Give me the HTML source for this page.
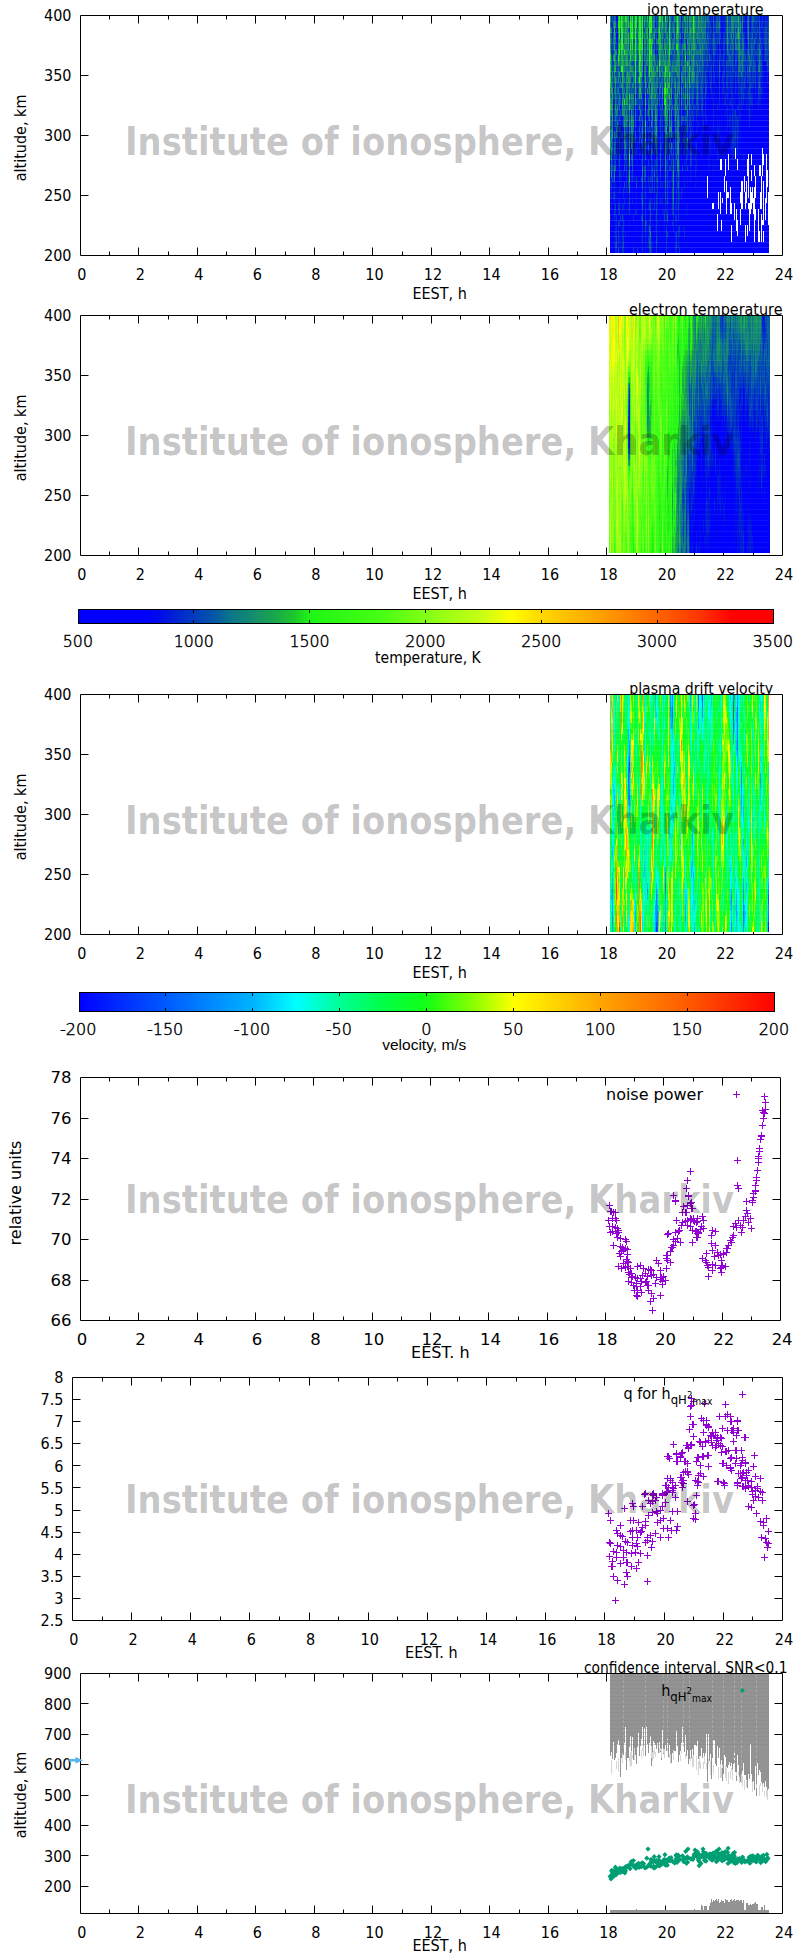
<!DOCTYPE html><html><head><meta charset="utf-8"><title>Institute of ionosphere, Kharkiv</title><style>html,body{margin:0;padding:0;background:#fff}svg{display:block}</style></head><body>
<svg width="800" height="1958" viewBox="0 0 800 1958">
<rect width="800" height="1958" fill="#fff"/>
<path d="M80.5 15.5H782.5V255.5H80.5ZM109.5 255.5v-4M109.5 15.5v4M138.5 255.5v-8M138.5 15.5v8M168.5 255.5v-4M168.5 15.5v4M197.5 255.5v-8M197.5 15.5v8M226.5 255.5v-4M226.5 15.5v4M255.5 255.5v-8M255.5 15.5v8M285.5 255.5v-4M285.5 15.5v4M314.5 255.5v-8M314.5 15.5v8M343.5 255.5v-4M343.5 15.5v4M372.5 255.5v-8M372.5 15.5v8M402.5 255.5v-4M402.5 15.5v4M431.5 255.5v-8M431.5 15.5v8M460.5 255.5v-4M460.5 15.5v4M489.5 255.5v-8M489.5 15.5v8M519.5 255.5v-4M519.5 15.5v4M548.5 255.5v-8M548.5 15.5v8M577.5 255.5v-4M577.5 15.5v4M606.5 255.5v-8M606.5 15.5v8M636.5 255.5v-4M636.5 15.5v4M665.5 255.5v-8M665.5 15.5v8M694.5 255.5v-4M694.5 15.5v4M723.5 255.5v-8M723.5 15.5v8M753.5 255.5v-4M753.5 15.5v4M80.5 195.5h8M782.5 195.5h-8M80.5 135.5h8M782.5 135.5h-8M80.5 75.5h8M782.5 75.5h-8" fill="none" stroke="#000" stroke-width="1"/>
<g font-family="'DejaVu Sans Condensed','DejaVu Sans',sans-serif" font-size="16" fill="#000">
<text x="81.9" y="280" text-anchor="middle">0</text>
<text x="140.4" y="280" text-anchor="middle">2</text>
<text x="198.9" y="280" text-anchor="middle">4</text>
<text x="257.4" y="280" text-anchor="middle">6</text>
<text x="315.9" y="280" text-anchor="middle">8</text>
<text x="374.4" y="280" text-anchor="middle">10</text>
<text x="432.9" y="280" text-anchor="middle">12</text>
<text x="491.4" y="280" text-anchor="middle">14</text>
<text x="549.9" y="280" text-anchor="middle">16</text>
<text x="608.4" y="280" text-anchor="middle">18</text>
<text x="666.9" y="280" text-anchor="middle">20</text>
<text x="725.4" y="280" text-anchor="middle">22</text>
<text x="783.9" y="280" text-anchor="middle">24</text>
<text x="71.5" y="261.2" text-anchor="end">200</text>
<text x="71.5" y="201.2" text-anchor="end">250</text>
<text x="71.5" y="141.2" text-anchor="end">300</text>
<text x="71.5" y="81.2" text-anchor="end">350</text>
<text x="71.5" y="21.2" text-anchor="end">400</text>
</g>
<path d="M80.5 315.5H782.5V555.5H80.5ZM109.5 555.5v-4M109.5 315.5v4M138.5 555.5v-8M138.5 315.5v8M168.5 555.5v-4M168.5 315.5v4M197.5 555.5v-8M197.5 315.5v8M226.5 555.5v-4M226.5 315.5v4M255.5 555.5v-8M255.5 315.5v8M285.5 555.5v-4M285.5 315.5v4M314.5 555.5v-8M314.5 315.5v8M343.5 555.5v-4M343.5 315.5v4M372.5 555.5v-8M372.5 315.5v8M402.5 555.5v-4M402.5 315.5v4M431.5 555.5v-8M431.5 315.5v8M460.5 555.5v-4M460.5 315.5v4M489.5 555.5v-8M489.5 315.5v8M519.5 555.5v-4M519.5 315.5v4M548.5 555.5v-8M548.5 315.5v8M577.5 555.5v-4M577.5 315.5v4M606.5 555.5v-8M606.5 315.5v8M636.5 555.5v-4M636.5 315.5v4M665.5 555.5v-8M665.5 315.5v8M694.5 555.5v-4M694.5 315.5v4M723.5 555.5v-8M723.5 315.5v8M753.5 555.5v-4M753.5 315.5v4M80.5 495.5h8M782.5 495.5h-8M80.5 435.5h8M782.5 435.5h-8M80.5 375.5h8M782.5 375.5h-8" fill="none" stroke="#000" stroke-width="1"/>
<g font-family="'DejaVu Sans Condensed','DejaVu Sans',sans-serif" font-size="16" fill="#000">
<text x="81.9" y="580" text-anchor="middle">0</text>
<text x="140.4" y="580" text-anchor="middle">2</text>
<text x="198.9" y="580" text-anchor="middle">4</text>
<text x="257.4" y="580" text-anchor="middle">6</text>
<text x="315.9" y="580" text-anchor="middle">8</text>
<text x="374.4" y="580" text-anchor="middle">10</text>
<text x="432.9" y="580" text-anchor="middle">12</text>
<text x="491.4" y="580" text-anchor="middle">14</text>
<text x="549.9" y="580" text-anchor="middle">16</text>
<text x="608.4" y="580" text-anchor="middle">18</text>
<text x="666.9" y="580" text-anchor="middle">20</text>
<text x="725.4" y="580" text-anchor="middle">22</text>
<text x="783.9" y="580" text-anchor="middle">24</text>
<text x="71.5" y="561.2" text-anchor="end">200</text>
<text x="71.5" y="501.2" text-anchor="end">250</text>
<text x="71.5" y="441.2" text-anchor="end">300</text>
<text x="71.5" y="381.2" text-anchor="end">350</text>
<text x="71.5" y="321.2" text-anchor="end">400</text>
</g>
<path d="M80.5 694.5H782.5V934.5H80.5ZM109.5 934.5v-4M109.5 694.5v4M138.5 934.5v-8M138.5 694.5v8M168.5 934.5v-4M168.5 694.5v4M197.5 934.5v-8M197.5 694.5v8M226.5 934.5v-4M226.5 694.5v4M255.5 934.5v-8M255.5 694.5v8M285.5 934.5v-4M285.5 694.5v4M314.5 934.5v-8M314.5 694.5v8M343.5 934.5v-4M343.5 694.5v4M372.5 934.5v-8M372.5 694.5v8M402.5 934.5v-4M402.5 694.5v4M431.5 934.5v-8M431.5 694.5v8M460.5 934.5v-4M460.5 694.5v4M489.5 934.5v-8M489.5 694.5v8M519.5 934.5v-4M519.5 694.5v4M548.5 934.5v-8M548.5 694.5v8M577.5 934.5v-4M577.5 694.5v4M606.5 934.5v-8M606.5 694.5v8M636.5 934.5v-4M636.5 694.5v4M665.5 934.5v-8M665.5 694.5v8M694.5 934.5v-4M694.5 694.5v4M723.5 934.5v-8M723.5 694.5v8M753.5 934.5v-4M753.5 694.5v4M80.5 874.5h8M782.5 874.5h-8M80.5 814.5h8M782.5 814.5h-8M80.5 754.5h8M782.5 754.5h-8" fill="none" stroke="#000" stroke-width="1"/>
<g font-family="'DejaVu Sans Condensed','DejaVu Sans',sans-serif" font-size="16" fill="#000">
<text x="81.9" y="959" text-anchor="middle">0</text>
<text x="140.4" y="959" text-anchor="middle">2</text>
<text x="198.9" y="959" text-anchor="middle">4</text>
<text x="257.4" y="959" text-anchor="middle">6</text>
<text x="315.9" y="959" text-anchor="middle">8</text>
<text x="374.4" y="959" text-anchor="middle">10</text>
<text x="432.9" y="959" text-anchor="middle">12</text>
<text x="491.4" y="959" text-anchor="middle">14</text>
<text x="549.9" y="959" text-anchor="middle">16</text>
<text x="608.4" y="959" text-anchor="middle">18</text>
<text x="666.9" y="959" text-anchor="middle">20</text>
<text x="725.4" y="959" text-anchor="middle">22</text>
<text x="783.9" y="959" text-anchor="middle">24</text>
<text x="71.5" y="940.2" text-anchor="end">200</text>
<text x="71.5" y="880.2" text-anchor="end">250</text>
<text x="71.5" y="820.2" text-anchor="end">300</text>
<text x="71.5" y="760.2" text-anchor="end">350</text>
<text x="71.5" y="700.2" text-anchor="end">400</text>
</g>
<path d="M80.5 1077.5H780.5V1320.5H80.5ZM109.5 1320.5v-4M109.5 1077.5v4M138.5 1320.5v-8M138.5 1077.5v8M168.5 1320.5v-4M168.5 1077.5v4M197.5 1320.5v-8M197.5 1077.5v8M226.5 1320.5v-4M226.5 1077.5v4M255.5 1320.5v-8M255.5 1077.5v8M284.5 1320.5v-4M284.5 1077.5v4M313.5 1320.5v-8M313.5 1077.5v8M343.5 1320.5v-4M343.5 1077.5v4M372.5 1320.5v-8M372.5 1077.5v8M401.5 1320.5v-4M401.5 1077.5v4M430.5 1320.5v-8M430.5 1077.5v8M459.5 1320.5v-4M459.5 1077.5v4M488.5 1320.5v-8M488.5 1077.5v8M518.5 1320.5v-4M518.5 1077.5v4M547.5 1320.5v-8M547.5 1077.5v8M576.5 1320.5v-4M576.5 1077.5v4M605.5 1320.5v-8M605.5 1077.5v8M634.5 1320.5v-4M634.5 1077.5v4M663.5 1320.5v-8M663.5 1077.5v8M693.5 1320.5v-4M693.5 1077.5v4M722.5 1320.5v-8M722.5 1077.5v8M751.5 1320.5v-4M751.5 1077.5v4M80.5 1280.5h8M780.5 1280.5h-8M80.5 1239.5h8M780.5 1239.5h-8M80.5 1199.5h8M780.5 1199.5h-8M80.5 1158.5h8M780.5 1158.5h-8M80.5 1118.5h8M780.5 1118.5h-8" fill="none" stroke="#000" stroke-width="1"/>
<g font-family="'DejaVu Sans',sans-serif" font-size="16.5" fill="#000">
<text x="82.05" y="1345" text-anchor="middle">0</text>
<text x="140.39" y="1345" text-anchor="middle">2</text>
<text x="198.73" y="1345" text-anchor="middle">4</text>
<text x="257.07" y="1345" text-anchor="middle">6</text>
<text x="315.41" y="1345" text-anchor="middle">8</text>
<text x="373.75" y="1345" text-anchor="middle">10</text>
<text x="432.09" y="1345" text-anchor="middle">12</text>
<text x="490.43" y="1345" text-anchor="middle">14</text>
<text x="548.77" y="1345" text-anchor="middle">16</text>
<text x="607.11" y="1345" text-anchor="middle">18</text>
<text x="665.45" y="1345" text-anchor="middle">20</text>
<text x="723.79" y="1345" text-anchor="middle">22</text>
<text x="782.13" y="1345" text-anchor="middle">24</text>
<text x="71.5" y="1326.2" text-anchor="end">66</text>
<text x="71.5" y="1285.7" text-anchor="end">68</text>
<text x="71.5" y="1245.2" text-anchor="end">70</text>
<text x="71.5" y="1204.7" text-anchor="end">72</text>
<text x="71.5" y="1164.2" text-anchor="end">74</text>
<text x="71.5" y="1123.7" text-anchor="end">76</text>
<text x="71.5" y="1083.2" text-anchor="end">78</text>
</g>
<path d="M72.5 1377.5H782.5V1620.5H72.5ZM102.5 1620.5v-4M102.5 1377.5v4M131.5 1620.5v-8M131.5 1377.5v8M161.5 1620.5v-4M161.5 1377.5v4M190.5 1620.5v-8M190.5 1377.5v8M220.5 1620.5v-4M220.5 1377.5v4M249.5 1620.5v-8M249.5 1377.5v8M279.5 1620.5v-4M279.5 1377.5v4M309.5 1620.5v-8M309.5 1377.5v8M338.5 1620.5v-4M338.5 1377.5v4M368.5 1620.5v-8M368.5 1377.5v8M397.5 1620.5v-4M397.5 1377.5v4M427.5 1620.5v-8M427.5 1377.5v8M457.5 1620.5v-4M457.5 1377.5v4M486.5 1620.5v-8M486.5 1377.5v8M516.5 1620.5v-4M516.5 1377.5v4M545.5 1620.5v-8M545.5 1377.5v8M575.5 1620.5v-4M575.5 1377.5v4M604.5 1620.5v-8M604.5 1377.5v8M634.5 1620.5v-4M634.5 1377.5v4M664.5 1620.5v-8M664.5 1377.5v8M693.5 1620.5v-4M693.5 1377.5v4M723.5 1620.5v-8M723.5 1377.5v8M752.5 1620.5v-4M752.5 1377.5v4M72.5 1598.5h8M782.5 1598.5h-8M72.5 1576.5h8M782.5 1576.5h-8M72.5 1554.5h8M782.5 1554.5h-8M72.5 1532.5h8M782.5 1532.5h-8M72.5 1510.5h8M782.5 1510.5h-8M72.5 1487.5h8M782.5 1487.5h-8M72.5 1465.5h8M782.5 1465.5h-8M72.5 1443.5h8M782.5 1443.5h-8M72.5 1421.5h8M782.5 1421.5h-8M72.5 1399.5h8M782.5 1399.5h-8" fill="none" stroke="#000" stroke-width="1"/>
<g font-family="'DejaVu Sans Condensed','DejaVu Sans',sans-serif" font-size="16" fill="#000">
<text x="73.95" y="1645" text-anchor="middle">0</text>
<text x="133.12" y="1645" text-anchor="middle">2</text>
<text x="192.28" y="1645" text-anchor="middle">4</text>
<text x="251.45" y="1645" text-anchor="middle">6</text>
<text x="310.62" y="1645" text-anchor="middle">8</text>
<text x="369.78" y="1645" text-anchor="middle">10</text>
<text x="428.95" y="1645" text-anchor="middle">12</text>
<text x="488.12" y="1645" text-anchor="middle">14</text>
<text x="547.28" y="1645" text-anchor="middle">16</text>
<text x="606.45" y="1645" text-anchor="middle">18</text>
<text x="665.62" y="1645" text-anchor="middle">20</text>
<text x="724.78" y="1645" text-anchor="middle">22</text>
<text x="783.95" y="1645" text-anchor="middle">24</text>
<text x="63.5" y="1626.2" text-anchor="end">2.5</text>
<text x="63.5" y="1604.11" text-anchor="end">3</text>
<text x="63.5" y="1582.02" text-anchor="end">3.5</text>
<text x="63.5" y="1559.93" text-anchor="end">4</text>
<text x="63.5" y="1537.84" text-anchor="end">4.5</text>
<text x="63.5" y="1515.75" text-anchor="end">5</text>
<text x="63.5" y="1493.65" text-anchor="end">5.5</text>
<text x="63.5" y="1471.56" text-anchor="end">6</text>
<text x="63.5" y="1449.47" text-anchor="end">6.5</text>
<text x="63.5" y="1427.38" text-anchor="end">7</text>
<text x="63.5" y="1405.29" text-anchor="end">7.5</text>
<text x="63.5" y="1383.2" text-anchor="end">8</text>
</g>
<path d="M80.5 1673.5H782.5V1913.5H80.5ZM109.5 1913.5v-4M109.5 1673.5v4M138.5 1913.5v-8M138.5 1673.5v8M168.5 1913.5v-4M168.5 1673.5v4M197.5 1913.5v-8M197.5 1673.5v8M226.5 1913.5v-4M226.5 1673.5v4M255.5 1913.5v-8M255.5 1673.5v8M285.5 1913.5v-4M285.5 1673.5v4M314.5 1913.5v-8M314.5 1673.5v8M343.5 1913.5v-4M343.5 1673.5v4M372.5 1913.5v-8M372.5 1673.5v8M402.5 1913.5v-4M402.5 1673.5v4M431.5 1913.5v-8M431.5 1673.5v8M460.5 1913.5v-4M460.5 1673.5v4M489.5 1913.5v-8M489.5 1673.5v8M519.5 1913.5v-4M519.5 1673.5v4M548.5 1913.5v-8M548.5 1673.5v8M577.5 1913.5v-4M577.5 1673.5v4M606.5 1913.5v-8M606.5 1673.5v8M636.5 1913.5v-4M636.5 1673.5v4M665.5 1913.5v-8M665.5 1673.5v8M694.5 1913.5v-4M694.5 1673.5v4M723.5 1913.5v-8M723.5 1673.5v8M753.5 1913.5v-4M753.5 1673.5v4M80.5 1886.5h8M782.5 1886.5h-8M80.5 1855.5h8M782.5 1855.5h-8M80.5 1825.5h8M782.5 1825.5h-8M80.5 1795.5h8M782.5 1795.5h-8M80.5 1764.5h8M782.5 1764.5h-8M80.5 1734.5h8M782.5 1734.5h-8M80.5 1703.5h8M782.5 1703.5h-8" fill="none" stroke="#000" stroke-width="1"/>
<g font-family="'DejaVu Sans Condensed','DejaVu Sans',sans-serif" font-size="16" fill="#000">
<text x="81.9" y="1938" text-anchor="middle">0</text>
<text x="140.4" y="1938" text-anchor="middle">2</text>
<text x="198.9" y="1938" text-anchor="middle">4</text>
<text x="257.4" y="1938" text-anchor="middle">6</text>
<text x="315.9" y="1938" text-anchor="middle">8</text>
<text x="374.4" y="1938" text-anchor="middle">10</text>
<text x="432.9" y="1938" text-anchor="middle">12</text>
<text x="491.4" y="1938" text-anchor="middle">14</text>
<text x="549.9" y="1938" text-anchor="middle">16</text>
<text x="608.4" y="1938" text-anchor="middle">18</text>
<text x="666.9" y="1938" text-anchor="middle">20</text>
<text x="725.4" y="1938" text-anchor="middle">22</text>
<text x="783.9" y="1938" text-anchor="middle">24</text>
<text x="71.5" y="1892.1" text-anchor="end">200</text>
<text x="71.5" y="1861.69" text-anchor="end">300</text>
<text x="71.5" y="1831.27" text-anchor="end">400</text>
<text x="71.5" y="1800.86" text-anchor="end">500</text>
<text x="71.5" y="1770.44" text-anchor="end">600</text>
<text x="71.5" y="1740.03" text-anchor="end">700</text>
<text x="71.5" y="1709.61" text-anchor="end">800</text>
<text x="71.5" y="1679.2" text-anchor="end">900</text>
</g>
<text x="439.6" y="298.7" font-family="'DejaVu Sans Condensed','DejaVu Sans',sans-serif" font-size="16" text-anchor="middle">EEST, h</text>
<text x="439.6" y="598.7" font-family="'DejaVu Sans Condensed','DejaVu Sans',sans-serif" font-size="16" text-anchor="middle">EEST, h</text>
<text x="439.6" y="977.7" font-family="'DejaVu Sans Condensed','DejaVu Sans',sans-serif" font-size="16" text-anchor="middle">EEST, h</text>
<text x="440.3" y="1358" font-family="'DejaVu Sans',sans-serif" font-size="16" text-anchor="middle">EEST. h</text>
<text x="431.3" y="1657.5" font-family="'DejaVu Sans Condensed','DejaVu Sans',sans-serif" font-size="16" text-anchor="middle">EEST. h</text>
<text x="439.6" y="1950.8" font-family="'DejaVu Sans Condensed','DejaVu Sans',sans-serif" font-size="16" text-anchor="middle">EEST, h</text>
<text transform="translate(25.8 137.9) rotate(-90)" text-anchor="middle" font-family="'DejaVu Sans Condensed','DejaVu Sans',sans-serif" font-size="16">altitude, km</text>
<text transform="translate(25.8 437.9) rotate(-90)" text-anchor="middle" font-family="'DejaVu Sans Condensed','DejaVu Sans',sans-serif" font-size="16">altitude, km</text>
<text transform="translate(25.8 816.9) rotate(-90)" text-anchor="middle" font-family="'DejaVu Sans Condensed','DejaVu Sans',sans-serif" font-size="16">altitude, km</text>
<text transform="translate(25.8 1795) rotate(-90)" text-anchor="middle" font-family="'DejaVu Sans Condensed','DejaVu Sans',sans-serif" font-size="16">altitude, km</text>
<text transform="translate(21.3 1193) rotate(-90)" text-anchor="middle" font-family="'DejaVu Sans',sans-serif" font-size="16">relative units</text>
<text x="647" y="15.3" font-family="'DejaVu Sans Condensed','DejaVu Sans',sans-serif" font-size="16" text-anchor="start" textLength="116.5" lengthAdjust="spacingAndGlyphs">ion temperature</text>
<text x="629" y="315.3" font-family="'DejaVu Sans Condensed','DejaVu Sans',sans-serif" font-size="16" text-anchor="start" textLength="153.5" lengthAdjust="spacingAndGlyphs">electron temperature</text>
<text x="629.2" y="694.3" font-family="'DejaVu Sans Condensed','DejaVu Sans',sans-serif" font-size="16" text-anchor="start" textLength="144" lengthAdjust="spacingAndGlyphs">plasma drift velocity</text>
<text x="584" y="1672.8" font-family="'DejaVu Sans Condensed','DejaVu Sans',sans-serif" font-size="16" text-anchor="start" textLength="203.5" lengthAdjust="spacingAndGlyphs">confidence interval, SNR&lt;0.1</text>
<text x="606" y="1099.5" font-family="'DejaVu Sans',sans-serif" font-size="16" text-anchor="start" textLength="97" lengthAdjust="spacingAndGlyphs">noise power</text>
<g shape-rendering="crispEdges" transform="translate(0.5 0)" stroke-width="1" fill="none">
<path stroke="#1aac47" d="M610 16v6M610 44v6M612 88v6M612 116v5M612 132v6M614 33v6M614 44v6M614 66v6M615 77v6M618 28v5M618 44v11M619 55v6M619 72v5M621 55v11M622 50v5M622 61v5M622 99v6M623 44v6M625 22v6M625 39v5M626 50v16M627 61v5M628 44v6M629 99v6M629 121v6M629 171v6M630 66v6M631 16v6M631 39v5M631 143v6M635 83v22M640 66v6M641 22v6M641 50v5M641 61v11M642 55v11M645 77v11M645 94v5M645 105v5M645 138v5M647 44v6M650 33v6M650 44v6M650 55v6M650 77v6M651 55v6M651 88v11M652 72v5M653 66v6M654 33v6M656 127v5M657 66v6M658 39v5M659 50v5M660 39v5M664 72v11M665 28v5M665 149v5M666 66v6M666 127v5M667 66v6M669 61v5M669 77v6M669 116v5M669 127v5M670 44v6M671 94v5M677 33v6M684 16v6M687 28v5M689 16v6M689 50v5M689 83v5M690 28v5M692 72v5M693 55v6M694 16v6M694 44v6M698 16v6M738 22v6"/>
<path stroke="#0f807d" d="M610 22v6M610 138v5M611 28v5M611 110v6M611 127v11M613 22v6M614 39v5M614 50v5M614 77v6M614 132v6M614 171v6M615 33v11M615 55v6M615 94v11M616 50v5M617 110v6M617 121v6M618 72v5M618 88v6M621 83v5M622 94v5M623 50v5M624 22v6M624 55v17M624 77v6M624 105v5M625 116v5M625 143v6M626 72v5M627 39v5M627 66v6M627 77v6M627 116v5M629 22v6M629 88v6M629 182v11M630 77v6M631 138v5M632 66v11M632 94v5M632 116v16M633 28v5M633 55v6M633 66v6M633 77v6M633 99v6M634 28v5M634 44v6M635 110v6M636 33v6M636 55v6M637 28v5M640 110v6M642 121v6M642 171v6M644 44v6M644 55v6M644 72v5M645 28v5M645 44v11M645 143v6M646 22v6M646 33v6M646 61v5M647 22v6M647 61v5M648 22v6M648 44v6M648 83v5M648 105v5M651 105v11M651 149v5M652 22v6M652 33v6M653 16v12M653 77v6M654 16v17M654 61v5M654 77v17M655 72v5M655 121v6M656 39v5M656 88v6M656 110v6M656 121v6M657 61v5M657 72v16M657 99v6M659 88v6M661 66v6M662 39v5M662 50v5M663 50v5M663 61v5M664 39v5M664 110v6M665 39v5M665 55v6M665 138v5M665 154v6M665 171v6M666 22v11M666 44v6M666 55v6M666 72v5M666 99v6M667 61v5M667 105v5M667 116v5M668 50v5M668 72v5M668 88v6M669 88v6M669 132v6M669 143v6M670 16v6M670 72v5M670 99v6M670 127v5M671 50v5M671 77v6M671 132v6M671 143v6M672 44v6M673 166v5M673 193v6M674 28v5M674 50v5M674 66v6M674 83v5M675 77v6M676 22v6M676 61v5M676 99v6M677 66v6M677 116v11M677 166v5M678 72v16M678 116v5M678 138v5M679 22v6M679 55v11M679 77v17M680 16v6M680 33v6M682 44v11M684 28v5M685 99v6M687 50v5M687 66v6M688 44v6M689 39v5M689 88v6M691 33v11M691 55v6M691 72v11M692 55v11M694 61v5M695 22v6M695 44v6M696 50v5M697 28v5M697 66v6M699 16v6M699 28v5M699 39v5M700 22v6M700 44v6M701 39v5M702 33v6M702 55v11M703 16v6M703 33v6M705 16v6M731 28v5M732 28v5M733 22v17M735 16v6M735 28v5M737 16v6M737 33v6M738 55v6M739 66v6M742 55v11M748 16v12M748 39v5M749 55v6M759 50v11"/>
<path stroke="#1cbb38" d="M610 28v5M610 39v5M610 83v5M610 99v6M611 149v5M612 94v5M615 66v6M618 61v5M620 22v6M622 55v6M622 77v6M625 28v5M626 22v6M626 39v5M627 72v5M628 16v6M628 33v11M630 39v5M631 28v5M632 50v5M639 88v6M640 50v5M640 61v5M640 88v6M641 72v5M645 132v6M647 28v11M651 61v5M652 39v5M659 39v11M659 66v11M660 33v6M660 44v6M660 61v5M665 94v5M666 88v6M668 83v5M669 16v6M669 83v5M676 33v6M677 50v5M678 28v5M685 83v5M687 94v5M689 72v5M693 39v5M694 28v5M738 16v6M738 28v5"/>
<path stroke="#138a71" d="M610 33v6M610 88v6M610 116v5M610 127v5M610 143v6M611 99v6M611 138v5M611 154v6M612 72v5M613 55v6M615 88v6M616 110v6M619 94v5M620 44v6M623 55v6M623 72v11M623 110v6M624 28v5M624 44v6M624 116v5M624 132v11M625 44v6M625 55v11M626 28v5M626 44v6M626 110v17M627 22v6M627 33v6M627 44v6M627 88v11M629 50v5M629 83v5M629 110v6M629 127v5M629 166v5M630 61v5M631 55v6M631 66v6M632 55v6M632 83v5M632 132v6M632 149v5M633 33v6M633 72v5M633 94v5M633 121v6M634 16v6M634 33v6M634 50v5M636 28v5M636 39v16M638 28v5M638 50v5M638 77v6M639 105v5M639 116v5M641 77v6M642 127v5M642 166v5M644 33v11M644 50v5M645 16v6M645 39v5M645 88v6M645 110v6M646 28v5M647 39v5M647 55v6M647 88v6M648 39v5M648 110v6M651 33v6M651 77v6M651 99v6M651 121v6M652 55v11M652 77v6M652 94v5M652 116v5M654 94v5M655 132v11M656 66v6M656 116v5M658 22v6M660 22v6M660 72v5M661 28v5M661 44v6M662 28v5M662 61v5M662 72v5M665 121v6M665 160v6M666 105v5M667 16v6M667 39v16M667 94v11M668 55v6M668 66v6M669 121v6M671 83v5M671 110v6M671 121v6M672 66v6M673 28v5M673 44v6M673 177v5M675 66v6M675 94v5M677 61v5M677 88v6M677 127v5M677 138v16M677 160v6M678 44v6M678 110v6M678 154v6M679 72v5M681 72v5M681 88v17M684 33v11M685 22v6M685 72v5M685 88v6M685 105v5M687 22v6M687 77v11M687 138v5M688 61v5M689 33v6M689 55v6M689 99v6M690 22v6M690 33v6M692 16v17M692 44v6M692 66v6M692 77v6M693 50v5M693 77v6M694 33v11M694 72v5M700 50v5M701 22v6M705 22v6M727 44v6M731 22v6M731 33v6M732 22v6M732 39v5M733 16v6M735 39v5M738 39v11M739 39v5M739 55v6M740 22v11M742 16v12M748 28v11M749 66v6M759 61v11"/>
<path stroke="#1ee81b" d="M610 50v5M610 72v5M619 44v6M621 33v6M621 50v5M622 28v5M624 99v6M630 16v6M630 55v6M632 44v6M635 50v5M636 16v12M639 33v6M640 16v6M640 44v6M640 72v5M642 39v5M645 121v6M649 72v5M650 39v5M651 44v6M660 16v6M664 99v6M665 72v5M665 105v5M669 22v6M669 33v6M669 72v5M676 44v6M677 44v6M685 55v6M693 28v5"/>
<path stroke="#21f614" d="M610 55v6M618 55v6M619 33v6M621 44v6M621 66v6M622 66v6M624 50v5M629 94v5M631 33v6M635 22v6M635 72v11M640 22v11M649 55v6M651 50v5M659 61v5M665 99v6M669 28v5M669 50v5M677 16v6M677 28v5"/>
<path stroke="#1ecd29" d="M610 61v5M610 105v5M614 28v5M614 55v6M618 16v6M622 16v12M622 72v5M626 16v6M628 22v6M629 105v5M629 149v5M629 160v6M629 177v5M630 33v6M630 50v5M631 22v6M638 33v6M639 72v5M641 39v11M642 50v5M645 99v6M647 16v6M650 22v6M650 50v5M651 39v5M651 66v6M659 22v6M659 33v6M659 55v6M662 16v12M664 94v5M665 50v5M665 110v6M667 88v6M669 55v6M669 94v5M687 61v5M689 66v6M689 77v6M693 33v6M738 33v6"/>
<path stroke="#26f714" d="M610 66v6M610 77v6M618 22v6M619 16v17M619 50v5M621 16v17M621 39v5M622 33v17M625 16v6M629 154v6M630 22v11M630 44v6M632 16v28M635 16v6M635 28v22M635 55v17M639 16v17M639 39v33M639 77v6M640 33v11M640 55v6M642 16v23M642 44v6M649 16v39M649 61v11M650 16v6M650 28v5M651 16v17M659 16v6M659 28v5M664 88v6M665 16v6M665 66v6M665 83v11M669 39v11M677 22v6M693 16v12"/>
<path stroke="#18a056" d="M610 94v5M610 110v6M611 88v6M611 105v5M612 99v17M612 127v5M614 22v6M615 50v5M615 83v5M615 105v5M619 39v5M622 83v5M622 110v6M623 16v6M623 28v5M623 61v5M624 121v6M625 33v6M626 33v6M626 77v6M626 94v11M627 16v6M627 28v5M627 83v5M627 99v6M628 77v6M629 61v5M629 77v6M629 116v5M629 132v11M631 94v5M631 116v5M632 138v5M634 22v6M638 44v6M639 83v5M639 94v5M640 77v6M641 94v5M642 132v6M644 16v12M645 127v5M649 77v6M649 88v6M650 61v11M652 88v6M654 55v6M655 116v5M658 28v5M660 50v5M662 88v11M664 61v5M664 83v5M665 61v5M665 132v6M665 143v6M666 116v5M667 72v16M667 110v6M668 61v5M670 39v5M671 88v6M671 127v5M673 171v6M675 83v5M676 16v6M677 39v5M677 94v5M677 105v5M678 22v6M678 50v16M678 143v6M684 44v6M685 28v5M685 44v11M685 66v6M685 77v6M685 94v5M687 16v6M687 39v5M687 99v6M689 28v5M689 94v5M693 44v6M694 22v6M698 22v6M701 16v6M727 16v12M727 33v6M739 44v6"/>
<path stroke="#169464" d="M610 121v6M611 83v5M611 171v6M612 121v6M614 61v5M614 72v5M615 22v6M615 61v5M617 105v5M618 33v11M618 77v6M619 61v5M620 16v6M620 39v5M622 88v6M622 105v5M623 22v6M623 66v6M623 94v5M624 16v6M624 33v11M624 110v6M625 50v5M626 88v6M627 50v11M629 72v5M629 143v6M631 44v11M631 110v6M631 121v11M634 55v6M638 16v12M638 39v5M640 83v5M641 16v6M641 28v11M641 55v6M642 66v6M645 66v11M645 116v5M647 50v5M649 83v5M650 232v5M651 72v5M651 83v5M652 83v5M652 110v6M653 55v6M653 72v5M654 72v5M655 94v5M655 105v11M656 132v6M658 33v6M660 55v6M660 83v5M661 16v6M662 33v6M662 44v6M663 55v6M664 44v6M665 22v6M665 44v6M665 77v6M665 116v5M665 127v5M665 166v5M666 94v5M667 33v6M669 66v6M669 99v17M670 22v6M673 182v6M674 16v6M674 33v6M675 88v6M675 99v22M676 28v5M676 66v6M677 55v6M677 72v5M677 132v6M678 16v6M678 33v11M678 121v6M678 132v6M678 149v5M678 160v11M679 66v6M682 77v6M685 16v6M685 61v5M687 88v6M687 110v6M689 22v6M689 44v6M689 61v5M689 105v5M690 16v6M691 16v6M691 28v5M691 44v11M693 61v16M694 50v5M697 33v6M701 28v5M702 44v6M719 22v6M727 28v5M727 39v5M731 16v6M732 16v6M739 33v6M739 50v5"/>
<path stroke="#086698" d="M610 132v6M610 149v5M611 55v6M611 66v6M611 121v6M611 160v11M612 83v5M612 138v11M613 33v6M614 143v6M614 177v5M615 16v6M615 166v5M616 127v11M617 88v6M618 99v6M619 83v5M620 28v5M620 50v5M620 61v5M620 83v5M623 83v5M624 149v11M625 99v6M625 121v6M626 105v5M627 105v5M628 28v5M628 55v17M628 83v5M629 33v11M631 61v5M631 72v5M631 88v6M632 105v5M632 160v6M633 16v12M633 44v6M633 127v5M634 61v5M634 72v5M635 132v6M637 16v6M639 127v5M641 83v11M642 143v6M642 204v6M642 215v6M645 55v11M645 154v6M645 171v6M645 221v5M646 16v6M646 39v5M646 83v5M648 66v6M648 143v6M649 94v5M649 116v5M649 226v6M650 72v5M650 237v16M651 138v5M652 16v6M652 121v6M652 149v5M653 28v5M653 39v5M653 94v11M654 99v6M654 171v6M655 83v5M655 99v6M656 28v5M656 72v5M656 99v11M657 39v5M657 94v5M658 44v6M659 77v6M659 99v6M660 28v5M660 154v12M661 33v11M661 61v5M661 77v6M662 105v5M663 28v11M664 22v11M665 33v6M666 83v5M667 215v6M668 39v5M668 105v5M669 154v6M670 50v5M671 33v6M671 99v6M672 22v11M672 39v5M672 72v5M672 105v5M674 22v6M674 55v6M674 72v5M674 94v5M674 105v5M675 121v11M676 55v6M676 94v5M676 154v6M677 99v6M678 182v6M679 28v11M679 44v6M679 94v11M680 22v6M681 105v5M682 16v6M682 28v5M682 55v6M682 72v5M682 116v5M683 22v6M683 72v11M683 88v6M684 72v5M686 16v12M686 105v5M687 121v6M688 33v6M688 50v5M688 77v6M690 50v5M690 83v5M691 22v6M692 33v6M692 88v11M693 83v5M694 55v6M695 33v6M695 50v5M696 22v11M696 44v6M696 72v5M696 83v5M697 55v11M697 72v5M697 94v11M698 72v5M699 44v6M699 61v5M700 16v6M700 33v11M701 33v6M702 16v6M702 39v5M702 66v17M703 39v11M704 33v6M705 28v5M705 39v5M706 44v6M707 33v6M708 16v6M708 39v5M709 55v6M713 16v12M713 33v6M716 22v6M719 16v6M719 28v5M719 39v5M719 61v5M728 39v5M729 22v11M729 55v6M730 33v6M730 44v6M732 44v6M732 61v5M733 44v6M737 44v6M738 61v5M738 72v5M739 16v12M740 61v5M741 55v11M742 28v5M743 39v5M743 55v6M747 22v6M748 44v6M748 55v6M751 44v17M752 16v12M752 33v6M752 50v5M754 39v5M759 22v6M759 33v6M759 83v5"/>
<path stroke="#0248b4" d="M610 154v6M611 72v5M611 94v5M611 116v5M613 16v6M613 77v6M614 83v5M614 94v5M614 110v6M614 138v5M614 154v12M614 193v6M615 44v6M615 132v11M615 149v5M615 160v6M615 204v6M615 243v5M616 66v11M616 88v6M616 105v5M616 237v6M617 55v11M617 72v11M617 132v6M618 83v5M619 77v6M619 116v5M619 127v5M619 149v5M619 204v6M620 33v6M622 132v6M622 215v6M623 237v11M624 83v5M624 182v6M625 77v6M625 149v5M626 127v11M627 121v6M628 99v6M630 88v11M630 121v6M631 83v5M633 39v5M634 39v5M634 88v6M636 61v5M637 33v11M637 50v5M637 83v5M638 72v5M638 83v11M640 99v11M641 99v6M641 116v5M641 127v5M641 177v5M642 188v11M643 28v5M644 28v5M644 143v6M644 177v5M645 226v6M646 44v11M646 66v6M646 77v6M647 110v6M648 16v6M648 77v6M648 116v5M648 149v5M649 204v6M650 105v5M650 215v6M654 105v11M654 166v5M655 55v6M655 77v6M656 44v11M656 154v12M656 177v5M656 215v6M656 243v5M657 28v5M657 105v5M657 116v5M657 127v5M658 61v11M658 77v6M660 94v5M660 105v5M660 127v5M661 83v5M663 16v6M663 44v6M664 16v6M664 33v6M664 50v5M664 215v6M665 188v5M666 50v5M666 143v6M666 232v11M667 28v5M667 160v6M667 232v5M668 33v6M669 166v5M670 77v6M670 105v5M670 138v5M671 61v5M671 149v5M672 50v11M672 193v6M672 204v6M673 33v6M673 50v5M673 77v6M673 88v6M673 149v5M673 210v5M674 110v6M675 50v5M675 149v5M675 160v6M676 50v5M676 105v5M676 121v6M676 243v5M677 154v6M678 105v5M678 177v5M679 39v5M679 121v6M680 44v6M681 110v6M682 33v6M682 88v6M682 166v5M683 39v5M683 61v5M683 99v6M683 116v5M683 138v5M684 22v6M684 83v5M684 99v6M684 138v5M684 149v5M686 50v5M686 77v11M686 127v5M686 143v6M687 132v6M688 16v12M689 110v6M689 121v6M690 44v6M690 72v5M690 116v5M691 88v11M692 110v6M693 105v5M694 83v5M695 61v11M695 83v5M696 66v6M696 88v6M696 99v6M697 44v6M698 66v6M698 77v17M698 105v5M699 55v6M699 77v6M700 61v5M700 83v5M701 61v11M701 105v5M702 94v16M703 55v6M703 66v6M704 55v6M705 50v5M705 94v5M707 22v6M707 39v11M707 55v11M708 28v11M709 22v6M710 28v5M710 83v5M713 55v17M714 33v6M714 50v5M717 39v5M718 28v5M719 55v6M719 77v6M720 33v6M724 39v5M726 22v6M726 33v6M727 61v5M727 72v5M728 16v6M728 44v6M728 55v11M729 16v6M729 39v5M729 61v5M730 28v5M730 39v5M730 61v5M732 66v6M733 50v5M735 50v11M735 72v5M736 50v11M738 77v6M739 77v6M740 39v5M740 72v5M741 22v6M741 39v5M741 83v11M742 72v11M743 33v6M743 61v5M744 55v6M744 77v6M745 72v5M747 28v5M747 55v6M747 72v5M749 50v5M749 77v22M750 66v6M750 83v5M752 28v5M752 39v5M752 55v6M752 66v6M753 28v5M753 39v11M753 55v6M754 28v5M754 44v11M754 61v5M755 33v11M755 50v5M755 61v5M755 77v6M756 50v5M757 28v5M757 44v6M758 39v11M758 55v6M758 77v6M758 88v6M759 16v6M759 39v5M759 72v5M760 55v6M760 66v11M761 61v11M764 39v5M765 28v5M765 55v6M766 44v6M767 50v5M768 16v12"/>
<path stroke="#0015e1" d="M610 160v6M610 171v11M611 199v11M612 171v6M613 143v6M613 182v6M613 199v5M614 127v5M614 204v6M614 237v6M615 182v6M615 193v6M615 215v11M616 39v5M617 39v5M618 160v6M618 199v5M619 121v6M619 193v6M619 232v5M620 132v11M620 154v6M620 182v6M620 243v5M621 94v5M621 116v5M621 149v5M621 171v11M621 199v5M621 210v5M622 210v5M624 171v6M624 188v5M624 210v5M624 221v5M625 243v10M626 210v5M627 138v5M628 132v6M628 160v6M628 210v5M628 221v5M630 127v5M630 138v5M631 149v5M633 143v6M633 243v5M634 149v5M635 226v6M636 105v5M636 121v6M636 160v6M636 193v11M637 88v6M637 127v5M637 138v5M637 177v5M639 149v11M641 237v6M642 94v5M643 39v5M643 77v6M643 121v6M644 99v6M644 121v11M644 160v6M644 193v6M645 160v6M645 248v5M646 110v6M646 132v6M646 243v5M647 143v6M647 166v5M648 166v11M648 182v6M648 204v6M648 226v6M648 243v5M649 132v6M649 149v5M649 160v11M649 177v5M650 132v6M651 182v6M651 199v5M651 237v6M652 199v5M652 210v5M652 243v5M653 127v5M654 193v6M655 39v5M655 149v5M655 166v5M655 215v6M655 226v6M656 188v5M657 33v6M657 204v11M657 232v11M658 72v5M658 105v5M659 121v6M660 99v6M660 193v6M660 215v6M661 94v5M662 193v6M662 210v5M663 94v5M663 210v5M664 221v11M665 210v11M666 199v5M667 204v6M668 143v6M668 232v5M669 160v6M669 177v5M670 143v6M670 160v6M670 177v5M670 188v5M671 177v5M671 204v6M672 160v6M673 99v6M674 127v5M674 143v6M674 166v5M675 171v6M675 188v5M675 237v6M676 160v6M676 210v5M678 237v6M679 127v5M679 188v5M679 243v5M681 127v11M681 149v5M682 110v6M682 121v6M682 138v5M682 188v5M683 121v11M683 226v6M684 110v6M684 226v6M685 138v5M685 166v5M686 39v11M686 166v5M686 210v5M687 177v11M687 204v6M688 110v11M688 149v5M689 127v5M690 171v11M691 171v6M692 105v5M693 121v6M693 154v6M694 110v11M695 94v11M695 110v6M695 143v11M695 160v6M695 182v6M696 121v6M696 154v6M696 166v5M698 110v6M699 83v5M699 94v5M700 99v6M702 116v16M703 88v11M703 110v11M703 127v5M704 83v5M705 116v5M706 99v6M706 121v6M707 72v5M707 83v5M707 94v5M708 66v6M708 149v22M709 28v5M709 160v6M710 16v6M710 61v5M710 88v6M710 138v16M711 22v6M711 33v6M711 44v6M711 94v5M712 16v6M712 50v5M712 61v5M712 88v11M712 166v5M713 94v5M713 116v5M714 16v6M714 61v5M714 88v6M714 143v11M714 160v11M715 55v6M715 83v5M717 116v11M717 154v6M718 77v6M718 127v11M718 154v6M718 166v5M719 105v5M719 121v11M720 39v11M720 143v6M721 22v6M721 44v6M721 55v6M721 77v6M721 127v5M722 39v5M722 66v6M722 83v5M722 94v5M723 16v6M723 99v6M724 22v11M724 77v28M725 50v5M725 88v6M725 127v5M726 94v5M727 99v6M727 127v5M728 83v5M729 77v11M729 110v6M730 110v6M730 121v22M731 94v5M731 105v5M731 138v5M731 149v5M732 99v6M732 149v5M733 99v6M733 110v6M733 154v6M734 50v5M734 72v5M734 99v6M734 116v16M734 149v5M735 94v5M735 160v6M736 77v11M736 127v5M737 55v22M737 88v6M737 105v11M737 154v5M738 99v6M738 121v6M738 132v17M739 121v17M740 77v6M740 94v11M740 110v6M741 16v6M742 105v5M743 22v11M743 154v6M744 28v5M744 88v6M746 50v11M746 72v5M746 94v16M746 160v6M747 83v5M747 99v6M748 83v5M748 99v17M750 110v6M751 72v5M752 88v6M752 105v5M755 44v6M755 94v5M756 44v6M756 66v6M757 66v6M757 77v6M758 22v6M758 33v6M758 99v11M760 16v12M760 99v6M761 77v6M761 105v5M762 39v5M762 61v11M762 77v17M763 16v12M763 66v6M764 16v6M767 16v6M767 72v5"/>
<path stroke="#0030ca" d="M610 166v5M611 16v6M611 177v5M611 188v5M612 50v11M613 177v5M613 193v6M614 105v5M614 188v5M615 154v6M615 248v5M616 55v6M616 83v5M616 154v6M616 215v6M616 226v11M616 248v5M617 149v5M618 110v11M618 127v5M618 204v6M618 232v11M619 110v6M619 177v5M619 188v5M620 116v5M620 171v6M621 88v6M621 132v6M622 121v6M622 204v6M622 226v11M623 188v5M623 226v6M623 248v5M624 160v6M624 199v5M625 88v6M625 160v6M626 149v5M626 160v6M626 171v22M627 132v6M627 143v6M628 116v5M628 171v6M629 44v6M629 193v6M629 204v11M630 116v5M631 160v6M632 77v6M633 132v11M633 149v5M633 215v6M635 210v5M636 149v5M636 177v5M636 210v5M637 61v5M637 72v5M637 94v5M637 110v6M637 248v5M638 105v5M639 110v6M639 121v6M641 105v5M642 88v6M643 88v6M644 88v6M645 177v5M645 188v11M645 204v17M646 221v5M647 66v6M647 121v11M648 94v5M648 138v5M648 177v5M648 237v6M649 138v5M649 182v6M650 83v5M650 99v6M650 127v5M650 188v5M650 221v5M651 127v5M651 160v22M652 143v6M652 160v6M653 44v6M654 138v5M654 149v5M654 182v6M654 199v5M655 16v6M655 33v6M655 44v6M655 160v6M656 171v6M656 221v5M656 232v5M657 22v6M657 121v6M657 132v6M657 143v6M657 166v11M657 199v5M658 83v5M658 94v5M660 182v6M660 199v5M661 99v11M661 143v6M662 110v6M662 160v6M662 182v6M663 83v11M664 210v5M665 204v6M666 160v6M666 210v5M666 243v10M667 138v5M667 154v6M667 210v5M668 16v6M668 132v6M669 182v6M670 83v5M670 110v6M670 166v5M671 154v6M671 166v5M672 33v6M672 88v6M672 121v6M672 154v6M672 210v5M672 221v5M673 94v5M673 105v11M673 132v6M673 154v6M674 121v6M675 33v6M675 154v6M675 166v5M675 215v6M675 232v5M675 243v5M676 88v6M676 116v5M676 149v5M676 177v5M676 193v6M676 215v6M676 248v5M678 210v5M678 226v6M679 132v6M679 160v17M680 61v5M681 28v5M681 66v6M682 99v6M683 50v5M684 105v5M684 116v5M684 232v5M685 110v6M685 121v11M686 110v6M686 149v17M687 154v6M688 28v5M688 88v6M689 138v5M690 121v6M690 143v6M691 99v6M691 110v6M691 121v6M691 132v6M691 143v11M692 127v5M693 99v6M693 116v5M694 88v11M694 105v5M695 72v5M695 88v6M695 105v5M696 105v16M696 143v6M699 72v5M700 77v6M700 94v5M701 72v5M701 99v6M702 110v6M703 77v6M703 121v6M704 61v5M704 72v11M705 55v17M705 110v6M706 28v11M706 61v5M706 72v11M707 66v6M709 44v6M709 72v5M710 39v11M710 55v6M710 66v6M711 16v6M711 28v5M711 39v5M711 55v11M711 88v6M713 77v6M713 99v6M713 110v6M714 22v11M714 55v6M714 72v11M715 22v11M715 39v5M715 50v5M716 33v11M717 33v6M717 55v11M718 33v6M719 94v11M720 16v6M722 88v6M723 50v5M723 66v6M723 77v6M724 33v6M724 44v6M724 55v17M725 16v6M725 28v5M725 99v6M726 50v11M726 72v5M727 55v6M727 94v5M728 66v11M729 44v6M729 72v5M729 116v5M730 50v5M730 72v5M730 83v5M731 72v5M731 88v6M732 77v11M732 94v5M732 105v11M732 121v22M733 61v5M733 127v5M733 143v6M734 110v6M735 66v6M735 83v11M735 116v11M735 143v5M736 61v5M736 72v5M736 116v5M737 132v6M737 143v11M738 83v11M738 105v5M740 88v6M741 33v6M741 94v11M742 88v11M743 83v11M743 99v6M744 16v6M744 33v6M744 61v5M745 66v6M745 77v6M746 61v5M747 39v11M748 72v11M748 88v6M749 16v6M749 99v22M750 50v5M750 94v11M751 66v6M751 83v5M751 94v11M752 61v5M752 83v5M753 72v11M754 72v11M755 28v5M756 22v11M757 16v12M757 50v5M758 16v6M758 72v5M758 94v5M759 94v5M760 28v11M760 77v6M761 39v5M761 50v11M761 72v5M761 88v6M762 22v6M762 55v6M763 39v5M764 33v6M764 44v6M764 55v6M765 22v6M767 39v5M767 55v6M767 66v6M768 61v11"/>
<path stroke="#0023d4" d="M610 182v6M610 193v6M610 215v6M611 22v6M611 50v5M611 193v6M612 22v11M612 154v6M613 149v11M613 171v6M614 99v6M614 182v6M614 199v5M614 215v6M615 127v5M615 210v5M615 226v6M615 237v6M616 221v5M617 50v5M617 143v6M618 210v5M618 226v6M618 243v5M619 199v5M619 237v6M621 99v17M621 143v6M622 127v5M622 138v5M622 237v6M623 138v5M623 171v6M623 193v6M623 204v6M623 215v6M623 232v5M625 232v5M628 121v6M628 177v5M628 204v6M629 16v6M629 28v5M631 171v11M632 199v5M634 99v6M634 138v5M634 177v5M635 143v17M637 105v5M637 116v5M637 143v6M639 143v6M641 132v6M641 143v11M641 160v6M641 199v5M642 110v6M642 243v5M643 44v17M643 83v5M644 83v5M644 110v6M644 138v5M645 182v6M645 199v5M645 232v11M646 72v5M646 88v6M646 99v6M646 143v6M647 99v6M648 28v5M649 199v5M649 215v11M651 188v5M651 243v10M652 204v6M653 116v5M654 143v6M654 160v6M656 182v6M657 154v6M657 193v6M657 221v5M659 105v11M660 177v5M661 88v6M661 116v5M662 127v5M662 138v5M662 199v5M664 121v6M666 166v5M666 215v6M667 149v5M667 166v5M667 221v5M668 22v6M669 138v5M669 149v5M670 116v5M672 166v5M672 182v6M673 138v11M673 215v17M675 204v6M675 248v5M676 138v5M676 171v6M676 182v6M676 204v6M676 221v5M677 177v5M678 243v5M679 110v6M679 149v5M679 177v11M679 193v11M679 232v5M680 66v6M681 22v6M681 143v6M681 188v11M682 83v5M682 105v5M682 127v5M683 33v6M683 132v6M684 88v6M684 121v17M684 143v6M684 160v6M684 182v6M685 143v6M686 72v5M686 121v6M687 149v5M689 132v6M690 61v5M690 99v6M690 110v6M690 138v5M690 166v5M691 116v5M691 138v5M692 116v5M693 110v6M693 132v6M695 154v6M695 166v11M696 127v5M696 149v5M696 160v6M698 121v6M699 88v6M699 110v6M701 110v6M703 99v6M704 66v6M704 94v5M705 99v11M706 116v5M706 138v5M707 77v6M708 55v11M709 39v5M709 61v11M709 77v6M709 138v11M710 72v11M711 50v5M711 83v5M712 33v6M713 72v5M713 105v5M713 121v11M715 16v6M715 33v6M715 61v11M716 44v11M717 44v11M717 66v11M717 105v5M717 127v16M717 149v5M718 39v5M720 28v5M720 66v6M721 39v5M721 61v5M722 16v6M722 55v11M722 72v5M723 22v6M723 88v6M724 16v6M725 22v6M725 33v11M725 94v5M725 110v6M726 88v6M727 88v6M727 105v22M728 77v6M728 88v6M729 66v6M729 99v6M729 121v6M730 88v6M730 99v6M730 116v5M731 66v6M731 77v11M731 99v6M731 143v6M732 88v6M732 143v6M732 154v6M733 72v11M733 116v11M733 132v6M733 149v5M734 39v11M734 66v6M734 138v11M736 66v6M736 121v6M736 132v6M737 77v6M737 116v5M738 94v5M738 116v5M738 127v5M739 83v38M740 83v5M741 105v5M742 83v5M743 77v6M744 22v6M744 39v11M744 72v5M744 94v5M745 44v11M745 83v11M747 88v11M748 94v5M749 22v17M749 121v6M751 77v6M752 94v11M753 33v6M753 50v5M753 83v5M754 22v6M754 33v6M755 55v6M755 88v6M756 39v5M756 55v6M757 33v11M757 61v5M757 72v5M757 99v6M758 28v5M759 99v6M760 94v5M761 33v6M762 28v5M762 44v6M762 72v5M763 28v11M764 22v6M764 50v5M765 16v6M766 16v6M766 61v5M767 22v11M767 77v6"/>
<path stroke="#0002f9" d="M610 188v5M612 193v6M613 88v6M615 177v5M615 188v5M615 199v5M616 16v6M616 193v6M616 210v5M618 132v6M618 166v11M618 193v6M618 215v6M619 226v6M620 149v5M620 177v5M620 226v6M621 121v6M621 166v5M621 193v6M621 204v6M621 237v6M622 154v6M622 182v6M623 132v6M623 143v6M623 166v5M623 177v5M623 210v5M624 193v6M624 226v11M625 166v16M625 199v5M625 221v5M627 149v5M628 127v5M628 154v6M628 193v6M628 226v6M628 248v5M629 215v6M630 110v6M630 143v11M630 182v6M631 188v5M632 215v6M633 166v5M633 193v6M633 221v5M633 237v6M634 105v5M634 132v6M634 188v5M635 204v6M636 116v5M636 171v6M637 215v6M638 127v5M638 138v5M640 127v5M640 166v5M641 154v6M641 166v5M641 188v5M641 226v6M643 72v5M643 99v11M644 154v6M646 94v5M646 138v5M646 160v11M646 177v5M646 188v5M647 116v5M647 138v5M648 121v6M648 248v5M650 143v6M650 166v5M650 182v6M653 132v6M653 143v6M655 50v5M655 154v6M655 177v5M655 188v5M655 210v5M655 232v5M657 226v6M657 243v5M658 121v6M659 143v6M659 221v5M659 237v6M660 210v5M660 232v5M660 243v10M661 132v6M661 154v6M662 166v5M662 215v6M662 226v17M663 99v6M663 116v27M663 149v5M663 177v5M663 204v6M663 226v6M663 243v5M664 132v6M664 188v5M664 199v5M665 232v5M665 243v5M666 171v17M666 204v6M667 127v5M667 226v6M667 237v6M668 116v5M668 149v5M668 188v5M668 204v6M668 215v6M668 248v5M669 171v6M669 237v6M670 154v6M670 199v5M671 171v6M671 210v5M672 94v5M672 127v5M672 138v5M673 127v5M673 232v5M673 243v10M674 160v6M674 199v5M674 210v11M675 193v6M675 210v5M675 226v6M677 193v6M678 221v5M678 248v5M679 143v6M679 215v6M680 88v6M680 110v6M680 193v6M681 16v6M681 199v16M682 160v6M682 193v6M682 215v6M682 232v5M683 193v11M683 243v5M684 166v5M684 221v5M684 237v6M685 182v6M685 193v6M686 99v6M686 132v6M686 171v17M686 199v5M686 215v11M686 232v5M686 243v5M687 188v5M687 199v5M688 132v11M688 171v6M689 143v6M690 182v6M691 204v6M692 132v6M693 127v5M693 171v6M694 99v6M694 143v6M694 160v11M694 177v5M694 204v6M694 243v5M695 121v6M695 138v5M695 193v6M696 171v6M696 199v11M697 116v5M697 127v5M697 138v5M697 160v6M697 177v5M697 204v6M698 138v5M699 105v5M699 116v5M700 110v17M700 171v6M700 188v5M701 121v11M701 154v6M701 171v6M702 138v5M702 149v5M703 105v5M704 105v5M704 204v6M705 121v17M706 94v5M706 110v6M706 127v5M706 149v5M706 160v6M706 171v6M707 88v6M707 99v6M708 132v11M708 177v5M709 88v11M709 171v6M709 182v6M710 50v5M710 94v11M710 116v11M710 154v23M710 210v5M711 127v5M711 154v6M712 66v17M712 99v6M712 110v6M712 121v6M712 132v11M712 149v5M712 177v5M713 143v6M713 166v5M714 99v6M714 127v16M714 177v5M715 88v6M715 132v6M715 143v6M716 66v6M716 88v6M716 99v6M716 110v6M716 121v6M716 132v6M716 143v6M716 154v12M716 171v6M717 77v22M717 143v6M718 50v5M718 61v5M718 99v6M718 110v17M718 143v6M718 160v6M718 171v6M719 149v5M719 166v5M719 177v16M720 61v5M720 77v6M720 121v6M720 132v11M720 149v5M720 170v1M720 182v6M721 16v6M721 28v11M721 83v11M721 105v5M721 116v5M721 143v6M721 170v7M722 22v6M722 50v5M722 99v6M722 127v11M723 94v5M724 105v5M724 116v5M724 132v6M725 55v6M725 72v11M725 193v6M726 110v17M726 132v6M727 149v11M727 171v6M728 149v5M728 170v7M729 88v6M729 143v6M729 160v6M730 94v5M730 105v5M730 143v6M730 166v5M731 110v6M731 121v11M731 160v6M731 243v5M732 237v16M733 83v5M733 160v6M734 83v11M734 105v5M734 154v6M735 105v5M735 232v11M735 248v5M736 94v16M736 154v12M737 94v11M738 110v6M738 166v5M739 154v17M740 138v5M740 149v5M740 160v17M741 127v5M741 138v16M741 160v6M743 105v11M743 149v5M743 166v11M744 99v6M744 171v5M744 210v5M745 149v5M746 44v6M746 88v6M746 116v11M746 210v16M747 110v11M748 209v1M748 221v5M750 121v6M751 105v5M751 116v11M751 132v6M751 226v6M754 88v11M754 121v6M754 138v11M754 160v5M755 116v22M755 149v5M755 171v5M756 72v5M756 83v5M756 94v11M756 110v17M756 132v6M756 182v11M757 83v5M757 94v5M757 121v6M757 171v17M758 116v5M758 160v17M758 188v5M759 110v6M759 182v11M759 199v5M760 105v5M761 94v5M761 121v6M761 171v5M762 50v5M762 110v17M762 176v1M762 188v5M762 204v11M763 44v6M763 55v11M763 99v6M764 83v11M764 99v6M764 154v6M764 166v5M764 182v6M765 110v6M765 160v6M765 177v11M765 193v5M765 220v6M765 232v5M766 66v11M766 215v11M767 83v5M767 127v5M767 187v1M768 72v5M768 225v1M768 232v16"/>
<path stroke="#0000fd" d="M610 199v5M610 210v5M610 232v11M611 237v6M611 248v5M612 182v6M612 204v6M612 221v5M612 232v5M612 243v10M613 138v5M613 188v5M613 204v6M613 215v6M613 232v5M614 221v11M614 248v5M616 204v6M617 16v6M617 177v5M617 210v5M618 154v6M618 177v11M620 188v5M620 232v11M621 127v5M621 221v5M621 243v10M622 171v11M622 221v5M623 149v5M624 215v6M624 237v16M625 215v6M626 204v6M626 248v5M627 166v11M627 182v11M627 215v6M628 166v5M628 215v6M629 226v6M629 237v6M630 171v11M630 188v5M630 199v16M631 193v6M632 221v16M632 243v5M633 154v6M633 177v5M633 204v11M634 110v6M634 127v5M634 143v6M634 154v17M634 182v6M634 199v5M634 215v6M634 232v5M634 248v5M635 182v6M635 193v11M635 232v5M636 138v5M636 154v6M636 166v5M636 221v5M636 243v10M637 121v6M637 154v6M637 166v5M637 182v28M638 132v6M638 160v6M639 171v6M639 221v5M639 232v11M640 160v6M640 171v6M640 193v6M640 215v6M640 226v6M641 121v6M641 210v5M641 221v5M641 248v5M643 66v6M643 94v5M643 116v5M643 127v5M643 154v6M643 188v5M643 221v5M643 243v5M644 132v6M644 182v6M644 199v16M644 248v5M646 116v5M646 171v6M646 193v6M646 215v6M646 226v6M647 149v5M647 160v6M647 188v5M648 188v5M650 149v5M650 160v6M651 204v6M651 226v6M652 193v6M652 226v6M652 237v6M653 121v6M653 160v6M653 171v6M653 182v6M654 237v11M655 193v17M655 221v5M655 237v6M655 248v5M657 248v5M658 116v5M658 204v6M658 215v11M658 232v5M658 243v10M659 116v5M659 132v6M659 149v28M659 193v17M661 149v5M661 160v11M661 221v5M661 243v5M662 221v5M662 248v5M663 105v5M663 171v6M663 182v6M663 199v5M664 138v11M664 160v22M664 204v6M664 248v5M665 226v6M668 121v6M668 154v6M668 171v6M668 210v5M668 237v6M669 199v5M669 221v5M669 232v5M669 248v5M670 182v6M670 204v17M670 237v6M670 248v5M671 188v5M671 215v11M671 232v5M672 232v5M672 243v5M674 149v5M674 171v6M674 182v17M674 204v6M677 199v16M680 77v11M680 99v6M680 121v17M680 149v5M680 160v17M680 182v6M681 215v11M681 232v11M681 248v5M682 199v5M682 226v6M683 166v11M683 182v6M683 215v6M683 232v11M683 248v5M684 204v6M684 215v6M685 160v6M685 171v6M685 199v11M685 226v6M685 243v5M686 188v5M686 226v6M687 232v5M688 143v6M688 166v5M688 177v5M688 188v11M688 204v6M688 221v11M688 237v6M688 248v5M689 149v5M689 193v6M690 193v6M690 204v11M691 199v5M691 210v11M691 232v5M692 143v23M692 171v17M692 193v11M692 221v5M692 237v11M693 188v5M694 199v5M694 210v33M694 248v5M695 188v5M695 204v6M695 215v11M695 237v16M696 210v11M697 166v5M697 182v11M697 199v5M697 221v5M697 232v16M698 143v11M698 160v6M698 177v11M698 193v6M698 215v6M699 121v6M699 132v22M699 160v11M699 177v22M700 127v11M700 166v5M700 182v6M700 193v17M700 215v6M701 143v11M701 188v11M701 215v17M702 154v12M702 199v5M702 210v11M702 226v11M703 143v11M703 193v11M703 215v28M704 127v16M704 160v6M704 171v6M704 182v6M704 193v6M704 215v6M704 232v21M705 143v39M705 188v5M705 204v6M705 221v27M706 166v5M706 182v33M706 226v17M707 105v5M707 138v28M707 171v5M707 199v38M708 94v11M708 110v11M708 204v11M708 221v27M709 99v6M709 193v44M709 243v10M710 105v5M710 199v11M710 221v5M710 243v10M711 110v6M711 177v5M711 226v11M712 182v6M712 199v4M712 221v5M713 171v6M713 237v16M714 105v5M714 121v6M714 182v50M714 237v16M715 105v27M715 149v5M715 177v16M715 210v5M715 221v5M716 61v5M716 177v5M716 188v38M717 171v17M718 177v15M718 209v1M719 193v11M720 83v5M720 94v27M720 127v5M720 188v4M720 214v1M720 221v22M720 248v5M721 94v5M721 182v38M721 231v22M722 121v6M722 149v33M722 203v12M722 221v16M722 243v10M723 110v6M723 121v83M723 210v11M724 110v6M724 138v5M724 149v5M724 160v16M724 192v45M724 243v10M725 132v27M725 182v6M725 199v38M725 243v10M726 138v11M726 154v27M727 188v4M727 198v6M727 210v27M727 243v5M728 99v6M728 110v11M728 177v15M728 199v54M729 171v6M729 182v33M729 221v11M729 248v5M730 171v6M730 182v5M730 214v1M730 221v32M731 166v16M731 215v6M732 182v44M733 171v17M733 221v11M733 237v16M734 94v5M734 160v11M734 232v21M735 182v17M735 210v11M735 226v6M736 171v11M736 232v21M737 171v11M738 182v22M738 215v6M738 226v27M739 188v11M739 226v6M739 237v11M740 182v6M740 203v6M741 171v10M741 221v11M741 243v10M742 121v6M742 138v22M742 166v15M742 215v6M742 232v11M743 121v22M743 177v5M743 188v38M743 232v5M744 110v6M744 121v6M744 132v28M744 193v6M744 226v27M745 16v12M745 121v28M745 160v6M745 209v1M745 215v10M746 16v6M746 127v11M746 154v6M746 166v5M746 237v16M747 121v38M747 176v6M747 199v26M747 236v7M747 248v5M748 199v4M748 226v17M748 248v5M749 138v16M749 193v10M749 232v21M750 132v6M750 143v17M750 214v1M750 226v6M750 243v10M751 138v5M751 149v5M751 232v16M752 132v6M752 143v6M752 154v17M752 177v10M752 203v29M752 237v16M753 132v6M753 143v17M753 214v39M754 99v22M754 243v10M755 199v10M755 220v1M755 232v21M756 77v6M756 199v11M756 243v10M757 105v11M757 127v22M757 188v5M757 199v11M757 215v6M757 243v10M758 127v22M758 154v6M758 199v10M759 116v16M759 154v6M759 204v11M759 242v11M760 116v27M760 149v5M760 160v5M760 182v6M760 209v12M760 232v5M760 243v10M761 127v16M761 149v17M761 209v5M761 242v6M762 105v5M762 138v10M762 225v12M763 116v5M763 127v22M763 166v15M763 225v6M763 242v1M763 248v5M764 94v5M764 116v11M764 132v22M764 188v65M765 77v33M765 116v38M765 248v5M766 83v11M766 99v28M766 132v11M766 243v5M767 88v39M767 132v38M767 188v22M767 221v5M767 232v21M768 77v11M768 94v5M768 149v28M768 188v4"/>
<path stroke="#0008ee" d="M610 204v6M610 221v5M611 215v6M612 33v6M612 188v5M613 105v5M614 232v5M614 243v5M615 171v6M616 33v6M616 138v16M616 160v33M616 199v5M617 22v11M617 44v6M617 154v6M617 166v5M617 243v5M618 143v6M618 188v5M619 182v6M619 243v10M620 105v5M620 160v11M620 204v6M620 248v5M621 138v5M621 154v6M621 182v6M622 116v5M622 149v5M622 188v5M623 127v5M623 154v6M623 199v5M624 204v6M625 237v6M626 193v6M628 138v5M628 149v5M628 188v5M628 199v5M628 232v11M629 221v5M630 160v6M631 166v5M632 182v17M633 160v6M633 226v6M634 94v5M634 121v6M634 193v6M634 210v5M635 171v11M635 188v5M635 237v6M635 248v5M636 94v5M636 110v6M636 188v5M636 204v6M637 132v6M637 160v6M637 221v27M638 116v5M640 138v22M640 232v5M640 243v5M641 171v6M641 182v6M641 204v6M643 61v5M644 105v5M644 116v5M644 226v6M645 243v5M646 127v5M646 154v6M646 182v6M646 232v5M647 83v5M647 105v5M648 199v5M648 221v5M648 232v5M649 154v6M649 171v6M649 210v5M650 154v6M650 171v6M650 193v6M651 193v6M651 210v16M651 232v5M652 215v11M652 248v5M653 110v6M653 138v5M654 154v6M654 210v5M654 232v5M655 22v6M655 171v6M655 243v5M657 50v5M657 215v6M658 88v6M658 99v6M659 127v5M659 138v5M659 226v11M659 243v10M660 188v5M660 204v6M660 221v5M660 237v6M661 121v11M661 138v5M662 143v17M662 204v6M662 243v5M663 154v6M663 193v6M663 221v5M663 232v11M663 248v5M664 149v11M664 232v5M664 243v5M666 154v6M666 193v6M666 221v5M667 243v10M668 110v6M668 127v5M668 160v11M668 182v6M668 193v11M669 193v6M669 204v11M670 193v6M671 138v5M671 182v6M671 193v6M672 110v11M672 149v5M672 215v6M673 116v11M673 237v6M674 132v11M674 154v6M674 177v5M676 226v6M679 154v6M679 204v11M679 221v5M679 237v6M680 72v5M681 33v11M681 138v5M681 154v6M681 166v11M682 132v6M682 143v17M682 171v17M682 204v6M683 110v6M683 143v11M684 154v6M684 177v5M684 188v5M684 210v5M684 243v10M685 149v11M685 177v5M686 55v6M686 204v6M686 237v6M686 248v5M687 160v6M687 171v6M687 210v11M687 237v11M688 105v5M688 127v5M691 127v5M691 166v5M691 177v5M692 121v6M692 138v5M693 138v16M694 149v11M695 177v5M696 132v11M696 177v11M697 121v6M697 132v6M697 149v5M698 116v5M698 127v11M699 99v6M700 105v5M701 116v5M701 132v6M702 132v6M703 132v11M704 88v6M704 110v6M706 105v5M706 132v6M706 143v6M707 127v5M708 83v5M708 143v6M708 171v6M709 83v5M709 127v11M709 149v11M709 166v5M710 127v11M711 132v22M712 22v11M712 55v6M712 83v5M712 105v5M712 116v5M712 127v5M712 143v6M712 154v12M712 171v6M713 83v11M713 132v11M714 66v6M714 83v5M714 94v5M714 110v11M714 171v6M715 72v11M715 94v11M716 55v6M716 72v11M716 94v5M716 105v5M716 127v5M716 138v5M716 149v5M716 166v5M717 99v6M717 110v6M717 160v6M718 55v6M718 66v11M718 83v11M718 105v5M718 138v5M718 149v5M719 110v11M719 132v17M719 154v12M720 72v5M720 154v5M721 50v5M721 66v6M721 99v6M721 110v6M721 121v6M721 132v11M721 149v10M722 28v5M722 44v6M722 105v5M722 188v5M723 28v5M724 127v5M725 44v6M725 61v11M725 83v5M725 105v5M725 116v11M726 99v11M726 127v5M727 132v17M728 94v5M729 105v5M729 127v11M730 149v5M730 160v6M731 116v5M731 132v6M731 154v6M732 160v11M733 88v11M733 105v5M734 55v11M734 77v6M735 99v6M735 159v1M735 166v11M736 88v6M736 110v6M736 138v16M737 83v5M737 170v1M738 149v17M739 138v5M739 149v5M740 105v5M740 116v22M740 143v6M741 110v17M741 132v6M742 99v6M743 160v6M744 192v1M745 33v11M745 94v11M745 110v6M746 33v6M746 66v6M746 77v11M746 110v6M746 177v4M746 203v7M747 105v5M748 116v16M749 127v5M750 22v11M750 105v5M750 116v5M751 88v6M751 110v6M751 210v11M752 110v11M753 88v11M754 83v5M754 149v5M755 99v17M755 143v6M756 61v5M756 149v5M756 160v22M757 88v6M758 110v6M758 177v11M761 16v6M761 28v5M761 83v5M761 110v6M762 33v6M762 94v11M763 50v5M763 72v27M764 61v22M764 110v6M765 61v11M765 166v11M768 226v6M768 248v5"/>
<path stroke="#0000fc" d="M610 226v6M610 243v10M611 210v5M611 221v5M613 99v6M613 160v6M613 226v6M617 33v6M617 160v6M618 138v5M618 149v5M619 215v6M620 143v6M620 193v6M620 210v5M620 221v5M621 188v5M621 215v6M621 226v6M622 160v11M622 193v11M623 160v6M623 182v6M624 177v5M625 182v6M625 226v6M626 199v5M626 215v6M627 154v12M628 143v6M628 243v5M629 232v5M630 154v6M630 166v5M630 215v6M630 237v6M631 182v6M632 204v11M632 248v5M633 182v11M633 199v5M633 232v5M634 116v5M634 171v6M634 204v6M635 166v5M635 215v11M635 243v5M636 215v6M637 149v5M637 171v6M637 210v5M638 110v6M638 121v6M638 154v6M639 160v11M639 248v5M640 210v5M640 221v5M640 237v6M640 248v5M641 232v5M641 243v5M643 248v5M644 94v5M644 221v5M646 105v5M646 121v6M646 149v5M646 204v11M646 237v6M646 248v5M647 132v6M648 154v6M648 193v6M648 210v11M649 143v6M649 193v6M650 110v6M650 121v6M652 154v6M652 232v5M653 149v5M654 215v17M654 248v5M655 182v6M658 110v6M659 210v5M661 177v5M662 171v11M662 188v5M663 166v5M663 215v6M664 193v6M664 237v6M665 221v5M668 138v5M668 177v5M668 221v11M668 243v5M669 188v5M669 215v6M670 171v6M670 221v5M671 199v5M672 226v6M672 237v6M674 232v11M675 177v11M675 199v5M675 221v5M676 166v5M677 188v5M680 105v5M680 143v6M680 177v5M680 188v5M680 199v5M681 160v6M681 177v11M682 210v5M682 221v5M683 154v12M683 177v5M683 188v5M683 204v11M683 221v5M684 171v6M684 193v11M686 193v6M687 193v6M687 221v11M687 248v5M688 121v6M688 154v12M688 182v6M688 199v5M688 210v11M688 232v5M690 188v5M690 199v5M691 182v17M692 188v5M693 160v11M693 177v11M694 121v11M694 138v5M694 171v6M694 182v17M695 116v5M695 127v11M695 199v5M695 210v5M696 188v11M697 143v6M697 154v6M697 171v6M697 210v11M697 226v6M698 154v6M698 166v11M699 127v5M700 177v5M701 138v5M701 160v11M701 177v11M701 199v16M702 143v6M704 99v6M704 116v11M704 177v5M704 188v5M704 199v5M704 210v5M704 221v11M705 138v5M705 215v6M706 154v6M706 177v5M707 110v17M707 132v6M707 166v5M707 198v1M708 72v11M708 88v6M708 121v11M708 182v22M708 215v6M709 105v22M709 177v5M709 188v5M710 110v6M710 177v22M710 215v6M710 226v17M711 99v11M711 116v11M711 160v17M713 149v17M714 154v6M714 232v5M715 138v5M715 154v23M715 193v6M716 83v5M716 116v5M716 182v6M717 166v5M718 44v6M718 94v5M719 171v6M720 88v6M720 171v11M721 72v5M721 177v5M722 33v6M722 110v11M722 138v11M722 182v6M722 193v5M722 215v6M723 105v5M723 116v5M723 204v6M724 121v6M724 143v6M724 154v6M724 237v6M725 176v6M725 188v5M727 160v11M727 177v11M727 237v6M727 248v5M728 105v5M728 121v28M729 94v5M729 138v5M729 149v11M729 166v5M729 177v5M729 215v6M729 232v16M730 154v6M730 177v5M731 221v4M731 242v1M731 248v5M732 171v11M732 226v11M733 166v5M735 177v5M735 199v5M735 243v5M736 166v5M738 171v11M739 143v6M739 171v17M740 154v6M740 177v5M740 188v4M741 154v6M741 166v5M742 110v11M742 160v6M743 116v5M743 143v6M743 182v6M744 105v5M744 116v5M744 127v5M744 160v11M744 199v11M744 215v11M745 28v5M745 105v5M745 154v6M745 166v26M745 210v5M746 39v5M746 138v16M746 171v6M746 226v11M748 132v22M748 198v1M748 210v11M748 243v5M749 132v6M750 16v6M750 127v5M750 138v5M750 215v11M750 232v11M751 127v5M751 143v6M751 209v1M751 221v5M751 248v5M752 121v11M752 138v5M752 149v5M752 232v5M753 99v17M754 127v11M754 154v6M754 176v11M755 138v5M755 154v17M755 198v1M756 88v6M756 105v5M756 127v5M756 138v11M756 154v6M756 193v6M757 116v5M757 149v22M757 193v6M758 121v6M758 149v5M758 193v6M759 105v5M759 176v6M759 193v6M760 110v6M760 176v6M760 188v4M761 99v6M761 116v5M761 166v5M761 248v5M762 127v11M762 177v11M762 193v11M762 215v5M763 105v11M763 121v6M763 149v5M763 165v1M764 105v5M764 127v5M764 160v6M764 171v11M765 72v5M765 154v6M765 188v5M765 226v6M765 237v11M766 77v6M766 94v5M766 127v5M766 143v11M766 203v12M766 226v17M766 248v5M768 182v6"/>
<path stroke="#0555a8" d="M611 33v11M612 16v6M612 66v6M612 149v5M612 166v5M613 44v6M613 66v6M615 72v5M615 121v6M615 143v6M616 94v11M616 243v5M617 66v6M617 83v5M617 94v5M617 127v5M618 248v5M619 138v11M619 154v12M620 94v11M620 110v6M621 72v5M623 39v5M623 116v11M624 72v5M624 94v5M624 166v5M625 83v5M625 110v6M625 132v11M626 154v6M627 110v6M628 88v6M628 105v5M629 55v6M629 199v5M630 83v5M630 99v6M631 77v6M631 154v6M632 61v5M632 88v6M632 110v6M632 166v5M633 88v6M633 110v6M635 121v6M635 138v5M636 66v11M636 88v6M636 99v6M636 182v6M637 55v6M637 66v6M637 77v6M638 55v6M638 94v5M639 99v6M639 138v5M641 110v6M641 138v5M642 83v5M642 99v6M642 116v5M642 138v5M642 154v12M642 221v5M643 16v6M643 33v6M644 61v5M644 166v5M645 22v6M645 166v5M647 77v6M648 50v5M648 61v5M648 88v6M649 99v6M649 110v6M649 237v11M650 204v11M650 226v6M651 116v5M651 132v6M651 154v6M652 28v5M652 127v5M652 166v5M652 177v5M653 61v5M653 105v5M654 127v11M655 66v6M655 143v6M656 16v12M656 33v6M656 55v6M656 94v5M656 210v5M656 237v6M657 44v6M657 110v6M657 177v5M659 83v5M659 94v5M660 66v6M660 88v6M660 116v11M660 143v6M662 99v6M663 66v6M664 105v5M664 116v5M665 193v6M666 39v5M666 138v5M666 149v5M667 22v6M667 55v6M667 171v6M667 182v6M667 199v5M668 28v5M668 44v6M670 66v6M670 121v6M671 16v6M671 28v5M671 44v6M671 105v5M672 188v5M673 16v6M673 55v6M673 72v5M673 204v6M674 44v6M674 61v5M675 39v5M675 55v6M675 138v11M676 127v11M677 77v6M677 110v6M678 188v11M678 204v6M679 105v5M679 138v5M680 50v5M681 50v5M681 116v11M682 61v5M683 16v6M683 83v5M684 55v6M684 77v6M684 94v5M685 39v5M685 116v5M686 28v11M686 61v11M686 116v5M686 138v5M687 116v5M687 127v5M687 143v6M688 55v6M688 66v6M690 55v6M690 149v5M691 83v5M692 50v5M692 83v5M692 99v6M693 88v11M694 66v6M695 55v6M696 55v6M696 94v5M697 16v6M698 44v6M698 55v11M698 94v5M700 66v11M701 44v6M701 55v6M701 77v17M702 88v6M703 50v5M703 61v5M704 16v6M704 44v11M705 44v6M705 77v6M705 88v6M706 16v6M706 39v5M706 55v6M707 50v5M708 22v6M713 28v5M713 44v6M714 39v11M716 16v6M716 28v5M717 16v17M718 22v6M719 33v6M719 72v5M726 16v6M726 28v5M726 39v5M726 61v5M728 28v5M728 50v5M729 50v5M730 55v6M731 39v11M732 55v6M733 39v5M734 22v6M735 61v5M736 39v5M737 22v6M737 39v5M740 33v6M740 44v6M740 66v6M741 66v6M743 66v6M745 55v6M747 16v6M747 33v6M747 50v5M747 66v6M749 61v5M749 72v5M751 39v5M751 61v5M752 44v6M753 61v11M754 66v6M758 50v5M759 28v5M759 77v6M760 39v5M760 61v5M765 33v22M766 28v5M766 39v5M767 61v5M768 28v11M768 44v6"/>
<path stroke="#003cc0" d="M611 44v6M611 182v6M612 39v11M612 61v5M612 160v6M612 177v5M613 28v5M613 50v5M613 61v5M613 72v5M613 83v5M613 94v5M613 166v5M614 116v11M614 210v5M615 28v5M615 232v5M616 22v11M616 44v6M616 116v11M617 99v6M617 116v5M617 138v5M618 94v5M618 105v5M618 121v6M618 221v5M619 66v6M619 88v6M619 132v6M619 166v11M619 210v5M619 221v5M620 72v5M620 88v6M620 121v11M620 215v6M621 77v6M622 143v6M622 243v10M623 221v5M625 72v5M625 127v5M625 154v6M626 138v11M626 166v5M627 127v5M628 94v5M628 110v6M628 182v6M630 132v6M632 171v11M633 61v5M633 248v5M634 66v6M634 83v5M635 127v5M636 77v11M637 22v6M637 99v6M638 99v6M639 132v6M640 116v11M640 132v6M641 193v6M641 215v6M642 77v6M642 105v5M642 149v5M642 210v5M642 226v17M642 248v5M643 22v6M644 149v5M644 171v6M647 72v5M647 94v5M648 33v6M648 127v11M648 160v6M649 121v11M649 188v5M649 232v5M649 248v5M650 88v6M650 177v5M650 199v5M651 143v6M652 171v6M652 182v11M654 116v11M654 177v5M654 188v5M654 204v6M656 61v5M656 166v5M656 193v17M656 226v6M656 248v5M657 16v6M657 55v6M657 88v6M657 138v5M657 149v5M657 160v6M657 182v11M658 55v6M660 77v6M660 110v6M660 132v11M660 149v5M660 171v6M661 72v5M661 110v6M662 116v11M662 132v6M663 39v5M663 77v6M663 110v6M664 127v5M665 199v5M666 226v6M667 143v6M667 177v5M667 188v11M668 99v6M670 55v6M670 94v5M670 132v6M670 149v5M671 22v6M671 39v5M671 55v6M671 160v6M672 16v6M672 83v5M672 99v6M672 132v6M672 143v6M672 171v11M672 199v5M673 83v5M674 88v6M674 99v6M674 116v5M675 22v11M675 44v6M675 72v5M676 77v11M676 143v6M676 188v5M676 199v5M676 232v11M677 171v6M677 182v6M678 94v11M678 199v5M678 215v6M678 232v5M679 116v5M679 226v6M679 248v5M680 28v5M680 39v5M680 55v6M681 44v6M681 55v6M682 39v5M682 94v5M683 28v5M683 55v6M683 105v5M685 132v6M686 88v11M687 166v5M688 83v5M688 94v11M689 116v5M690 77v6M690 88v11M690 105v5M690 127v11M690 154v12M691 105v5M691 154v12M695 77v6M696 39v5M697 105v11M698 99v6M700 88v6M701 94v5M702 83v5M703 72v5M703 83v5M705 72v5M705 83v5M706 22v6M706 50v5M706 66v6M706 83v11M707 28v5M708 44v11M709 16v6M709 33v6M709 50v5M710 22v6M710 33v6M711 66v17M712 39v11M715 44v6M718 16v6M719 44v11M719 83v11M720 22v6M720 50v11M722 77v6M723 33v17M723 55v11M723 72v5M723 83v5M724 50v5M724 72v5M726 44v6M726 66v6M726 77v11M727 66v6M727 77v11M728 22v6M728 33v6M729 33v6M730 16v12M730 66v6M730 77v6M731 50v16M732 33v6M732 72v5M732 116v5M733 55v6M733 66v6M733 138v5M734 28v11M734 132v6M735 77v6M735 110v6M735 127v16M736 28v5M737 50v5M737 121v11M737 138v5M739 72v5M740 55v6M741 28v5M741 44v6M741 77v6M743 16v6M743 72v5M743 94v5M744 50v5M744 66v6M744 83v5M745 61v5M747 61v5M747 77v6M748 61v11M749 39v11M750 33v17M750 55v6M750 72v11M750 88v6M751 16v23M752 72v11M753 22v6M754 16v6M754 55v6M755 16v12M755 66v11M755 83v5M756 16v6M756 33v6M757 55v6M758 61v5M758 83v5M759 88v6M760 44v6M760 83v11M761 22v6M761 44v6M762 16v6M764 28v5M766 22v6M766 33v6M766 50v11M767 33v6M767 44v6M768 50v11"/>
<path stroke="#0b7689" d="M611 61v5M611 77v6M611 143v6M612 77v6M613 39v5M614 16v6M614 88v6M614 149v5M614 166v5M615 110v11M616 61v5M616 77v6M618 66v6M619 99v11M620 55v6M620 66v6M620 77v6M623 33v6M623 88v6M623 99v11M624 88v6M624 127v5M624 143v6M625 66v6M625 94v5M625 105v5M626 66v6M626 83v5M628 50v5M628 72v5M629 66v6M630 72v5M630 105v5M631 99v11M631 132v6M632 99v6M632 143v6M632 154v6M633 50v5M633 83v5M633 105v5M633 116v5M634 77v6M635 105v5M635 116v5M637 44v6M638 61v11M640 94v5M642 72v5M642 177v11M642 199v5M644 66v6M644 77v6M645 33v6M645 149v5M646 55v6M648 55v6M648 72v5M648 99v6M649 105v5M650 94v5M652 44v11M652 66v6M652 99v11M652 132v11M653 33v6M653 50v5M653 83v11M654 39v16M654 66v6M655 28v5M655 61v5M655 88v6M655 127v5M656 77v11M656 138v16M658 16v6M658 50v5M660 166v5M661 22v6M661 50v11M662 55v6M662 66v6M662 77v11M663 22v6M663 72v5M664 55v6M664 66v6M665 177v11M666 16v6M666 33v6M666 61v5M666 77v6M666 110v6M666 121v6M666 132v6M667 121v6M667 132v6M668 77v6M668 94v5M670 28v11M670 61v5M670 88v6M671 66v11M671 116v5M672 61v5M672 77v6M673 22v6M673 39v5M673 61v11M673 160v6M673 188v5M673 199v5M674 39v5M674 77v6M675 16v6M675 61v5M675 132v6M676 39v5M676 72v5M676 110v6M677 83v5M678 66v6M678 88v6M678 127v5M678 171v6M679 16v6M679 50v5M681 61v5M681 77v11M682 22v6M682 66v6M683 44v6M683 66v6M683 94v5M684 50v5M684 61v11M685 33v6M687 33v6M687 44v6M687 55v6M687 72v5M687 105v5M688 39v5M688 72v5M690 39v5M690 66v6M691 61v11M692 39v5M694 77v6M695 16v6M695 28v5M695 39v5M696 16v6M696 33v6M696 61v5M696 77v6M697 22v6M697 39v5M697 50v5M697 77v17M698 28v16M698 50v5M699 22v6M699 33v6M699 50v5M699 66v6M700 28v5M700 55v6M701 50v5M702 22v11M702 50v5M703 22v11M704 22v11M704 39v5M705 33v6M707 16v6M713 39v5M713 50v5M719 66v6M727 50v5M732 50v5M734 16v6M735 22v6M735 33v6M735 44v6M736 16v12M736 33v6M736 44v6M737 28v5M738 50v5M738 66v6M739 28v5M739 61v5M740 16v6M740 50v5M741 50v5M741 72v5M742 33v22M742 66v6M743 44v11M748 50v5M750 61v5M753 16v6M758 66v6M759 44v6M760 50v5M768 39v5"/>
<path stroke="#0000fe" d="M611 226v11M611 243v5M612 199v5M612 210v5M612 226v6M613 110v28M613 210v5M613 221v5M613 243v10M617 171v6M617 182v17M617 204v6M617 215v6M617 226v17M617 248v5M620 199v5M621 160v6M621 232v5M625 188v11M625 210v5M626 221v5M626 232v16M627 177v5M627 199v16M627 232v21M629 243v10M630 193v6M630 221v16M630 248v5M631 199v11M631 215v28M632 237v6M633 171v6M634 221v11M634 237v11M635 160v6M636 127v11M636 143v6M636 226v17M638 143v11M638 166v5M638 177v5M638 188v5M638 232v5M638 243v10M639 177v22M639 204v6M639 226v6M639 243v5M640 177v11M640 199v11M643 110v6M643 132v22M643 171v17M643 204v6M643 215v6M643 232v11M644 188v5M644 215v6M644 232v5M644 243v5M646 199v5M647 154v6M647 182v6M647 199v5M647 226v22M650 116v5M650 138v5M653 154v6M653 166v5M653 177v5M653 188v5M653 199v27M653 243v5M658 127v16M658 188v16M658 210v5M658 226v6M658 237v6M659 177v11M659 215v6M660 226v6M661 171v6M661 210v5M661 226v17M661 248v5M663 143v6M663 188v5M664 182v6M665 237v6M665 248v5M666 188v5M669 226v6M669 243v5M670 226v11M670 243v5M671 226v6M671 237v16M672 248v5M674 221v11M674 243v10M677 215v22M677 243v10M680 94v5M680 116v5M680 154v6M680 204v6M680 232v11M680 248v5M681 226v6M681 243v5M682 237v16M685 188v5M685 210v16M685 232v11M685 248v5M688 243v5M689 154v17M689 177v16M689 199v27M689 237v16M690 215v11M690 232v5M691 221v11M691 237v16M692 166v5M692 204v17M692 226v11M692 248v5M693 193v33M693 232v11M693 248v5M694 132v6M695 226v11M696 221v5M696 232v21M697 193v6M697 248v5M698 188v5M698 199v16M698 221v5M698 232v5M698 243v10M699 154v6M699 171v6M699 199v33M699 237v16M700 138v16M700 160v6M700 210v5M700 221v22M701 232v21M702 166v33M702 204v6M702 221v5M702 237v16M703 154v39M703 204v11M703 243v10M704 143v17M704 166v5M705 182v6M705 193v11M705 210v5M705 248v5M706 215v11M706 243v10M707 237v16M708 105v5M708 248v5M709 237v6M711 182v44M711 237v16M712 188v11M712 209v12M712 226v27M713 177v26M713 209v28M715 199v11M715 215v6M715 226v22M716 226v17M716 248v5M717 188v26M717 231v22M718 210v43M719 204v49M720 215v6M720 243v5M722 237v6M723 221v32M725 237v6M726 149v5M726 214v39M727 204v6M728 198v1M730 215v6M731 182v21M731 214v1M733 188v33M733 232v5M734 171v32M734 220v12M735 204v6M735 221v5M736 182v27M736 231v1M737 182v38M737 236v17M738 204v11M738 221v5M739 199v27M739 232v5M739 248v5M740 225v28M741 209v12M741 232v11M742 127v11M742 209v6M742 221v11M742 243v10M743 226v6M743 237v16M745 116v5M745 242v11M746 22v11M747 182v17M747 243v5M749 154v39M749 231v1M750 160v27M751 165v5M751 181v11M752 171v6M753 116v16M753 138v5M753 160v38M754 242v1M755 221v11M756 210v33M757 210v5M757 221v22M758 242v11M759 132v22M759 160v5M759 215v16M760 143v6M760 154v6M760 221v11M760 237v6M761 143v6M762 237v16M763 243v5M767 210v11M767 226v6M768 88v6M768 99v50M768 177v5"/>
<path stroke="#0000ff" d="M612 215v6M612 237v6M613 237v6M617 199v5M617 221v5M625 204v6M626 226v6M627 193v6M627 221v11M630 243v5M631 210v5M631 243v10M638 171v6M638 182v6M638 193v39M638 237v6M639 199v5M639 210v11M640 188v5M643 160v11M643 193v11M643 210v5M643 226v6M644 237v6M647 171v11M647 193v6M647 204v22M647 248v5M653 193v6M653 226v17M653 248v5M658 143v45M659 188v5M661 182v28M661 215v6M663 160v6M677 237v6M680 138v5M680 210v22M680 243v5M689 171v6M689 226v11M690 226v6M690 237v16M693 226v6M693 243v5M696 226v6M698 226v6M698 237v6M699 232v5M700 154v6M700 243v10M715 248v5M716 243v5"/>
<path stroke="#ffe900" d="M609 316v6M612 316v34M613 328v5M620 316v6M627 328v5"/>
<path stroke="#fff500" d="M609 322v11M611 316v6M612 350v11M613 322v6M613 333v6M613 350v11M620 322v6M627 316v12M627 333v6M633 333v6"/>
<path stroke="#fbff02" d="M609 333v6M611 322v6M612 361v5M613 316v6M613 339v11M614 339v16M618 350v5M620 328v5M620 383v11M621 316v6M622 405v5M625 421v11M626 316v6M627 339v16M628 339v11M634 316v6M637 377v11"/>
<path stroke="#eaff08" d="M609 339v5M611 328v5M613 361v5M613 377v6M614 316v23M614 355v11M616 355v11M616 399v11M616 427v5M619 322v11M620 333v6M620 366v17M622 399v6M622 410v6M623 322v6M625 432v11M626 322v11M627 355v6M628 328v11M633 339v5M634 322v11M637 388v6M649 316v6M658 316v6"/>
<path stroke="#d9ff0e" d="M609 344v17M610 361v22M610 394v16M611 333v33M612 366v6M612 471v11M613 366v11M613 383v11M614 366v6M616 350v5M616 410v17M616 432v6M617 316v17M618 355v6M619 316v6M619 333v6M620 339v11M620 361v5M620 394v5M621 322v6M621 339v16M621 410v11M622 394v5M622 416v5M623 316v6M623 328v5M623 355v11M624 388v11M625 416v5M625 443v6M626 333v6M626 361v5M627 361v5M628 350v5M629 316v17M633 344v6M633 361v5M636 361v11M649 322v6M658 322v6"/>
<path stroke="#c8ff14" d="M609 361v11M610 355v6M610 383v11M610 410v17M611 366v11M612 372v5M612 410v11M612 482v6M613 394v11M614 372v5M615 339v22M615 394v5M616 366v6M616 394v5M617 333v17M617 521v5M618 377v6M619 339v5M620 350v11M620 427v11M621 328v11M621 355v6M621 383v5M621 405v5M621 421v6M622 316v6M622 361v11M622 383v11M623 333v6M623 350v5M623 366v6M624 399v6M625 449v5M625 466v5M626 339v22M626 366v6M626 383v5M628 322v6M628 355v6M629 333v6M630 316v6M631 372v11M633 350v11M633 366v6M634 333v6M636 355v6M636 372v5M636 388v6M637 328v11M637 372v5M637 521v11M639 449v11M640 383v5M644 316v23M649 328v5M657 316v17"/>
<path stroke="#bcff14" d="M609 372v5M609 388v6M610 316v6M610 339v16M611 377v11M612 377v11M612 405v5M612 421v17M612 443v17M612 466v5M613 405v5M614 377v6M615 322v6M615 333v6M615 361v33M615 399v6M616 316v6M616 344v6M616 372v11M616 388v6M616 438v5M617 350v5M617 394v11M617 482v11M617 515v6M617 526v6M618 361v5M618 372v5M618 383v11M618 399v17M619 416v5M619 432v22M620 399v6M620 416v11M620 438v5M620 537v6M621 361v5M621 377v6M621 388v6M621 399v6M621 427v11M622 322v6M622 355v6M622 372v11M622 421v6M623 339v11M623 372v16M623 460v11M624 383v5M624 466v22M625 454v12M625 471v6M625 488v11M626 372v11M626 388v6M627 366v6M628 316v6M630 322v17M631 344v6M631 366v6M633 372v11M634 339v16M636 339v5M636 350v5M636 377v11M636 394v22M637 322v6M637 394v5M637 515v6M637 532v5M638 316v17M639 410v11M639 443v6M639 460v6M640 366v17M640 388v6M641 316v12M642 339v11M643 328v5M649 333v6M650 316v6M658 328v5"/>
<path stroke="#b1ff14" d="M609 377v11M609 394v5M610 322v17M610 427v11M610 521v32M611 388v11M611 438v5M612 388v17M612 438v5M612 460v6M612 488v5M613 410v6M614 383v5M614 394v16M615 316v6M615 328v5M615 405v5M616 322v22M616 383v5M616 454v17M616 488v11M617 355v6M617 383v11M617 405v5M617 477v5M617 493v22M618 366v6M618 394v5M618 416v22M619 344v11M619 377v6M619 405v11M619 421v11M619 454v6M620 405v11M620 443v6M620 532v5M620 543v5M621 366v11M621 394v5M621 438v16M622 328v11M622 350v5M623 443v17M624 366v6M624 377v6M624 405v5M624 421v17M624 460v6M624 488v5M625 410v6M625 477v11M627 499v11M629 339v11M630 339v5M631 339v5M631 350v16M631 383v5M632 316v12M632 355v17M633 383v5M634 355v6M634 405v11M636 333v6M636 344v6M636 416v5M636 460v17M637 316v6M637 339v5M637 510v5M638 333v6M638 410v22M639 405v5M639 421v6M639 432v11M640 361v5M641 328v16M642 316v23M643 316v12M643 333v6M644 339v5M645 328v5M650 322v11M657 333v6M658 333v6M675 316v6"/>
<path stroke="#a5ff14" d="M609 399v6M610 438v16M610 460v17M610 515v6M611 399v11M611 432v6M611 443v6M612 493v11M613 416v16M614 388v6M614 410v22M615 410v17M615 438v11M616 443v6M616 471v17M616 499v27M617 361v22M617 410v6M617 427v5M617 532v5M618 438v5M618 449v17M618 504v11M619 355v22M619 383v22M619 460v6M619 537v16M620 504v11M621 454v12M622 339v11M622 427v22M623 388v6M623 438v5M623 471v6M623 488v11M624 361v5M624 372v5M624 410v11M624 438v22M624 493v17M625 499v5M627 372v5M627 493v6M629 350v11M630 344v6M631 328v11M631 388v6M632 328v27M632 372v5M632 399v22M632 427v16M633 388v11M633 454v12M634 361v33M634 399v6M634 438v22M636 421v6M636 432v11M636 454v6M636 477v16M637 344v17M637 366v6M637 399v6M637 410v11M637 504v6M637 537v6M638 339v16M638 383v27M638 432v17M639 388v11M639 427v5M639 466v5M640 355v6M640 394v5M641 344v6M642 350v11M644 344v6M645 322v6M645 333v6M646 521v11M649 339v5M650 333v6M658 339v5M659 316v23M675 322v6"/>
<path stroke="#99ff14" d="M609 405v5M609 427v11M610 454v6M610 477v5M610 504v11M611 410v6M611 427v5M611 504v11M612 504v6M613 432v6M614 432v6M614 449v5M615 427v11M615 449v5M615 460v11M616 449v5M616 526v17M617 416v11M617 432v11M617 471v6M617 537v11M618 443v6M618 466v16M618 499v5M618 515v28M618 548v5M619 477v11M619 532v5M620 449v5M620 488v16M620 515v6M620 526v6M621 466v11M622 449v5M623 394v5M623 499v5M624 355v6M624 510v11M625 339v11M625 366v22M625 405v5M626 394v5M626 416v11M626 460v33M627 477v16M627 510v5M628 361v5M628 526v27M631 316v12M631 394v11M631 421v17M632 377v6M632 394v5M632 421v6M633 399v6M633 449v5M633 466v5M634 394v5M634 416v5M634 432v6M634 460v11M634 488v11M635 344v11M635 372v22M636 328v5M636 427v5M636 443v11M636 493v17M636 543v5M637 361v5M637 405v5M637 499v5M637 543v5M638 377v6M638 449v11M638 477v11M639 383v5M639 399v6M639 471v6M640 350v5M640 399v6M640 443v11M642 361v5M642 377v11M643 339v5M644 350v5M644 443v23M646 515v6M648 316v12M648 521v11M650 339v5M658 344v17M659 339v5M665 316v12"/>
<path stroke="#8eff14" d="M609 410v17M609 438v5M609 471v17M609 515v11M610 482v22M611 416v11M611 449v5M611 499v5M612 510v5M612 521v16M613 521v16M614 438v11M614 454v6M615 454v6M615 471v6M616 543v10M617 443v6M617 460v11M617 548v5M618 482v6M618 543v5M619 466v11M619 488v5M619 510v22M620 454v12M620 477v11M620 521v5M620 548v5M621 477v5M622 454v6M622 477v5M623 399v17M623 432v6M623 477v11M623 504v6M623 543v10M624 339v16M624 521v5M625 316v23M625 350v16M625 388v17M625 504v6M626 399v6M626 427v11M626 454v6M626 493v6M627 377v6M627 460v17M627 515v22M630 350v5M631 405v16M631 438v16M632 383v11M632 443v6M633 427v11M633 443v6M633 471v11M634 421v11M634 471v17M634 499v5M634 510v11M635 333v11M635 355v6M635 366v6M635 394v5M635 471v6M636 322v6M636 510v5M636 532v11M636 548v5M637 421v6M637 488v11M637 548v5M638 355v6M638 372v5M638 460v17M639 377v6M639 477v11M640 344v6M640 405v5M640 438v5M640 454v6M641 350v5M641 466v5M642 366v11M642 388v6M642 454v12M643 344v6M644 355v11M644 438v5M644 466v11M644 482v6M645 316v6M645 339v5M645 454v6M646 316v6M646 333v6M646 466v11M646 493v11M646 510v5M646 532v5M647 316v12M648 328v11M648 515v6M648 532v5M652 316v17M654 322v11M654 443v17M657 339v5M658 361v5M659 344v6M662 316v6M662 548v5M675 328v5"/>
<path stroke="#82ff14" d="M609 443v28M609 488v5M609 510v5M609 526v6M611 454v23M611 515v6M611 526v17M612 515v6M612 537v6M613 438v5M613 493v6M613 515v6M613 537v16M614 460v28M615 477v16M617 449v11M618 488v11M619 493v17M620 466v11M622 460v17M622 482v6M623 416v16M623 510v11M624 316v23M624 526v6M625 510v11M626 438v5M627 383v5M627 454v6M627 537v6M628 521v5M629 361v5M630 355v11M630 477v16M631 454v17M632 449v5M633 405v11M633 421v6M633 438v5M633 482v6M634 504v6M635 316v17M635 361v5M635 399v17M635 466v5M635 477v22M636 316v6M636 526v6M637 482v6M638 361v11M639 355v22M639 488v11M640 432v6M640 460v17M641 355v22M641 449v17M641 471v11M642 394v11M642 416v16M642 443v11M644 366v6M644 432v6M644 477v5M644 488v5M645 449v5M645 460v6M646 322v11M646 339v5M646 460v6M646 477v16M646 504v6M646 537v16M647 328v11M648 339v5M648 488v11M648 537v6M649 344v6M650 344v6M651 328v11M652 333v6M654 460v6M656 316v23M657 344v6M658 366v6M662 322v6M662 339v5M662 532v5M662 543v5M665 328v5M666 405v11M673 316v6M675 333v6"/>
<path stroke="#76ff14" d="M609 493v17M609 532v5M609 548v5M611 477v11M611 493v6M611 521v5M611 543v5M612 543v10M613 443v6M613 488v5M613 499v16M614 504v11M615 493v6M615 510v11M621 482v17M622 488v5M623 521v5M623 537v6M624 532v21M625 521v5M626 405v11M626 443v11M626 499v5M626 515v11M627 388v6M627 449v5M627 543v10M628 493v11M628 515v6M630 471v6M630 493v6M631 471v17M632 454v6M633 416v5M633 488v5M634 521v5M635 416v5M635 499v5M635 515v6M636 515v11M637 427v5M637 454v17M637 477v5M638 488v5M639 344v11M639 499v5M640 339v5M640 410v22M640 477v16M641 377v6M641 443v6M641 482v11M642 405v11M642 432v11M642 466v5M643 350v22M644 372v5M644 405v11M644 427v5M645 344v6M645 443v6M645 466v5M646 344v6M646 454v6M647 339v5M647 460v6M648 499v16M648 543v5M651 316v12M651 471v17M652 460v6M653 366v17M653 488v11M654 316v6M654 333v50M654 405v16M654 438v5M655 543v10M656 339v11M657 350v11M658 372v16M658 399v6M659 350v11M660 316v23M660 421v17M661 316v6M661 421v11M662 328v11M662 344v6M662 526v6M662 537v6M663 316v6M665 333v11M673 322v6M675 339v5M676 316v6M682 316v6"/>
<path stroke="#6aff14" d="M609 537v11M611 488v5M611 548v5M613 449v28M613 482v6M614 488v16M614 515v6M615 499v11M615 521v16M621 499v27M621 548v5M623 526v11M625 526v6M626 504v11M626 526v6M627 394v5M628 366v6M628 504v11M629 482v28M630 366v6M630 499v5M631 488v5M632 460v6M633 493v6M635 460v6M635 504v11M635 521v22M637 449v5M637 471v6M638 510v22M639 316v6M639 339v5M639 504v6M639 548v5M640 322v6M640 493v6M641 383v5M641 493v6M641 504v6M642 526v17M643 372v5M643 537v16M644 377v28M644 416v11M644 493v6M647 454v6M647 466v5M648 344v6M648 482v6M648 548v5M651 339v5M651 460v11M651 488v5M652 339v5M652 454v6M652 466v5M653 316v17M653 344v11M653 361v5M653 383v5M653 460v17M653 482v6M654 383v11M654 421v6M654 466v5M654 477v16M655 333v11M655 471v11M655 515v28M656 350v5M656 361v11M657 361v27M658 388v11M658 405v5M659 361v5M659 372v16M659 399v6M660 339v5M660 416v5M660 438v39M661 322v11M661 416v5M661 432v17M662 521v5M663 322v28M664 454v12M665 344v6M666 316v6M666 399v6M666 416v5M666 438v16M668 316v6M669 344v6M669 361v5M672 333v11M673 328v5M675 344v6M676 322v11M682 322v11"/>
<path stroke="#5eff14" d="M613 477v5M615 537v6M621 526v11M621 543v5M622 493v6M626 532v5M627 399v6M628 488v5M629 477v5M629 510v5M629 526v17M630 466v5M630 504v22M631 510v5M632 466v5M634 526v6M635 421v6M635 454v6M637 432v17M638 493v17M638 532v21M639 322v6M639 333v6M639 510v27M639 543v5M640 316v6M640 328v11M640 499v5M640 521v22M641 388v22M641 438v5M641 499v5M641 510v5M642 471v6M642 504v11M642 521v5M642 543v10M643 377v22M643 532v5M645 350v5M645 438v5M645 471v6M645 499v11M646 449v5M647 471v22M649 350v5M650 350v5M651 454v6M651 493v6M652 449v5M652 471v22M653 333v11M653 355v6M653 388v6M653 454v6M653 477v5M653 499v16M654 394v11M654 427v11M654 471v6M654 493v6M654 504v11M655 328v5M655 344v6M655 466v5M655 482v6M655 504v11M656 355v6M657 388v6M657 443v6M659 366v6M659 388v11M659 405v11M660 344v6M660 410v6M660 477v5M661 333v6M661 449v5M662 350v5M663 350v5M663 372v16M663 427v11M664 449v5M664 466v11M666 394v5M666 421v17M666 454v6M667 316v12M668 322v6M669 333v11M669 350v11M669 366v6M672 322v11M672 344v17M673 333v6M673 355v6M675 350v11M676 333v6M682 333v6"/>
<path stroke="#52ff14" d="M614 521v5M615 543v5M621 537v6M622 521v32M625 532v5M625 543v10M626 537v11M627 405v16M627 443v6M629 366v6M629 515v11M629 543v10M630 372v5M630 548v5M631 493v17M631 515v6M632 471v6M633 499v5M634 532v5M635 427v27M639 328v5M639 537v6M640 504v17M640 543v5M641 410v6M642 477v27M642 515v6M643 399v6M643 416v27M643 454v12M643 493v6M643 510v22M644 499v5M645 432v6M645 477v22M645 510v38M646 350v5M646 443v6M647 344v6M647 493v17M648 466v16M649 460v17M649 521v5M650 471v11M651 344v6M651 449v5M651 499v5M651 510v11M652 344v6M652 432v17M652 493v6M653 449v5M653 515v6M654 499v5M654 515v6M655 350v5M655 361v5M655 488v16M656 372v5M657 394v5M657 438v5M657 449v5M658 410v6M659 416v11M660 350v11M661 339v5M661 361v11M661 405v11M662 355v6M662 510v11M663 355v6M663 366v6M663 388v6M664 372v16M664 477v5M665 350v5M665 366v11M666 322v6M666 377v17M666 460v6M667 328v5M669 328v5M670 355v11M672 316v6M672 361v11M673 339v5M673 350v5M673 361v5M674 316v6M675 361v5M676 339v5"/>
<path stroke="#46ff14" d="M614 526v11M615 548v5M622 499v5M622 515v6M625 537v6M626 548v5M627 421v6M627 438v5M628 482v6M630 460v6M630 526v6M630 543v5M631 521v5M632 477v5M634 537v11M635 543v5M640 548v5M641 416v22M641 515v6M643 405v11M643 443v11M643 466v5M643 482v11M643 499v11M644 504v6M645 355v6M645 427v5M646 438v5M647 449v5M647 510v5M647 532v11M648 460v6M649 355v6M649 454v6M649 477v5M649 510v11M649 526v22M650 355v6M650 466v5M650 482v11M650 526v6M651 504v6M651 521v5M652 427v5M652 499v5M653 394v11M653 438v11M654 521v5M654 537v16M655 316v12M655 355v6M655 366v17M655 449v17M656 377v22M656 438v22M656 493v11M657 399v6M657 454v17M659 427v11M660 394v16M660 482v6M661 344v17M661 399v6M661 454v6M662 361v16M662 493v17M663 361v5M663 394v5M663 410v17M663 438v5M663 488v5M664 355v17M664 388v6M664 482v6M665 355v11M665 377v11M665 443v11M666 344v6M666 372v5M666 466v5M667 394v11M668 328v5M668 339v11M668 372v5M669 316v12M670 316v6M670 366v6M671 316v17M671 344v11M672 372v5M672 394v11M673 344v6M673 366v6M675 366v6M676 344v11M682 339v5"/>
<path stroke="#41fe14" d="M614 537v6M622 504v11M627 427v11M628 477v5M630 377v6M630 532v11M631 526v6M632 482v6M632 548v5M633 504v6M634 548v5M641 521v5M643 471v11M644 510v22M645 416v11M645 548v5M646 355v6M646 427v11M647 515v17M647 543v10M648 350v5M648 454v6M649 449v5M649 499v11M649 548v5M650 460v6M650 493v33M650 532v11M651 350v5M651 443v6M652 350v11M652 504v6M653 405v5M653 521v5M654 526v11M655 383v22M655 427v11M655 443v6M656 399v6M656 416v5M656 432v6M656 460v33M656 504v6M657 405v22M657 432v6M657 471v6M658 416v16M659 438v16M660 361v33M661 372v5M661 394v5M661 460v6M662 377v11M662 488v5M663 399v11M663 443v6M663 482v6M663 493v6M664 339v16M664 416v16M664 443v6M664 488v5M665 410v6M665 432v11M665 454v17M666 328v16M666 350v22M667 333v11M667 388v6M667 405v16M668 333v6M668 350v22M668 377v11M669 372v5M670 322v6M670 350v5M670 372v27M671 333v11M671 355v6M671 383v5M672 377v17M672 405v5M673 372v5M674 322v6M676 355v11M676 377v6M680 316v6M681 316v6M691 316v6"/>
<path stroke="#36fb14" d="M614 543v10M628 372v5M628 471v6M630 383v5M631 543v5M632 488v5M632 499v22M632 543v5M633 510v16M633 532v11M641 543v5M644 537v6M645 377v11M645 399v6M645 410v6M646 361v5M646 416v5M647 355v6M650 454v6M651 532v5M652 372v22M652 399v11M652 515v6M653 421v6M653 526v6M655 410v11M657 493v6M657 515v11M658 438v22M658 488v16M658 510v11M658 543v10M659 460v11M660 493v6M661 383v5M661 477v27M662 405v5M662 416v5M662 477v5M663 471v6M663 499v11M663 521v5M664 322v11M664 499v5M665 399v6M665 421v11M665 477v5M666 477v11M666 510v5M666 521v22M667 350v33M667 427v22M668 394v5M669 405v22M669 537v11M670 405v5M670 421v6M671 394v5M671 466v11M671 482v11M671 499v5M671 526v6M671 537v11M672 410v28M674 344v11M674 366v6M676 388v6M676 405v5M677 316v6M680 328v5M681 322v6M686 316v6M687 316v12M691 328v5"/>
<path stroke="#ffb900" d="M618 316v6"/>
<path stroke="#ffc200" d="M618 322v6"/>
<path stroke="#ffcb00" d="M618 328v16"/>
<path stroke="#ffdc00" d="M618 344v6M633 316v17"/>
<path stroke="#21f614" d="M628 377v6M629 466v5M647 366v6M647 438v5M648 443v6M649 372v5M649 394v11M649 438v5M651 383v11M651 416v5M652 532v11M653 548v5M659 488v11M659 504v6M660 526v6M661 526v11M664 526v27M667 460v6M667 499v33M668 443v6M668 482v6M668 499v5M668 515v6M668 532v5M669 493v33M670 537v11M672 443v6M673 432v50M673 504v17M674 427v11M675 405v11M675 443v6M675 493v6M675 510v5M676 449v5M677 339v5M677 366v6M677 388v6M677 405v33M678 316v17M678 355v6M678 416v5M679 322v11M680 350v11M680 394v22M681 388v6M682 361v5M683 350v5M684 333v17M685 328v5M685 339v5M686 328v22M687 339v5M690 344v6M691 344v6"/>
<path stroke="#1aac47" d="M628 383v5M628 460v6M647 377v6M647 432v6M648 432v6M649 416v5M649 427v5M672 510v11M672 548v5M675 543v10M676 504v6M678 427v5M678 443v11M679 410v11M679 449v5M679 504v11M679 521v11M679 543v10M680 427v11M680 488v11M681 416v5M682 377v11M682 410v6M683 383v11M684 394v5M684 405v5M685 366v6M685 377v6M685 410v6M686 361v5M686 410v44M687 361v5M688 355v6M689 322v6M690 361v5M690 372v11M691 361v5M696 339v5M697 328v5M698 322v6M703 316v12M705 333v6M707 316v23M740 316v6M744 322v6"/>
<path stroke="#169464" d="M628 388v6M629 460v6M647 383v5M647 427v5M648 394v5M648 421v11M672 493v11M676 532v21M677 454v23M677 510v5M677 521v5M677 532v21M678 454v6M679 460v11M679 493v6M680 438v11M680 454v12M680 537v16M681 432v6M681 454v6M681 477v16M682 421v28M683 416v5M685 388v6M685 432v6M686 372v22M686 460v6M687 372v22M687 405v11M688 366v6M688 399v6M688 421v6M689 344v6M692 383v5M692 394v11M692 421v6M693 355v6M694 316v28M694 366v6M695 350v5M695 372v5M696 344v6M697 339v11M699 333v6M700 328v5M701 333v6M701 361v5M701 372v5M703 333v6M703 344v6M703 361v5M704 322v6M705 361v5M706 316v45M707 344v6M708 328v11M708 344v11M709 322v6M710 322v6M717 316v6M717 328v11M717 355v6M719 333v6M719 350v5M731 316v6M738 316v6M740 322v6M741 328v5M743 316v6M743 328v5M744 328v5M746 322v6M746 344v6M747 333v17M751 333v6M753 316v6M753 333v17M754 316v6M755 322v11M756 322v6M757 316v17M759 316v12M760 316v12"/>
<path stroke="#138a71" d="M628 394v5M647 388v28M648 399v22M677 449v5M677 477v5M677 504v6M677 526v6M678 460v11M678 532v11M679 471v22M680 449v5M680 504v6M680 532v5M681 471v6M681 493v11M682 449v5M683 432v6M684 416v5M684 515v6M684 543v10M685 438v5M686 466v5M687 394v11M687 416v5M688 372v5M688 394v5M688 427v16M688 548v5M689 350v5M690 383v5M691 372v5M692 355v28M692 388v6M692 427v5M693 361v22M694 344v6M694 361v5M694 372v11M695 344v6M695 377v6M698 328v5M699 339v5M700 333v6M701 339v5M701 377v6M702 316v28M703 339v5M704 344v6M705 366v6M706 361v5M708 316v12M709 328v11M710 328v5M711 316v12M717 322v6M717 361v5M718 316v6M718 344v11M719 328v5M719 355v6M721 350v16M726 344v11M727 316v12M727 333v22M727 388v11M729 316v6M731 322v6M732 316v6M736 316v6M738 322v6M740 328v5M741 333v17M744 333v6M745 333v11M746 339v5M746 350v5M747 316v17M751 339v5M753 322v11M754 322v17M755 333v11M756 328v16M757 333v6M759 328v11M760 328v5"/>
<path stroke="#0b7689" d="M628 399v6M678 477v11M678 499v16M678 543v5M681 521v11M681 537v6M682 460v22M682 515v11M682 537v11M683 443v17M683 548v5M684 427v16M684 482v6M684 510v5M685 449v5M685 471v11M685 493v6M685 521v27M687 421v6M687 537v16M688 443v6M688 526v11M689 361v11M689 416v5M689 443v6M690 399v11M690 416v16M692 438v28M693 388v6M694 405v5M696 366v6M697 355v6M698 333v6M698 377v28M699 361v5M700 339v16M700 361v5M702 366v6M703 372v5M704 333v6M704 361v16M706 366v6M706 388v11M707 361v5M707 383v11M709 339v22M709 372v5M710 339v5M710 350v22M711 333v17M712 316v6M713 350v11M714 316v6M714 350v16M715 316v6M716 328v16M716 350v11M717 372v5M718 328v11M719 361v5M720 339v33M721 339v5M721 366v6M723 344v6M723 355v6M724 316v6M724 339v11M724 361v5M725 355v17M726 361v22M727 377v6M728 322v28M731 333v6M732 328v22M733 316v6M734 328v5M736 328v5M737 316v17M738 333v6M739 328v5M740 333v6M741 355v6M742 316v23M743 339v5M744 344v6M745 350v5M747 355v6M748 316v12M748 350v5M749 316v23M749 344v6M750 322v6M750 333v17M751 350v16M752 316v28M753 355v17M754 344v6M756 350v22M758 350v5M759 350v5M760 339v5M761 316v6M761 339v11M764 355v6"/>
<path stroke="#086698" d="M628 405v5M629 383v5M629 454v6M678 488v11M681 532v5M681 543v5M682 482v6M682 510v5M682 526v11M682 548v5M683 460v22M683 543v5M684 477v5M684 488v5M685 454v17M685 482v11M685 548v5M686 477v5M687 427v5M687 521v16M688 515v11M689 372v11M689 449v5M690 388v11M690 410v6M690 432v6M691 377v6M691 432v11M693 394v5M693 438v11M694 410v6M695 388v6M696 372v5M698 405v5M699 366v6M700 366v6M701 383v5M702 372v5M702 383v11M703 377v22M704 377v6M704 399v17M705 394v5M706 383v5M706 399v6M707 366v17M707 394v5M708 366v17M709 377v22M710 344v6M711 350v5M712 322v6M713 316v17M713 344v6M714 322v28M714 366v6M715 322v6M715 344v28M716 316v12M716 361v11M718 361v5M719 366v6M720 372v11M721 333v6M722 344v6M723 339v5M723 372v11M724 322v6M724 333v6M724 366v17M725 339v16M725 372v5M726 322v17M726 383v11M727 361v16M727 405v5M728 350v5M729 328v5M730 394v11M732 350v5M733 322v6M734 333v6M734 344v6M735 316v23M736 333v22M737 333v17M738 339v5M739 333v6M740 339v5M741 361v5M742 339v11M743 344v6M744 350v22M746 361v11M748 355v6M749 350v5M750 328v5M750 350v5M751 366v22M752 344v33M753 372v11M754 350v5M755 372v5M756 372v5M757 361v5M758 355v6M760 377v17M761 322v17M761 350v11M764 350v5M764 361v5M765 316v6M765 388v6M766 344v22M767 316v17M768 328v38M769 316v17"/>
<path stroke="#0555a8" d="M628 410v6M678 548v5M682 488v5M682 504v6M683 482v6M684 443v6M684 454v12M684 493v6M684 504v6M687 432v6M687 515v6M688 449v5M688 510v5M689 383v11M689 410v6M689 454v6M690 438v16M691 383v16M691 427v5M691 443v6M692 466v5M693 399v22M693 432v6M695 394v27M696 377v50M697 361v27M697 394v11M698 410v6M699 372v5M700 372v5M700 399v11M702 377v6M702 394v5M703 399v6M704 394v5M704 416v5M706 372v11M706 405v5M707 399v6M708 361v5M708 383v22M710 372v5M711 355v6M711 377v22M712 328v16M712 355v6M713 333v11M713 361v5M715 328v16M715 372v5M716 372v5M717 377v6M718 366v6M719 372v5M720 328v11M721 372v5M722 339v5M722 350v11M723 316v23M723 361v11M723 383v5M724 328v5M724 383v16M725 316v6M725 333v6M725 377v6M727 410v6M728 388v6M729 333v6M729 350v5M729 372v33M730 316v6M730 333v17M730 383v11M730 405v11M731 339v5M732 355v6M733 328v5M734 339v5M734 350v5M735 339v5M735 372v22M736 355v33M737 350v11M738 344v6M738 454v6M739 339v5M739 361v11M740 344v28M741 366v6M742 350v5M743 350v16M745 355v6M746 372v11M747 361v16M748 361v11M749 355v11M751 388v11M752 377v11M753 383v5M754 355v11M755 377v6M756 377v6M757 366v11M759 355v11M760 344v33M760 394v16M761 361v5M762 372v11M764 344v6M764 366v28M765 350v5M765 383v5M765 394v5M766 339v5M766 366v6M767 333v6M767 361v11M767 405v11M768 316v12M768 366v11M769 333v33"/>
<path stroke="#003cc0" d="M628 416v5M629 388v6M683 493v11M683 521v16M686 532v5M686 543v5M687 443v6M687 477v27M688 454v6M688 471v11M688 499v5M689 471v6M690 454v23M691 410v11M691 454v12M692 471v6M693 477v16M694 421v17M695 427v16M696 438v5M697 405v5M698 416v16M699 405v5M699 421v6M701 410v6M702 405v11M703 410v11M704 427v5M705 421v6M705 438v5M706 432v6M707 405v16M707 438v11M707 454v6M708 410v17M708 460v6M709 405v44M710 383v5M711 361v5M711 399v6M712 388v6M716 377v6M717 388v17M718 388v6M720 388v6M721 383v11M722 328v5M722 377v28M723 394v5M725 394v11M726 399v6M727 416v5M728 361v11M728 399v6M729 410v6M730 366v6M730 427v5M731 372v11M731 399v6M731 421v6M732 366v6M732 394v5M732 416v5M733 372v16M733 399v6M734 361v5M734 405v38M735 350v16M735 410v6M735 438v16M736 394v5M736 443v6M737 366v33M737 438v5M737 454v6M737 466v5M738 355v44M738 443v6M738 466v5M739 377v6M739 449v22M740 377v6M741 372v11M742 361v11M742 377v11M743 372v5M744 377v6M745 372v11M745 388v11M746 388v6M747 388v6M748 377v6M749 383v33M750 361v5M750 383v5M750 399v6M752 394v16M753 394v5M755 388v17M756 394v16M757 383v27M758 394v11M759 372v16M760 410v6M761 372v22M761 477v5M762 333v6M762 388v6M763 350v5M764 339v5M764 405v5M765 328v11M765 377v6M766 316v6M766 388v6M766 405v11M767 344v11M767 383v16M767 421v6M768 383v5M769 394v16M769 421v11"/>
<path stroke="#0030ca" d="M628 421v6M628 432v17M629 449v5M686 488v11M686 548v5M687 449v28M688 460v11M688 482v17M689 477v11M689 543v10M690 477v5M691 466v5M691 499v11M692 477v5M693 454v23M694 438v33M695 443v6M695 460v11M696 548v5M697 410v17M698 432v6M699 410v11M699 427v16M700 416v5M701 416v5M702 416v11M703 421v6M704 432v11M705 427v11M705 443v23M706 438v16M706 499v11M707 421v17M707 460v6M707 521v11M708 466v5M709 449v11M710 388v17M711 405v5M712 394v5M713 372v5M713 383v11M714 377v17M715 394v5M715 454v12M716 383v5M717 405v5M718 394v16M719 383v5M720 394v5M721 394v5M722 322v6M722 405v5M723 399v11M724 405v5M725 405v5M728 405v16M729 416v5M730 355v11M730 432v6M731 383v16M732 372v22M732 421v6M733 405v11M733 427v16M734 366v6M734 394v11M734 443v6M735 416v22M735 454v6M736 399v6M736 438v5M736 449v28M737 399v6M737 432v6M737 443v11M737 471v11M738 399v6M738 410v22M738 438v5M738 471v6M739 383v5M739 438v11M739 471v6M739 488v16M740 383v5M740 466v11M741 383v5M742 388v11M743 537v16M744 383v5M745 383v5M745 399v6M746 394v5M749 416v5M750 366v17M750 388v11M750 416v5M751 410v6M752 410v11M753 399v6M754 388v6M755 405v5M756 410v17M757 410v6M759 388v6M760 438v5M761 466v11M761 482v6M762 328v5M762 394v11M762 416v33M763 333v17M763 383v16M764 333v6M764 410v6M765 361v16M765 405v5M766 394v11M766 416v5M768 388v6M769 410v11M769 432v6"/>
<path stroke="#0023d4" d="M628 427v5M686 499v33M689 537v6M690 482v11M691 471v11M691 493v6M691 510v5M692 482v17M692 548v5M693 493v6M694 471v22M695 449v11M695 471v6M696 443v6M696 454v6M696 543v5M697 427v11M698 438v11M699 443v6M700 421v11M701 421v17M703 427v5M704 443v6M705 466v5M706 454v6M706 471v11M706 493v6M706 510v22M707 510v11M707 532v5M709 460v6M709 488v11M709 521v5M710 405v5M710 438v22M711 410v6M712 454v6M713 377v6M713 394v5M714 394v5M714 499v11M715 449v5M715 466v5M716 388v11M718 410v6M718 477v16M719 388v6M720 499v11M721 399v6M722 316v6M722 410v6M723 410v6M724 410v11M725 410v6M726 405v11M726 438v5M727 421v6M728 421v11M729 421v11M730 438v5M731 427v5M733 416v11M733 443v11M734 372v22M734 449v22M735 460v11M736 405v5M736 427v11M736 477v11M737 405v27M737 482v6M738 405v5M738 432v6M738 477v16M739 388v6M739 432v6M739 477v11M739 504v33M740 399v11M740 443v23M740 477v5M740 504v17M741 388v17M741 488v65M742 399v6M742 532v5M743 377v6M743 532v5M745 405v11M746 399v6M747 394v5M748 383v22M748 526v6M749 421v6M750 421v6M750 532v21M751 416v5M752 421v6M753 405v16M754 394v5M755 410v6M757 416v11M758 405v11M759 394v5M759 410v22M760 416v22M760 443v11M761 394v11M761 416v38M761 460v6M762 316v12M762 405v11M762 449v11M762 466v11M763 322v11M763 399v11M764 416v5M764 454v23M765 410v17M766 421v6M766 432v11M767 427v5M768 394v33M769 438v11"/>
<path stroke="#0248b4" d="M628 449v5M681 548v5M682 493v11M683 488v5M683 504v17M683 537v6M684 449v5M684 466v11M684 499v5M686 482v6M686 537v6M687 438v5M687 504v11M688 504v6M689 394v16M689 460v11M691 399v11M691 421v6M691 449v5M693 421v11M693 449v5M694 416v5M695 421v6M696 427v11M697 388v6M699 377v28M700 377v22M700 410v6M701 388v22M702 399v6M703 405v5M704 383v11M704 421v6M705 399v22M706 410v22M707 449v5M708 405v5M708 427v33M709 399v6M710 377v6M711 366v11M712 344v11M712 361v27M713 366v6M714 372v5M715 377v17M717 383v5M718 372v16M719 377v6M720 316v12M720 383v5M721 316v17M721 377v6M722 333v6M722 361v16M723 388v6M724 399v6M725 322v11M725 383v11M726 394v5M728 355v6M728 372v16M728 394v5M729 339v11M729 355v17M729 405v5M730 322v11M730 350v5M730 372v11M730 416v11M731 344v28M731 405v16M732 361v5M732 399v17M733 333v39M733 388v11M734 355v6M735 344v6M735 366v6M735 394v16M736 388v6M737 361v5M737 460v6M738 350v5M738 449v5M738 460v6M739 344v17M739 372v5M740 372v5M742 355v6M742 372v5M743 366v6M744 372v5M745 361v11M746 383v5M747 377v11M748 372v5M749 366v17M750 355v6M750 405v11M751 399v11M752 388v6M753 388v6M754 366v22M755 383v5M756 383v11M757 377v6M758 361v33M759 366v6M761 366v6M762 339v33M762 383v5M763 355v28M764 394v11M765 322v6M765 339v11M765 355v6M765 399v6M766 322v17M766 372v16M767 339v5M767 355v6M767 372v11M767 399v6M767 416v5M768 377v6M769 366v28"/>
<path stroke="#0f807d" d="M628 454v6M647 416v11M677 482v22M678 471v6M678 515v17M680 510v22M681 460v11M681 504v17M682 454v6M683 421v11M683 438v5M684 421v6M684 521v22M685 443v6M685 499v22M686 471v6M688 377v17M688 537v11M689 355v6M689 421v22M692 432v6M693 383v5M694 350v11M694 383v22M695 316v28M695 383v5M696 350v16M697 350v5M698 339v38M699 344v17M700 355v6M701 344v17M702 344v22M703 366v6M704 328v5M704 339v5M704 350v11M705 372v22M707 350v11M708 355v6M709 361v11M710 333v6M711 328v5M716 344v6M717 366v6M718 322v6M718 339v5M718 355v6M719 316v12M721 344v6M723 350v5M724 350v11M726 316v6M726 339v5M726 355v6M727 328v5M727 355v6M727 383v5M727 399v6M728 316v6M729 322v6M731 328v5M732 322v6M734 316v12M736 322v6M738 328v5M739 316v12M741 350v5M743 333v6M744 339v5M745 316v17M745 344v6M746 328v11M746 355v6M747 350v5M748 328v22M749 339v5M750 316v6M751 344v6M753 350v5M754 339v5M755 344v28M756 344v6M757 339v22M758 316v34M759 339v11M760 333v6"/>
<path stroke="#26f714" d="M628 466v5M633 543v5M644 548v5M650 372v11M650 394v5M650 443v6M651 372v11M651 421v6M652 526v6M653 543v5M658 477v5M659 482v6M659 499v5M659 521v5M659 532v11M660 521v5M660 532v11M661 521v5M661 537v6M662 427v22M662 460v11M664 521v5M665 493v17M665 521v32M666 548v5M667 454v6M667 532v5M667 548v5M668 427v5M668 488v11M668 537v6M669 488v5M669 526v6M670 466v5M670 510v11M670 526v11M671 427v11M673 427v5M673 482v6M673 499v5M673 526v6M674 410v17M675 399v6M675 416v27M675 499v11M676 443v6M677 372v16M677 394v11M678 361v5M678 377v11M678 410v6M679 333v17M680 339v11M680 361v16M680 388v6M681 339v16M681 361v11M681 383v5M683 333v17M684 328v5M685 333v6M690 316v12"/>
<path stroke="#2bf814" d="M629 372v5M630 405v16M630 432v17M632 526v6M644 543v5M646 388v11M649 366v6M650 366v6M650 383v11M651 366v6M651 543v10M652 521v5M653 537v6M658 466v11M658 482v6M659 477v5M659 526v6M659 543v5M660 504v6M661 504v17M662 421v6M662 449v11M664 515v6M665 488v5M665 510v11M667 449v5M667 537v11M668 543v10M669 432v28M670 427v11M670 454v12M670 471v28M670 504v6M670 521v5M671 410v17M671 438v5M673 388v11M673 410v17M673 488v11M673 521v5M674 399v11M675 383v16M676 416v11M676 438v5M677 333v6M678 366v11M678 388v6M678 399v11M680 333v6M680 377v11M681 328v11M681 355v6M681 372v11M682 355v6M683 316v17M684 316v12M687 333v6M691 339v5"/>
<path stroke="#1cbb38" d="M629 377v6M648 366v6M649 432v6M650 405v11M650 421v17M667 471v22M672 482v6M672 521v5M672 537v11M675 460v6M675 537v6M676 482v11M679 361v33M679 405v5M679 421v6M679 438v11M679 532v11M681 410v6M682 372v5M682 388v6M682 405v5M683 366v17M683 394v16M684 388v6M685 361v5M685 372v5M685 399v11M686 355v6M687 355v6M688 333v22M691 355v6M692 344v6M697 322v6M701 322v6M705 328v5M744 316v6"/>
<path stroke="#0015e1" d="M629 394v11M689 488v5M689 515v22M690 493v17M691 482v11M692 499v11M692 521v11M692 543v5M693 499v5M694 493v28M696 449v5M696 460v11M696 532v11M697 438v11M698 548v5M699 543v10M700 432v6M700 532v5M701 438v33M702 427v5M703 432v6M703 521v11M704 449v5M704 537v6M705 471v6M705 510v16M706 460v11M706 482v11M706 532v16M707 466v11M707 499v11M707 537v6M708 471v6M708 499v38M709 466v11M709 482v6M709 499v22M709 526v6M710 410v6M710 427v11M710 460v6M710 504v17M711 416v50M712 399v6M712 449v5M712 460v6M713 399v6M713 460v6M714 399v6M714 510v5M715 399v22M715 443v6M715 471v6M716 399v17M717 410v6M717 477v38M718 416v5M718 471v6M718 493v11M719 394v11M719 460v44M720 399v17M720 477v22M720 510v5M721 405v11M722 416v16M722 493v11M723 504v17M724 421v6M724 504v6M725 515v6M726 416v22M726 443v11M727 427v5M728 432v6M729 432v11M730 443v6M731 432v17M732 427v22M734 471v11M735 471v6M736 410v17M736 488v27M737 488v5M737 521v22M737 548v5M738 493v6M738 510v22M739 394v5M739 405v16M739 427v5M739 537v11M740 388v11M740 410v6M740 438v5M740 482v6M740 499v5M740 521v32M741 405v38M741 482v6M742 405v5M742 521v11M742 537v16M743 383v5M743 510v22M744 388v6M745 416v5M746 405v5M746 466v5M747 399v6M747 543v10M748 405v11M748 515v11M748 532v21M749 427v5M749 443v28M749 482v6M749 515v38M750 427v5M750 521v11M751 421v6M751 526v17M752 427v5M752 537v16M753 421v11M754 399v11M755 416v22M756 427v5M757 427v5M758 416v5M759 399v11M759 432v6M759 466v11M760 454v17M761 405v11M761 454v6M761 488v5M762 460v6M762 477v5M763 316v6M763 410v6M763 427v5M763 466v5M764 316v17M764 421v11M764 488v11M765 427v5M765 466v5M766 427v5M766 443v6M767 432v6M768 427v11M769 449v5"/>
<path stroke="#0008ee" d="M629 405v11M629 443v6M689 493v6M689 504v11M690 510v11M691 515v38M692 510v11M692 532v11M693 504v22M694 521v5M694 543v5M695 477v5M695 548v5M696 471v28M696 526v6M697 449v11M698 449v17M698 537v11M699 449v5M699 499v16M699 526v17M700 438v5M700 521v11M700 537v11M701 471v22M701 510v5M702 432v6M702 443v6M703 438v5M703 477v11M703 510v11M703 532v5M704 532v5M704 543v5M705 477v5M705 504v6M705 526v17M706 548v5M707 477v22M707 543v5M708 477v5M708 488v11M708 537v16M709 477v5M709 532v16M710 416v11M710 466v5M710 488v16M710 521v11M711 466v5M712 405v5M712 421v28M712 515v6M712 548v5M713 416v11M713 454v6M713 466v5M713 532v11M714 405v5M714 493v6M714 515v6M715 421v22M715 526v22M716 416v5M717 416v5M717 454v23M717 515v6M717 532v11M718 466v5M718 504v11M719 405v16M719 454v6M719 504v6M720 416v5M720 471v6M720 515v6M722 432v6M722 488v5M722 504v6M723 416v5M723 482v22M723 521v5M724 493v11M724 510v11M725 416v50M725 471v44M725 521v5M726 454v12M726 482v6M728 438v5M728 477v16M729 443v6M732 449v28M733 454v12M733 471v6M733 532v11M734 482v33M734 521v22M735 477v33M735 515v11M736 515v6M736 526v11M737 493v28M737 543v5M738 499v11M738 532v21M739 399v6M739 421v6M739 548v5M740 416v22M740 488v11M741 443v6M741 471v11M742 410v11M742 471v11M742 510v11M743 449v5M743 460v22M743 493v17M744 394v27M744 466v22M745 421v6M745 466v11M746 410v17M746 460v6M746 471v6M746 521v16M746 548v5M747 466v16M747 537v6M748 416v11M748 504v11M749 432v11M749 471v11M749 488v5M749 510v5M750 432v28M750 471v17M750 515v6M751 515v11M751 543v10M752 532v5M753 432v6M753 548v5M754 410v17M754 466v5M755 438v5M756 477v11M757 432v6M757 466v22M758 421v6M759 438v28M759 477v16M760 471v6M762 482v6M763 416v11M763 432v34M763 471v6M764 432v22M764 477v11M765 432v22M765 460v6M765 471v6M766 449v17M767 438v11M768 438v11M769 454v6M769 504v22"/>
<path stroke="#0000fc" d="M629 416v5M629 438v5M690 532v5M693 543v5M695 488v33M695 526v6M695 537v6M696 504v17M697 466v11M697 532v11M698 471v11M698 515v17M699 466v11M700 449v5M700 460v17M700 504v11M701 543v5M702 454v12M702 488v11M702 510v11M702 537v16M703 460v11M703 493v6M704 460v6M704 477v11M704 499v27M710 537v6M711 477v5M711 504v6M711 548v5M712 526v11M713 432v6M713 443v6M713 488v16M713 510v16M714 466v22M714 526v27M715 488v27M716 427v5M716 449v17M716 477v11M716 504v11M716 526v6M716 537v11M717 427v5M717 443v6M718 443v6M718 521v5M719 427v22M720 427v11M721 421v6M721 449v5M721 471v28M721 510v5M721 526v6M721 543v10M722 443v11M722 532v11M723 421v6M723 454v23M724 432v22M724 460v11M724 532v11M725 532v5M726 493v50M727 466v11M728 454v17M728 499v5M728 515v6M728 543v10M729 454v6M730 532v21M731 454v6M731 504v17M731 532v11M732 499v5M732 515v6M732 532v5M733 488v5M733 504v11M734 548v5M735 537v16M736 543v5M742 443v17M743 394v11M743 438v5M744 427v5M744 443v17M744 499v11M744 521v27M745 432v6M745 482v6M745 493v11M746 488v27M747 427v5M747 454v6M747 488v5M748 460v11M748 488v11M749 499v5M750 493v17M751 432v11M751 460v6M751 477v11M751 499v11M752 438v11M752 466v5M752 515v11M753 443v11M753 477v11M753 537v6M754 432v28M754 477v5M755 449v11M756 443v6M756 460v6M756 493v11M757 443v17M757 493v17M758 438v28M758 493v6M759 499v5M760 488v16M761 499v5M761 537v16M762 488v5M763 482v28M764 515v22M765 488v22M765 537v6M766 510v16M766 548v5M767 454v12M767 477v11M767 493v17M767 543v10M768 454v6M768 493v6M768 526v6M768 543v5M769 482v17"/>
<path stroke="#0000fd" d="M629 421v17M690 537v6M693 548v5M695 532v5M697 477v27M697 515v17M698 482v33M700 454v6M700 477v27M701 548v5M702 466v22M702 499v11M704 466v11M704 488v11M710 543v10M711 482v22M712 471v6M712 493v17M713 438v5M714 416v50M716 432v17M716 532v5M716 548v5M717 432v11M718 427v5M718 438v5M719 532v21M720 438v28M721 427v22M721 515v11M722 543v10M723 427v27M724 454v6M724 543v10M725 537v16M726 543v10M727 477v66M728 504v11M728 521v22M729 460v93M730 454v78M731 460v44M731 521v11M732 504v11M732 521v11M743 405v33M744 432v11M745 488v5M747 432v22M751 443v17M752 449v17M752 471v44M753 454v23M753 488v11M753 515v22M754 482v17M754 521v32M755 460v55M756 449v11M756 504v11M757 510v11M757 543v10M758 499v16M758 521v16M759 504v49M760 504v11M760 537v6M761 504v11M761 526v11M762 493v33M762 532v11M763 510v43M764 537v16M765 510v27M766 477v33M767 466v11M767 488v5M768 460v33M768 548v5"/>
<path stroke="#3bfc14" d="M629 471v6M630 454v6M631 532v11M635 548v5M641 526v17M644 532v5M645 361v16M645 388v11M646 421v6M647 350v5M649 361v5M649 482v17M650 361v5M650 543v10M651 355v6M651 432v11M651 526v6M652 361v11M652 394v5M652 410v17M652 510v5M653 410v6M653 427v11M655 405v5M655 421v6M655 438v5M656 405v11M656 421v11M656 510v43M657 427v5M657 477v16M657 499v16M657 526v27M658 432v6M659 454v6M660 488v5M661 377v6M661 388v6M661 466v11M662 388v6M662 410v6M662 482v6M663 449v22M663 477v5M663 510v11M664 316v6M664 333v6M664 394v22M664 432v11M664 493v6M665 388v6M665 405v5M665 416v5M665 471v6M666 471v6M666 488v22M667 344v6M667 383v5M667 421v6M668 388v6M669 377v28M669 548v5M670 328v22M670 399v6M670 410v11M671 361v22M671 388v6M671 477v5M671 493v6M671 532v5M671 548v5M673 377v6M674 328v16M674 355v11M675 372v5M676 366v11M676 383v5M676 394v11M680 322v6M682 344v6M691 322v6"/>
<path stroke="#31fa14" d="M630 388v17M630 421v11M630 449v5M631 548v5M632 493v6M632 521v5M632 532v11M633 526v6M641 548v5M645 405v5M646 366v22M646 399v17M647 361v5M647 443v6M648 355v6M648 449v5M649 443v6M650 449v5M651 361v5M651 427v5M651 537v6M653 416v5M653 532v5M658 460v6M658 504v6M658 521v22M659 471v6M659 548v5M660 499v5M660 510v11M661 543v10M662 394v11M662 471v6M663 526v27M664 504v11M665 394v5M665 482v6M666 515v6M666 543v5M668 399v28M669 427v5M669 460v28M669 532v5M670 438v16M670 499v5M671 399v11M671 443v23M671 504v22M672 438v5M673 383v5M673 399v11M674 372v27M675 377v6M676 410v6M676 427v11M677 322v11M678 394v5M682 350v5M686 322v6M687 328v5M691 333v6"/>
<path stroke="#1ee81b" d="M633 548v5M648 361v5M649 377v6M649 388v6M649 405v5M650 399v6M650 438v5M651 394v22M652 543v10M659 510v11M660 543v5M668 432v11M668 449v5M668 460v22M668 504v11M668 521v11M670 548v5M673 532v5M674 438v5M674 454v23M674 493v17M674 515v11M674 532v16M675 449v5M675 488v5M675 515v17M676 454v6M676 466v11M677 361v5M678 333v6M678 421v6M679 316v6M679 350v5M680 416v5M682 394v5M683 355v6M684 350v5M685 316v12M685 344v6M687 344v6M688 316v12M690 328v16M690 350v5M696 316v17M697 316v6M705 316v6"/>
<path stroke="#1ecd29" d="M647 372v5M648 438v5M649 383v5M649 410v6M650 416v5M660 548v5M667 466v5M667 493v6M668 454v6M672 449v33M672 526v11M673 537v16M674 443v11M674 477v16M674 510v5M674 526v6M674 548v5M675 454v6M675 466v22M675 532v5M676 460v6M676 477v5M676 493v11M677 344v17M677 438v5M678 339v16M679 355v6M679 394v11M679 427v11M680 421v6M681 394v16M682 366v6M682 399v6M683 361v5M684 355v33M685 350v11M686 350v5M687 350v5M688 328v5M689 316v6M690 355v6M691 350v5M692 316v28M696 333v6M698 316v6M701 316v6M705 322v6"/>
<path stroke="#18a056" d="M648 372v22M649 421v6M672 488v5M672 504v6M676 510v22M677 443v6M677 515v6M678 432v11M679 454v6M679 499v5M679 515v6M680 466v22M680 499v5M681 421v11M681 438v16M682 416v5M683 410v6M684 399v6M684 410v6M685 383v5M685 394v5M685 416v16M686 366v6M686 394v16M686 454v6M687 366v6M688 361v5M688 405v16M689 328v16M690 366v6M691 366v6M692 350v5M692 405v16M693 316v39M695 355v17M697 333v6M699 316v17M700 316v12M701 328v5M701 366v6M703 328v5M703 350v11M704 316v6M705 339v22M707 339v5M708 339v5M709 316v6M710 316v6M717 339v16M719 339v11M741 316v12M743 322v6M746 316v6M751 316v17M755 316v6M756 316v6"/>
<path stroke="#0002f9" d="M689 499v5M690 521v11M693 526v17M694 526v17M694 548v5M695 482v6M695 521v5M695 543v5M696 499v5M696 521v5M697 460v6M697 543v10M698 466v5M698 532v5M699 454v12M699 477v22M699 515v11M700 443v6M700 515v6M700 548v5M701 493v17M701 515v28M702 438v5M702 449v5M702 521v16M703 443v17M703 471v6M703 488v5M703 499v11M703 537v16M704 454v6M704 526v6M704 548v5M705 482v22M705 543v10M707 548v5M708 482v6M709 548v5M710 471v17M710 532v5M711 471v6M711 510v38M712 410v11M712 466v5M712 510v5M712 521v5M712 537v11M713 405v11M713 427v5M713 449v5M713 471v17M713 504v6M713 526v6M713 543v10M714 410v6M714 488v5M714 521v5M715 477v11M715 515v11M715 548v5M716 421v6M716 466v11M716 488v16M716 515v11M717 421v6M717 449v5M717 521v11M717 543v10M718 421v6M718 449v17M718 515v6M718 526v27M719 421v6M719 449v5M719 510v22M720 421v6M720 466v5M720 521v32M721 416v5M721 454v17M721 499v11M721 532v11M722 438v5M722 454v34M722 510v22M723 477v5M723 526v27M724 427v5M724 471v22M724 521v11M725 466v5M725 526v6M726 466v16M726 488v5M727 432v34M728 443v11M728 471v6M728 493v6M729 449v5M730 449v5M731 449v5M731 543v10M732 477v22M732 537v16M733 466v5M733 477v11M733 493v11M733 515v17M733 543v10M734 515v6M734 543v5M735 510v5M735 526v11M736 521v5M736 537v6M736 548v5M741 449v22M742 421v22M742 460v11M742 482v28M743 388v6M743 443v6M743 454v6M743 482v11M744 421v6M744 460v6M744 488v11M744 510v11M744 548v5M745 427v5M745 438v28M745 477v5M745 504v49M746 427v33M746 477v11M746 515v6M746 537v11M747 405v22M747 460v6M747 482v6M747 493v44M748 427v33M748 471v17M748 499v5M749 493v6M749 504v6M750 460v11M750 488v5M750 510v5M751 427v5M751 466v11M751 488v11M751 510v5M752 432v6M752 526v6M753 438v5M753 543v5M754 427v5M754 460v6M754 471v6M755 443v6M756 432v11M756 466v11M756 488v5M757 438v5M757 460v6M757 488v5M758 427v11M758 466v27M759 493v6M760 477v11M761 493v6M762 543v10M763 477v5M764 499v16M765 454v6M765 477v11M765 543v10M766 466v11M766 526v22M767 449v5M767 510v33M768 449v5M768 499v27M768 532v11M769 460v22M769 499v5M769 526v27"/>
<path stroke="#0000fe" d="M690 543v10M697 504v11M712 477v16M718 432v6M727 543v10M753 499v16M754 499v22M755 515v38M756 515v38M757 521v22M758 515v6M758 537v16M760 515v22M760 543v10M761 515v11M762 526v6"/>
<path stroke="#00ff96" d="M610 695v17M610 734v6M610 850v6M610 894v17M610 916v6M611 911v5M611 927v5M612 778v6M612 806v11M613 695v6M613 729v5M613 751v5M613 856v5M613 878v5M613 894v6M614 701v6M614 817v16M615 773v5M616 712v17M616 762v5M616 784v11M618 751v5M618 789v6M619 784v5M619 822v6M619 833v6M620 789v6M621 905v22M625 701v6M627 712v6M627 751v5M627 911v5M627 922v5M628 695v6M628 811v6M628 911v5M629 911v5M630 767v11M633 867v5M634 916v16M635 867v5M636 695v6M636 740v5M636 773v11M636 861v6M639 789v6M640 795v5M640 817v5M640 839v17M641 822v17M641 845v5M643 850v6M643 927v5M644 712v11M644 828v5M644 905v6M645 762v11M645 778v11M645 828v11M645 867v5M645 900v11M646 701v11M646 828v11M646 861v6M646 883v6M647 905v11M647 927v5M648 872v6M649 734v6M649 856v16M649 883v6M650 712v6M650 745v6M650 789v6M650 839v6M652 707v11M652 734v6M653 734v6M653 900v5M653 922v5M654 900v5M655 723v6M655 817v11M655 878v5M655 889v5M656 723v6M656 811v6M656 833v12M656 850v6M656 861v6M657 723v6M657 867v5M658 718v16M658 894v6M659 723v6M660 806v5M661 756v11M661 773v5M661 833v12M661 905v6M661 922v10M662 729v5M662 767v11M662 806v5M662 828v5M662 905v6M663 806v11M663 828v5M663 839v6M664 712v6M664 828v5M664 839v6M665 845v11M666 889v5M669 845v11M669 872v6M670 740v11M670 795v16M670 822v6M670 861v6M671 734v11M672 784v11M672 822v6M673 712v11M673 833v23M673 861v6M674 740v16M675 762v11M675 784v5M675 905v27M676 767v11M678 734v6M678 751v22M679 789v6M679 811v11M679 878v5M679 900v5M679 922v10M680 795v5M680 889v5M680 900v5M680 916v6M684 889v11M686 762v5M687 900v11M689 707v5M690 723v6M690 740v11M690 861v6M690 900v27M691 695v12M691 751v16M691 845v11M691 922v5M692 822v6M692 927v5M693 861v6M694 701v11M694 734v6M695 756v28M695 916v6M695 927v5M696 894v6M696 927v5M697 707v5M697 718v5M697 751v5M697 762v5M698 751v5M699 718v5M699 762v5M699 889v5M699 911v5M700 723v6M700 795v5M700 811v6M701 707v11M701 723v11M703 707v5M703 729v11M704 707v5M704 745v11M704 878v5M705 707v11M705 729v22M705 756v6M706 751v5M707 701v6M707 723v17M707 745v6M707 773v5M707 784v5M707 817v5M707 828v5M707 839v22M708 695v6M708 723v6M708 778v6M708 800v6M708 828v5M709 695v6M709 718v5M710 701v6M710 712v6M710 729v22M710 911v5M710 922v5M712 701v6M712 845v5M713 833v17M713 889v5M714 845v5M715 905v27M716 740v5M716 762v5M718 795v22M718 839v6M719 745v6M719 762v5M719 811v6M719 822v6M720 740v5M720 756v17M720 784v5M720 811v6M720 867v5M720 900v5M721 707v11M721 729v5M723 905v6M726 822v6M727 806v16M727 828v5M727 839v17M727 867v16M728 856v5M729 856v11M730 828v5M730 850v6M731 701v11M731 718v5M731 762v5M731 850v6M732 773v5M732 789v6M732 845v11M732 867v11M733 751v5M733 778v11M733 806v5M733 822v11M733 839v6M733 878v11M735 729v5M735 833v6M735 850v6M736 784v16M736 817v16M736 839v22M737 789v6M737 872v6M737 922v5M738 751v5M739 723v17M739 883v6M739 911v5M740 723v6M740 740v11M740 767v17M740 795v5M741 695v12M741 751v5M741 828v5M741 850v6M741 927v5M742 773v5M742 828v11M742 845v16M742 872v17M742 911v11M743 712v6M744 707v5M744 723v6M744 740v11M744 762v5M744 773v5M744 856v5M744 889v11M745 850v11M745 883v6M745 900v5M747 800v17M747 822v6M747 867v5M747 878v11M748 811v6M748 828v5M749 778v6M749 811v6M749 833v12M749 850v6M750 822v6M752 751v11M753 718v5M753 762v5M753 778v6M753 795v5M753 806v5M753 833v6M753 845v5M754 745v6M754 789v6M754 839v6M756 817v5M757 867v11M759 718v5M759 784v5M759 828v5M759 839v6M759 850v6M759 922v5M760 734v6M760 745v6M760 811v17M760 905v6M760 922v5M761 701v6M761 734v6M761 745v6M761 767v6M761 789v6M761 800v6M761 828v5M762 745v11M762 773v11M762 800v11M763 695v6M763 707v5M763 723v6M763 773v11M764 795v5M764 822v11M766 707v11M767 889v11M768 861v17"/>
<path stroke="#00ff76" d="M610 712v22M610 845v5M610 889v5M610 922v10M613 745v6M613 756v6M613 767v6M613 872v6M613 883v6M613 916v6M614 695v6M614 751v11M614 833v12M615 695v6M615 800v6M615 916v6M616 729v5M616 756v6M616 767v17M616 817v5M618 707v5M618 745v6M618 756v6M618 784v5M618 795v5M619 707v5M619 800v22M619 850v6M620 795v27M621 900v5M622 833v12M623 729v11M623 756v6M624 878v11M625 695v6M625 707v16M626 695v17M626 762v5M627 707v5M627 723v6M627 784v5M627 806v5M627 905v6M627 927v5M628 817v5M628 900v11M629 828v5M629 878v11M629 900v11M630 740v16M630 828v5M632 850v6M633 872v11M634 734v17M634 894v6M635 800v11M635 845v5M636 701v6M636 734v6M636 756v6M636 767v6M636 784v11M636 833v12M636 856v5M636 867v5M637 695v6M637 712v6M637 828v5M638 878v16M639 795v5M640 695v6M640 856v5M641 867v11M642 845v5M642 900v5M643 833v12M644 707v5M644 723v6M644 751v5M644 822v6M644 833v12M644 911v16M645 773v5M645 789v11M645 822v6M645 839v6M645 850v17M645 872v28M645 911v5M646 822v6M646 839v6M646 856v5M646 900v5M647 822v6M648 729v5M648 828v17M648 861v11M648 889v5M648 900v32M649 723v11M649 822v6M649 889v22M650 718v11M650 845v11M650 872v11M650 911v11M651 701v6M651 712v11M651 767v6M652 718v16M652 745v6M652 916v16M653 729v5M653 740v5M653 927v5M654 861v11M654 883v17M655 811v6M655 828v5M655 861v17M655 883v6M656 795v16M656 817v5M656 856v5M657 729v5M658 707v11M658 734v6M659 712v11M660 800v6M660 811v6M660 839v28M661 707v5M661 751v5M661 767v6M661 861v6M661 889v16M662 833v28M662 878v11M663 734v6M664 707v5M664 729v5M664 822v6M664 867v5M666 878v11M669 701v6M669 822v6M671 833v12M672 811v11M672 828v5M673 723v11M674 734v6M674 817v5M674 883v6M674 905v6M674 916v6M675 773v11M675 800v6M675 900v5M676 756v11M676 778v6M677 740v11M677 889v16M677 911v5M678 916v11M679 778v6M679 822v6M679 916v6M680 850v6M680 894v6M681 905v11M683 712v6M684 900v5M685 850v6M686 756v6M686 767v22M686 878v5M687 729v5M687 911v11M690 878v22M690 927v5M691 707v11M691 767v6M691 839v6M692 767v6M692 817v5M692 905v11M693 822v6M693 850v11M694 729v5M694 762v33M694 889v5M695 751v5M695 784v11M695 922v5M696 883v11M696 911v5M698 756v11M698 922v10M699 734v6M699 767v6M699 872v6M699 894v17M699 916v6M699 927v5M700 729v5M700 778v17M700 800v11M700 894v11M701 734v6M702 740v5M702 767v11M703 756v11M704 701v6M704 712v33M704 773v5M704 872v6M704 883v6M706 695v6M706 712v17M706 745v6M706 756v11M706 784v11M706 800v6M707 712v11M707 762v11M707 778v6M707 822v6M707 861v6M708 729v22M708 784v5M708 806v5M708 817v11M708 833v6M709 723v17M709 828v11M710 707v5M710 751v5M710 811v11M710 905v6M711 745v6M711 817v5M712 740v5M712 850v17M713 828v5M713 894v6M714 817v11M716 712v6M716 745v11M717 718v5M717 833v12M717 872v6M718 707v5M718 740v5M718 773v5M718 789v6M718 845v5M719 740v5M719 751v11M720 701v6M720 734v6M720 800v11M720 817v5M720 828v5M720 850v17M720 872v6M720 905v6M721 734v6M721 773v5M723 883v6M724 856v5M724 878v5M725 889v5M726 806v5M726 850v17M727 800v6M727 822v6M727 856v11M728 828v5M728 850v6M728 861v6M729 712v6M729 867v5M730 729v11M731 723v17M731 745v6M731 767v6M731 833v17M732 695v6M732 723v11M732 767v6M732 811v6M732 839v6M732 856v11M732 878v5M732 894v6M732 927v5M733 845v5M734 751v5M734 817v5M734 839v11M734 916v6M735 718v5M735 839v11M736 811v6M737 861v11M738 740v11M738 756v6M739 916v6M740 718v5M740 729v11M740 800v6M740 811v11M740 916v6M741 745v6M741 833v17M741 856v5M741 894v6M742 767v6M742 839v6M742 861v11M742 889v11M742 922v10M743 718v5M743 734v6M744 695v6M744 789v6M744 806v11M744 850v6M745 861v6M745 889v5M746 828v5M746 927v5M747 795v5M747 817v5M747 828v17M747 850v6M747 872v6M748 762v5M748 773v11M748 789v22M748 833v6M748 883v11M749 695v17M749 878v5M750 723v6M750 828v5M750 867v16M751 916v6M752 745v6M752 789v6M753 707v11M753 740v5M753 756v6M753 800v6M753 839v6M753 856v5M754 740v5M754 751v5M754 778v11M755 911v5M756 800v17M756 822v6M756 911v5M757 861v6M757 889v5M757 905v11M757 922v5M758 889v5M758 916v6M759 695v6M759 723v6M759 789v17M759 845v5M759 911v11M760 740v5M760 878v11M760 900v5M760 927v5M761 707v11M761 723v6M761 740v5M761 806v5M761 817v5M762 695v6M762 718v11M762 756v17M763 701v6M763 729v5M763 740v16M763 767v6M763 784v5M764 833v6M764 911v5M765 811v6M766 718v5M766 734v11M766 883v6"/>
<path stroke="#00ff56" d="M610 740v5M610 811v6M610 856v5M611 839v11M611 856v5M612 773v5M613 734v11M613 762v5M613 861v6M613 889v5M613 922v10M615 701v11M615 740v5M615 762v5M615 806v5M615 911v5M615 922v5M616 734v11M616 795v5M616 811v6M616 822v6M618 712v17M618 740v5M619 712v6M619 723v11M619 778v6M619 839v6M619 856v5M620 751v22M620 784v5M620 822v6M620 833v12M620 883v6M621 883v11M622 828v5M622 867v11M622 927v5M623 751v5M623 762v5M623 833v6M624 695v12M624 729v11M624 889v5M624 916v11M625 723v6M625 922v10M626 712v6M626 756v6M627 695v12M627 745v6M627 789v17M627 811v6M627 889v16M628 894v6M629 889v11M630 734v6M630 822v6M630 833v6M631 845v5M632 723v6M632 828v11M632 878v5M633 806v11M633 833v17M633 861v6M633 883v6M634 751v5M635 795v5M635 828v17M635 850v17M636 707v11M636 723v11M636 762v5M636 795v5M636 828v5M636 850v6M636 872v11M637 701v11M637 718v16M637 751v11M637 833v6M637 889v11M639 729v11M639 773v5M639 800v11M639 833v6M640 701v6M641 806v16M642 822v11M642 839v6M642 872v17M643 828v5M643 845v5M644 695v12M644 745v6M644 756v6M644 927v5M645 800v22M645 845v5M645 916v6M646 695v6M646 712v6M646 740v5M646 845v11M646 867v5M646 878v5M646 905v6M647 806v5M648 695v12M648 718v11M648 734v6M648 751v11M648 856v5M648 894v6M649 740v5M649 806v16M650 856v5M651 707v5M651 723v11M651 762v5M652 911v5M653 695v6M653 723v6M653 745v6M653 894v6M654 856v5M654 872v11M655 729v5M655 806v5M655 833v6M655 845v16M656 729v5M656 740v5M656 778v17M656 828v5M658 695v12M658 762v5M658 850v11M658 867v5M659 707v5M659 740v5M659 872v11M660 745v11M660 778v22M660 828v11M661 701v6M661 734v6M661 878v11M662 900v5M663 695v39M663 740v5M663 778v6M663 800v6M663 817v11M663 845v5M664 811v11M664 872v6M665 695v6M665 839v6M666 751v5M666 867v11M667 751v16M667 900v5M669 817v5M670 751v16M670 773v11M670 789v6M670 867v5M673 867v5M673 878v16M674 850v6M674 878v5M674 889v5M674 900v5M674 911v5M675 756v6M676 740v16M677 734v6M677 751v5M677 878v11M677 905v6M677 916v11M678 718v16M678 795v5M678 845v5M678 900v16M678 927v5M679 695v6M679 773v5M679 784v5M679 872v6M679 905v11M680 789v6M680 856v11M680 883v6M683 707v5M683 718v5M684 867v5M684 883v6M684 905v27M687 723v6M687 734v6M687 883v6M687 922v10M689 712v6M689 723v6M690 751v11M691 833v6M692 751v16M692 773v5M692 811v6M693 745v6M694 751v11M694 795v5M694 861v6M694 878v5M695 795v5M695 828v5M695 850v6M695 867v38M696 767v6M696 828v5M696 916v11M697 712v6M697 767v6M697 789v6M697 894v11M699 740v11M699 756v6M699 817v16M699 839v6M699 867v5M699 922v5M700 734v6M700 773v5M700 817v5M700 839v6M700 927v5M701 767v17M701 806v11M703 751v5M703 767v6M703 845v11M704 695v6M704 778v17M704 817v11M704 867v5M704 889v22M705 718v11M705 762v5M705 811v11M706 701v11M706 729v5M706 767v6M706 795v5M706 806v5M707 707v5M707 751v11M708 789v11M708 811v6M708 839v6M709 740v5M709 773v5M710 756v6M710 767v17M710 806v5M710 822v6M710 833v17M710 927v5M711 762v5M711 773v5M711 822v23M712 745v6M712 822v6M712 867v5M712 883v11M713 800v6M714 811v6M714 828v5M714 839v6M714 850v6M714 911v21M715 756v6M715 900v5M716 707v5M716 718v5M716 734v6M717 695v23M717 723v6M717 828v5M717 867v5M717 878v5M718 701v6M718 729v11M718 745v11M718 767v6M718 778v6M718 850v6M719 707v5M719 734v6M719 828v5M719 850v6M720 695v6M720 707v5M720 729v5M720 773v11M720 822v6M720 833v6M720 878v5M720 894v6M720 927v5M721 740v11M721 767v6M721 927v5M722 701v11M723 878v5M723 911v5M724 861v6M724 872v6M724 883v6M725 811v17M725 845v11M725 894v17M726 867v5M727 778v6M727 795v5M727 883v6M727 905v22M728 707v5M728 845v5M728 867v22M728 922v5M729 718v5M729 850v6M729 927v5M731 740v5M731 784v5M731 811v11M731 828v5M732 718v5M732 734v33M732 795v5M732 806v5M732 817v5M732 883v11M733 850v6M733 927v5M734 811v6M734 822v17M734 850v6M734 878v22M734 911v5M735 734v6M735 751v5M735 806v11M735 828v5M737 856v5M737 927v5M738 883v6M739 762v5M739 878v5M740 695v23M740 806v5M741 707v5M741 740v5M741 878v11M741 900v5M741 922v5M742 740v11M742 762v5M743 729v5M743 740v5M743 762v11M743 778v6M744 701v6M744 751v11M744 778v11M744 817v5M744 828v11M744 845v5M745 734v6M745 800v6M745 822v6M745 845v5M745 867v16M745 894v6M745 927v5M746 822v6M747 778v6M747 845v5M748 695v6M748 756v6M748 767v6M748 784v5M748 839v11M748 856v5M749 712v6M749 856v5M749 872v6M749 883v6M750 718v5M750 729v5M750 817v5M750 883v6M750 905v6M751 922v10M752 729v5M752 740v5M752 762v5M752 773v16M752 795v5M752 806v5M753 767v11M753 861v6M754 712v6M754 734v6M754 773v5M755 695v6M755 806v11M755 916v6M756 762v5M756 795v5M756 828v5M756 905v6M756 916v16M757 695v6M757 718v22M757 756v6M757 822v11M757 878v11M757 894v11M757 916v6M758 811v22M758 856v11M758 883v6M758 894v6M758 922v5M759 729v5M759 778v6M760 845v5M761 718v5M761 773v5M761 784v5M761 811v6M762 701v6M762 729v5M762 740v5M762 811v6M762 828v11M763 734v6M763 756v11M763 789v6M763 806v5M763 839v6M763 883v6M764 767v17M764 789v6M764 916v6M765 784v5M765 806v5M765 828v5M766 701v6M766 723v11M766 861v6M766 889v5M768 767v11M768 856v5"/>
<path stroke="#0cff28" d="M610 745v6M610 822v17M610 872v11M614 927v5M615 718v11M615 751v11M615 811v28M615 861v11M617 723v6M617 734v6M617 811v6M618 773v5M618 828v22M619 695v6M619 740v5M619 751v16M620 712v6M620 723v11M620 740v5M620 773v5M620 856v22M621 850v6M621 872v6M622 740v5M622 751v11M622 822v6M622 856v5M622 916v6M623 745v6M623 784v11M623 806v5M624 712v6M624 723v6M624 740v5M624 867v5M624 894v6M625 734v11M625 856v5M625 905v17M626 723v11M626 745v6M626 927v5M628 889v5M629 839v6M629 872v6M630 729v5M630 839v22M631 833v6M632 695v17M632 811v11M632 883v6M633 800v6M633 889v5M634 695v6M634 707v5M634 718v11M634 762v22M634 828v5M634 867v27M635 701v11M635 734v6M635 778v6M635 789v6M635 817v5M636 800v6M636 822v6M636 905v6M637 845v5M638 751v5M638 762v11M638 795v22M638 828v22M638 872v6M638 900v5M638 922v5M639 723v6M639 740v5M639 756v6M639 817v11M639 839v6M640 707v5M640 745v11M640 767v6M640 784v5M640 867v16M641 883v6M642 806v16M642 861v6M643 740v5M643 817v5M644 729v11M644 811v6M645 922v5M646 751v5M646 800v6M646 911v5M646 927v5M647 723v6M647 778v6M647 789v6M648 740v5M648 789v6M648 822v6M648 850v6M649 751v5M649 778v11M649 800v6M650 883v6M650 900v5M651 745v17M651 833v6M651 922v10M652 894v6M653 701v6M653 712v6M653 751v5M653 883v6M654 751v5M654 767v6M654 817v11M654 839v17M655 745v17M655 773v11M655 800v6M656 751v5M656 762v11M657 734v6M657 756v6M657 778v6M657 850v11M658 839v6M659 695v6M659 751v27M659 806v16M659 833v6M659 850v22M659 883v6M660 718v11M660 762v11M660 867v5M661 695v6M661 718v11M662 872v6M663 745v6M663 767v6M663 789v11M663 856v5M663 900v5M663 916v11M664 740v5M664 806v5M664 883v6M664 900v11M665 701v11M665 718v5M665 734v6M665 773v16M665 833v6M666 707v38M666 773v11M666 833v17M667 712v17M667 745v6M667 767v6M667 784v5M667 889v5M667 905v6M668 773v5M668 806v5M668 822v6M668 833v6M669 712v6M669 745v28M669 784v11M669 806v5M669 883v6M670 878v16M670 927v5M672 850v11M673 900v16M674 718v11M674 861v11M675 695v6M675 712v6M675 740v5M675 811v6M676 795v11M676 828v5M676 867v11M676 889v11M676 922v10M677 701v6M677 712v6M677 729v5M677 756v6M677 784v16M677 856v11M678 778v6M678 789v6M678 833v6M678 856v5M678 878v22M679 707v5M679 751v16M679 833v6M679 867v5M680 707v5M680 784v5M680 867v16M682 922v10M683 695v12M683 729v5M683 740v11M683 828v17M683 900v5M683 922v5M684 718v11M684 828v5M684 845v5M684 878v5M685 723v6M685 740v5M685 767v6M685 822v11M685 845v5M686 695v6M686 800v6M686 850v17M687 745v17M687 773v5M687 789v6M687 845v5M687 856v11M687 878v5M688 712v11M688 856v11M689 734v11M689 822v17M689 872v6M690 767v6M690 778v6M690 817v5M690 833v6M690 850v6M691 817v16M692 778v6M692 806v5M693 723v11M693 756v6M693 811v6M694 845v5M694 856v5M695 718v5M695 729v22M695 806v11M696 718v5M696 729v16M696 751v16M696 778v6M696 795v33M696 833v6M696 845v5M696 856v5M696 867v11M697 773v11M697 889v5M697 911v5M697 922v10M698 883v6M698 911v5M699 773v5M699 784v11M699 806v5M700 745v11M700 762v5M700 822v11M700 850v6M700 867v5M700 878v5M700 889v5M700 916v6M701 740v5M701 751v5M701 878v5M702 745v6M702 833v6M703 745v6M703 778v6M703 789v6M703 800v17M703 833v6M703 867v11M704 806v5M704 850v6M704 922v10M705 778v17M705 861v11M705 927v5M706 734v6M706 822v6M706 833v6M706 850v6M707 889v5M707 905v11M707 927v5M708 845v11M708 911v5M708 922v10M709 756v6M709 767v6M709 795v11M709 856v11M710 789v6M710 800v6M710 856v5M710 867v5M710 889v5M711 806v5M711 861v6M711 905v6M711 922v5M712 751v16M712 811v6M712 894v6M713 701v11M713 822v6M713 905v6M713 916v6M714 695v12M714 712v6M714 729v5M714 856v5M714 872v6M714 900v5M715 723v22M715 751v5M715 778v6M715 828v11M715 889v5M716 811v6M717 729v5M717 740v5M717 762v5M717 778v28M717 845v5M718 695v6M718 718v5M718 856v5M719 695v6M719 718v11M719 833v12M720 723v6M720 839v6M720 889v5M720 911v5M721 751v5M721 762v5M721 778v6M721 867v11M721 900v16M722 712v6M723 922v5M724 845v5M724 900v5M724 911v5M724 922v5M725 806v5M725 861v6M725 878v5M726 695v12M726 789v6M726 889v5M727 701v6M727 767v6M728 695v6M728 718v5M728 778v6M728 822v6M728 889v16M728 911v5M729 734v6M729 817v11M729 839v11M729 878v16M729 900v5M729 922v5M730 811v6M731 800v6M732 712v6M733 889v5M733 905v6M734 756v17M734 784v11M734 867v5M735 701v11M735 767v6M735 822v6M737 822v6M737 839v6M738 767v11M738 784v5M738 867v5M738 878v5M739 784v5M739 867v11M740 883v28M741 712v6M741 867v11M741 905v17M742 695v23M742 729v5M743 751v5M745 745v6M745 767v6M745 811v6M745 833v6M746 712v6M748 751v5M748 905v11M748 922v5M749 723v6M749 762v11M749 861v11M749 889v5M750 695v6M750 734v6M750 745v6M750 762v16M750 784v11M750 839v11M750 861v6M750 889v5M751 889v5M752 833v6M753 745v6M753 878v5M753 894v11M754 729v5M755 795v5M755 922v10M756 856v11M756 883v17M757 740v5M757 751v5M757 833v6M758 712v11M758 800v6M758 850v6M758 872v6M759 740v5M759 773v5M760 833v6M760 856v22M761 889v5M762 707v5M763 817v5M763 889v5M763 905v27M764 762v5M764 845v5M765 745v6M765 795v5M765 850v6M766 745v6M766 756v22M766 817v5M766 872v6M766 894v6M766 911v16M767 701v6M767 784v11M767 867v5M768 778v6M768 795v11"/>
<path stroke="#9bff00" d="M610 751v5M610 773v11M611 767v11M611 784v5M611 806v16M614 872v11M615 845v11M615 894v6M617 695v6M617 767v6M617 822v6M617 833v6M617 867v11M617 905v11M617 922v5M618 889v5M618 905v6M620 695v17M622 718v5M622 773v5M622 789v11M622 889v11M622 905v6M623 695v6M624 745v6M624 762v16M624 833v12M624 850v6M626 883v11M626 905v6M626 922v5M627 856v16M628 839v11M630 707v5M630 718v5M631 707v5M631 734v6M631 822v6M631 889v11M632 756v11M632 795v5M632 894v6M633 701v6M633 712v6M633 729v5M633 762v5M633 773v5M633 784v5M633 905v6M634 806v16M634 845v5M636 927v5M637 784v5M637 806v11M637 905v6M638 707v11M638 740v5M638 861v6M639 707v5M639 718v5M639 845v11M642 784v5M643 751v5M644 773v5M644 795v5M646 773v5M647 756v6M648 806v5M649 695v6M649 767v6M651 850v6M651 894v6M652 756v6M652 767v11M653 778v6M653 811v6M653 850v17M654 789v6M654 806v5M657 833v6M658 778v6M658 817v5M658 828v5M660 695v6M660 905v6M660 916v6M663 883v6M665 762v5M667 795v5M667 839v6M667 872v11M668 751v5M668 878v5M669 900v5M669 916v6M672 867v5M675 723v6M675 856v11M677 767v6M677 806v11M677 822v11M679 718v5M680 723v6M681 789v6M681 806v5M681 828v5M681 861v6M681 883v6M682 745v6M682 762v5M682 811v6M682 833v6M682 845v5M682 867v5M682 894v22M683 778v6M683 789v11M683 856v5M684 707v5M684 756v6M685 795v5M686 833v6M687 695v6M688 811v6M688 889v11M689 789v6M689 800v6M689 900v16M692 695v6M692 707v5M693 795v5M696 701v11M697 806v5M697 828v5M697 850v6M698 795v22M698 833v6M701 833v6M701 922v5M702 800v6M702 811v11M702 850v6M702 867v5M702 889v5M702 927v5M703 905v6M705 883v6M705 900v11M706 889v5M708 889v5M709 872v17M709 922v5M710 878v5M712 922v10M715 800v11M715 856v5M715 867v5M716 795v5M716 822v6M716 878v5M716 905v6M717 894v6M717 911v5M718 872v6M718 911v11M721 800v11M721 817v16M722 734v6M722 745v6M722 773v5M722 789v22M722 850v6M722 867v11M722 927v5M723 723v6M723 745v22M723 778v11M723 800v17M723 861v6M724 734v6M724 751v11M724 811v6M725 701v6M726 712v6M726 740v11M726 911v5M726 927v5M727 740v11M728 762v11M729 800v6M730 762v11M738 800v6M738 833v6M739 845v5M740 856v5M746 734v11M746 778v6M747 751v5M747 762v5M749 905v11M751 729v11M751 767v6M751 795v16M751 861v22M752 712v6M752 845v22M752 889v11M752 905v6M754 883v6M754 905v11M755 723v6M755 734v6M755 751v5M755 773v5M755 784v5M755 867v22M756 718v5M758 734v6M758 773v5M761 861v6M764 734v6M764 745v11M765 718v5M765 767v6M765 872v11M765 922v5M766 784v5M767 729v11M767 745v11M767 839v6"/>
<path stroke="#ffed00" d="M610 756v6M611 712v11M612 740v5M617 751v5M617 800v6M617 900v5M618 900v5M619 894v6M623 883v6M623 927v5M624 789v6M624 822v6M625 795v11M625 817v5M626 800v6M626 900v5M627 828v5M627 850v6M628 856v11M630 894v6M630 927v5M631 911v16M632 745v6M632 911v5M638 695v6M640 894v6M641 734v6M641 905v6M643 762v5M643 773v5M643 784v5M652 784v5M652 872v6M653 789v6M654 723v6M657 800v6M657 817v11M658 789v22M659 789v6M659 916v6M664 767v6M667 822v6M668 734v11M668 911v5M671 883v17M671 911v5M672 883v6M680 745v11M681 695v6M681 718v5M681 778v6M682 723v6M682 878v11M684 695v12M684 767v6M684 789v6M687 811v6M688 762v16M688 789v6M688 911v11M689 762v11M693 778v11M701 916v6M706 900v5M709 900v5M717 900v5M721 833v6M721 845v5M723 828v5M724 712v17M724 778v6M729 762v11M751 845v11M752 701v6M753 927v5M758 751v16M765 707v5"/>
<path stroke="#ffdb00" d="M610 762v5M611 762v5M612 695v6M612 718v5M612 734v6M617 883v6M621 729v5M621 811v6M624 800v6M624 811v6M625 867v5M625 878v5M626 822v6M626 867v5M626 916v6M627 833v6M630 922v5M631 756v6M631 927v5M632 767v6M632 784v11M632 900v5M632 916v6M641 916v6M642 729v5M642 773v5M643 778v6M651 867v5M651 883v6M652 867v5M653 833v12M657 795v5M668 883v6M681 734v6M681 751v5M681 773v5M687 822v6M689 927v5M721 839v6M765 695v12M768 745v11"/>
<path stroke="#cdff00" d="M610 767v6M611 778v6M611 800v6M614 856v11M614 916v6M617 795v5M617 828v5M617 916v6M618 867v5M618 894v6M618 916v6M618 927v5M619 878v5M621 734v6M621 789v6M621 806v5M622 695v23M622 729v5M622 778v6M623 867v5M623 878v5M624 756v6M624 795v5M624 845v5M625 778v6M625 806v11M625 822v6M625 845v5M625 883v6M627 872v6M628 867v5M630 695v12M630 712v6M631 712v11M631 745v6M631 784v5M631 817v5M632 751v5M633 695v6M633 734v6M633 778v6M633 900v5M633 916v6M637 789v6M638 729v11M639 856v5M640 729v5M640 889v5M641 900v5M641 927v5M642 734v6M642 778v6M642 789v6M643 712v11M643 789v6M644 789v6M646 762v5M648 811v11M651 856v5M652 762v5M652 778v6M652 878v5M653 795v16M653 828v5M653 845v5M654 729v5M654 800v6M657 789v6M657 806v11M657 828v5M658 784v5M659 784v5M659 795v5M659 911v5M660 911v5M663 867v5M663 878v5M664 762v5M664 784v5M667 833v6M668 707v11M668 745v6M668 762v5M669 905v6M671 922v5M672 872v6M672 894v17M672 916v6M675 822v6M675 839v17M675 867v11M676 695v6M676 712v6M676 856v5M680 729v5M681 707v5M681 756v11M681 817v5M681 833v12M681 856v5M682 718v5M682 729v5M682 767v6M682 784v27M682 839v6M682 850v6M682 861v6M682 872v6M682 889v5M683 773v5M683 861v17M684 795v11M684 811v6M685 800v11M686 828v5M687 806v5M687 828v5M688 745v6M688 900v5M688 922v5M689 756v6M689 773v5M689 795v5M689 916v6M692 701v6M693 773v5M693 789v6M696 695v6M697 811v17M697 833v17M698 817v5M701 839v6M701 911v5M702 789v11M702 856v11M705 878v5M706 894v6M706 922v10M709 889v5M709 916v6M713 927v5M715 861v6M716 883v11M716 900v5M717 916v11M718 922v5M721 850v11M722 740v5M722 778v11M723 695v28M723 740v5M723 817v5M723 845v16M724 695v6M724 784v5M724 817v11M725 707v16M725 916v6M726 718v5M726 916v11M728 740v5M728 756v6M729 745v6M729 778v11M729 795v5M738 828v5M739 828v5M740 850v6M747 756v6M751 811v6M751 822v11M751 856v5M752 695v6M752 927v5M753 922v5M755 718v5M755 778v6M756 723v6M758 740v5M761 922v10M764 712v11M764 729v5M765 712v6M767 718v11M767 740v5M767 828v11M768 756v6"/>
<path stroke="#6cff04" d="M610 784v5M610 795v5M611 795v5M611 822v6M612 751v11M614 867v5M614 883v6M614 900v16M614 922v5M615 856v5M615 878v16M615 900v5M617 745v6M617 762v5M617 789v6M617 806v5M617 839v6M617 861v6M618 872v6M618 883v6M618 911v5M620 916v11M621 751v22M621 784v5M621 800v6M621 822v6M621 839v6M622 800v6M622 900v5M622 911v5M623 701v6M623 822v6M624 856v11M624 900v5M625 762v5M625 773v5M625 828v5M625 861v6M626 795v5M628 833v6M629 850v22M630 861v11M630 889v5M631 701v6M631 778v6M631 789v6M631 806v11M631 883v6M631 905v6M633 718v5M633 911v5M634 800v6M634 861v6M635 729v5M636 806v11M636 894v6M636 922v5M637 911v11M638 718v11M638 856v5M638 867v5M638 911v5M639 695v12M640 712v11M640 740v5M641 800v6M641 894v6M642 800v6M643 707v5M643 734v6M643 795v5M646 778v6M646 916v6M647 707v5M647 745v11M647 762v5M648 800v6M649 701v6M649 756v6M649 795v5M649 922v5M651 795v11M651 817v11M652 883v6M653 773v5M653 817v11M653 872v6M654 712v6M654 734v6M654 828v11M655 789v11M657 767v6M657 839v6M658 822v6M658 833v6M659 800v6M660 701v6M663 889v5M664 745v17M665 756v6M666 795v27M667 811v6M667 845v11M668 784v16M668 845v11M668 867v11M668 900v11M669 894v6M669 927v5M671 872v6M672 922v5M675 729v5M675 817v5M676 839v6M676 850v6M676 861v6M677 817v5M677 845v11M678 811v11M678 867v5M679 723v6M680 718v5M680 762v5M680 778v6M681 822v6M681 867v5M681 878v5M681 889v5M682 701v6M682 734v11M682 817v5M683 756v17M683 784v5M683 800v6M683 850v6M683 878v5M684 751v5M685 701v11M685 778v17M685 811v6M686 718v5M686 745v6M686 822v6M688 695v6M688 740v5M688 817v5M688 839v6M688 927v5M689 751v5M689 778v11M689 856v11M689 894v6M692 712v11M692 784v11M693 695v6M693 712v11M693 767v6M693 800v6M697 856v22M698 789v6M698 850v11M701 845v5M702 784v5M702 806v5M702 822v6M702 883v6M702 894v17M702 922v5M703 889v16M703 911v16M705 889v11M705 911v5M706 872v11M708 883v6M709 867v5M710 883v6M711 878v16M712 784v22M712 900v11M713 740v11M713 922v5M714 762v5M714 789v6M715 795v5M715 845v5M715 872v6M716 773v11M716 800v6M716 828v17M716 856v11M716 872v6M716 911v5M717 856v5M717 927v5M718 867v5M718 894v6M719 911v16M721 811v6M721 861v6M721 883v11M722 762v11M722 856v11M722 878v5M723 734v6M723 767v11M723 789v11M724 740v11M724 767v6M724 789v6M724 806v5M724 828v5M725 695v6M725 723v6M725 740v22M725 773v5M725 795v5M726 707v5M726 723v17M727 718v11M727 894v6M728 734v6M728 789v6M729 740v5M730 756v6M730 773v5M730 789v17M738 795v5M738 839v17M739 806v5M739 850v11M740 833v6M740 845v5M740 867v11M746 745v6M746 784v5M747 701v17M747 734v17M751 740v27M751 773v5M751 784v11M752 867v5M752 883v6M752 900v5M753 916v6M754 695v6M754 878v5M754 889v5M754 900v5M755 712v6M755 729v5M755 740v11M755 756v6M755 822v6M755 839v11M755 861v6M755 900v5M756 701v17M756 729v5M757 773v11M758 729v5M758 778v17M761 856v5M761 867v5M761 905v17M762 872v11M762 900v11M762 916v16M763 850v6M763 867v5M764 740v5M764 756v6M764 867v11M765 723v17M765 762v5M765 867v5M765 883v17M765 911v11M765 927v5M766 778v6M766 789v6M766 828v11M767 712v6M767 756v6M767 822v6M767 845v11M768 833v6"/>
<path stroke="#14ff14" d="M610 789v6M610 861v11M611 828v5M612 762v5M615 839v6M615 872v6M615 905v6M616 833v6M617 718v5M617 740v5M617 778v6M617 817v5M617 856v5M618 878v5M619 745v6M620 894v6M620 905v6M621 828v5M621 856v5M622 734v6M622 745v6M622 762v5M622 806v11M622 883v6M623 712v11M623 795v11M623 811v6M623 828v5M623 845v5M623 856v5M624 718v5M625 745v6M625 850v6M625 889v5M625 900v5M626 734v11M626 773v5M626 784v11M627 878v5M628 828v5M628 878v5M630 872v6M631 695v6M631 729v5M631 795v5M631 878v5M632 718v5M632 800v6M633 767v6M633 795v5M634 712v6M634 822v6M635 723v6M635 784v5M636 817v5M636 889v5M636 911v11M637 767v6M637 817v5M637 861v11M637 900v5M637 922v5M638 745v6M638 756v6M638 850v6M638 905v6M639 745v6M640 756v6M641 701v6M641 712v6M641 889v5M642 856v5M643 745v6M643 806v11M644 762v5M644 800v11M646 795v5M646 806v11M647 701v6M647 712v6M647 740v5M647 767v6M647 784v5M648 767v6M648 778v11M648 795v5M649 712v6M649 927v5M650 889v11M650 927v5M651 778v6M651 789v6M651 828v5M651 839v6M651 900v5M651 916v6M652 751v5M652 889v5M653 707v5M653 756v6M654 695v12M655 762v5M655 784v5M656 756v6M657 740v11M657 845v5M658 745v11M658 773v5M659 778v6M659 822v11M659 900v11M660 712v6M660 729v11M660 872v6M660 889v5M660 927v5M662 867v5M663 751v5M663 762v5M663 894v6M663 905v11M663 927v5M664 789v17M664 889v11M664 911v5M664 922v5M665 712v6M665 740v11M665 789v17M666 762v11M666 784v5M666 828v5M667 729v5M667 806v5M667 861v6M668 767v6M668 811v11M669 800v6M670 894v6M670 911v5M670 922v5M671 867v5M672 927v5M673 927v5M674 833v12M676 718v5M677 718v11M677 778v6M677 867v5M678 701v6M678 784v5M678 872v6M679 745v6M679 856v11M680 701v6M680 712v6M680 767v6M683 734v6M683 822v6M683 883v6M683 905v6M683 916v6M684 729v22M684 817v5M684 833v6M685 695v6M685 718v5M685 773v5M685 817v5M685 833v6M686 712v6M686 734v6M686 751v5M686 806v16M686 839v6M687 701v6M687 762v11M687 795v5M687 839v6M688 707v5M688 723v6M688 822v11M688 850v6M688 867v16M689 745v6M689 850v6M689 883v6M690 773v5M690 822v11M691 800v17M692 740v5M692 800v6M693 707v5M693 740v5M693 806v5M694 806v16M695 695v12M695 723v6M696 723v6M696 745v6M696 839v6M696 861v6M697 800v6M697 916v6M698 773v16M698 872v6M698 889v11M698 905v6M699 778v6M699 795v11M700 756v6M700 883v6M701 745v6M701 822v6M701 856v11M701 872v6M701 889v16M702 751v11M703 784v5M703 817v5M703 828v5M703 878v5M704 833v12M704 856v11M705 795v11M705 833v6M705 922v5M706 828v5M706 839v11M706 856v5M707 894v11M707 916v11M708 861v6M708 900v11M709 762v5M709 817v5M710 795v5M711 784v22M711 850v11M711 867v11M711 900v5M711 927v5M712 767v17M713 695v6M713 712v11M713 729v11M713 756v11M713 778v17M713 811v11M714 723v6M714 734v22M714 778v6M714 800v6M714 878v5M715 707v16M715 745v6M715 784v5M715 817v11M715 883v6M716 806v5M716 850v6M716 922v10M717 734v6M717 751v11M717 817v11M717 861v6M717 889v5M718 861v6M719 861v22M719 894v11M720 718v5M720 916v6M721 756v6M721 789v6M722 723v11M722 889v11M722 916v6M723 867v5M724 833v12M724 916v6M724 927v5M725 784v5M725 867v11M725 911v5M726 762v11M726 894v11M727 695v6M727 712v6M727 756v11M727 900v5M728 723v6M728 784v5M728 817v5M728 905v6M729 811v6M729 833v6M729 905v6M730 745v6M730 806v5M732 707v5M732 822v11M733 867v5M734 861v6M735 695v6M735 762v5M737 811v11M738 789v6M738 856v5M738 872v6M739 767v6M739 817v5M739 861v6M740 878v5M741 718v5M741 729v5M745 695v23M745 751v5M745 762v5M745 773v5M745 789v6M745 839v6M746 695v17M746 729v5M746 756v17M746 806v5M747 723v6M747 767v6M748 701v6M748 712v28M748 867v11M749 894v6M749 922v10M750 701v6M750 740v5M750 751v11M750 850v11M750 894v6M750 916v6M751 695v6M751 712v11M751 894v6M752 718v5M752 872v11M752 916v6M753 695v6M753 883v11M753 905v11M754 701v6M754 723v6M754 850v11M754 867v11M754 922v5M755 707v5M755 817v5M755 833v6M755 850v6M756 734v6M756 773v5M756 784v5M757 745v6M757 767v6M757 789v28M757 839v17M758 695v17M758 900v11M759 745v6M759 762v11M761 839v11M761 872v6M761 900v5M762 845v11M762 867v5M762 889v11M763 845v5M763 861v6M764 850v11M764 878v5M764 889v16M764 922v5M765 740v5M765 751v11M765 773v5M765 856v5M765 900v5M766 795v16M766 839v6M766 900v11M767 695v6M767 707v5M767 861v6M768 762v5M768 806v5M768 822v6M768 850v6"/>
<path stroke="#40ff0c" d="M610 800v6M611 789v6M614 850v6M614 889v11M617 701v17M617 773v5M617 784v5M617 845v11M617 927v5M618 861v6M619 861v6M620 900v5M620 911v5M620 927v5M621 740v11M621 833v6M621 845v5M621 861v11M622 767v6M622 817v5M622 850v6M623 707v5M623 817v5M623 850v6M623 861v6M624 905v6M625 751v11M625 767v6M625 894v6M626 778v6M627 822v6M628 872v6M628 883v6M629 845v5M630 723v6M631 723v6M631 800v6M631 828v5M631 900v5M632 712v6M632 734v6M632 889v5M633 707v5M633 723v6M633 789v6M633 894v6M634 784v16M634 833v12M636 900v5M637 773v11M638 916v6M639 751v5M640 723v6M640 762v5M640 883v6M641 707v5M641 729v5M643 695v12M643 800v6M644 767v6M645 927v5M646 756v6M646 784v11M646 922v5M648 773v5M649 707v5M649 773v5M649 789v6M649 916v6M651 784v5M651 806v11M651 845v5M651 905v11M653 762v11M653 867v5M653 878v5M654 707v5M654 740v11M654 773v16M654 811v6M655 767v6M657 762v5M657 773v5M657 784v5M659 889v11M660 707v5M660 894v11M660 922v5M663 756v6M663 861v6M664 916v6M665 751v5M665 767v6M666 789v6M666 822v6M667 734v11M667 773v11M667 789v6M667 800v6M667 856v5M667 867v5M667 883v6M667 911v21M668 778v6M668 800v6M668 839v6M668 856v11M669 773v11M669 795v5M669 889v5M669 922v5M670 900v11M670 916v6M672 839v11M672 861v6M673 916v11M675 701v11M675 718v5M675 734v6M675 878v5M676 833v6M676 845v5M677 695v6M677 762v5M677 773v5M677 800v6M677 833v12M678 707v5M678 806v5M678 822v11M678 861v6M679 712v6M679 729v16M679 839v17M680 695v6M680 773v5M681 795v11M681 872v6M681 894v6M682 695v6M682 707v11M682 822v11M682 916v6M683 751v5M683 806v16M683 845v5M683 911v5M684 712v6M684 839v6M685 712v6M685 839v6M686 723v11M686 740v5M687 800v6M687 833v6M687 867v11M688 701v6M688 729v11M688 833v6M688 845v5M688 883v6M689 806v16M689 867v5M689 889v5M692 723v17M692 795v5M693 701v6M693 734v6M693 762v5M694 822v23M696 712v6M696 784v11M697 878v11M698 839v11M698 861v11M698 900v5M700 856v11M701 828v5M701 850v6M701 867v5M701 883v6M701 905v6M701 927v5M702 828v5M702 845v5M702 872v11M702 911v11M703 822v6M703 883v6M703 927v5M705 839v22M705 872v6M705 916v6M706 861v11M706 883v6M708 867v16M708 894v6M709 845v11M710 872v6M711 894v6M712 806v5M712 911v11M713 723v6M713 751v5M713 767v11M714 718v5M714 756v6M714 767v11M714 784v5M714 795v5M715 695v12M715 789v6M715 811v6M715 839v6M715 850v6M715 878v5M716 784v11M716 817v5M716 845v5M716 867v5M716 916v6M717 850v6M718 878v16M719 883v11M719 905v6M719 927v5M721 784v5M721 795v5M721 878v5M721 894v6M722 718v5M722 751v11M722 883v6M722 900v16M722 922v5M723 729v5M724 762v5M724 795v11M725 729v11M725 762v11M725 778v6M725 789v6M725 800v6M726 751v11M726 773v16M726 905v6M727 729v11M727 751v5M727 889v5M728 729v5M728 773v5M728 795v22M729 806v5M729 828v5M729 911v11M730 751v5M730 778v11M733 856v11M733 894v11M739 773v11M739 800v6M739 811v6M739 822v6M740 828v5M740 839v6M740 861v6M741 723v6M745 718v11M745 756v6M745 778v11M746 751v5M746 773v5M746 789v17M747 695v6M747 718v5M747 729v5M748 707v5M748 740v11M749 900v5M749 916v6M750 922v10M751 701v11M751 723v6M751 778v6M751 883v6M751 900v11M752 839v6M752 911v5M752 922v5M754 861v6M754 894v6M754 916v6M754 927v5M755 762v11M755 789v6M755 828v5M755 856v5M756 695v6M756 778v6M757 784v5M758 723v6M758 795v5M759 751v11M761 850v6M761 878v11M762 883v6M762 911v5M763 822v11M763 856v5M763 872v6M763 894v11M764 861v6M764 883v6M764 927v5M765 861v6M765 905v6M766 751v5M766 822v6M766 927v5M767 762v22M767 795v27M767 856v5M768 784v11M768 811v11M768 828v5M768 839v11"/>
<path stroke="#04ff3c" d="M610 806v5M610 817v5M610 839v6M610 883v6M611 833v6M611 850v6M612 767v6M613 867v5M614 845v5M615 712v6M615 729v11M615 745v6M615 927v5M616 745v11M616 800v11M616 828v5M617 729v5M618 729v11M618 762v11M618 778v6M618 800v28M618 850v11M619 701v6M619 718v5M619 734v6M619 767v11M619 845v5M620 718v5M620 734v6M620 745v6M620 778v6M620 828v5M620 845v11M620 878v5M620 889v5M621 878v5M621 894v6M622 845v5M622 861v6M622 878v5M622 922v5M623 723v6M623 740v5M623 767v17M623 839v6M624 707v5M624 872v6M624 911v5M624 927v5M625 729v5M626 718v5M626 751v5M626 767v6M627 729v16M627 817v5M627 883v6M628 822v6M629 833v6M630 817v5M630 878v11M631 839v6M631 850v28M632 729v5M632 806v5M632 822v6M632 839v11M633 817v16M633 850v11M634 701v6M634 729v5M634 756v6M635 695v6M635 712v11M635 740v38M635 811v6M635 822v6M636 718v5M636 845v5M636 883v6M637 734v17M637 762v5M637 822v6M637 839v6M637 850v11M637 872v17M637 927v5M638 773v22M638 817v11M638 894v6M638 927v5M639 762v11M639 811v6M639 828v5M640 773v11M640 789v6M640 861v6M641 695v6M641 718v11M641 878v5M642 833v6M642 850v6M642 867v5M642 889v11M643 822v6M644 740v5M644 817v5M646 718v22M646 745v6M646 817v5M646 872v6M647 695v6M647 718v5M647 729v11M647 773v5M647 795v11M647 811v11M648 707v11M648 745v6M648 762v5M648 845v5M649 718v5M649 745v6M649 911v5M650 861v11M650 905v6M650 922v5M651 734v11M651 773v5M652 900v11M653 718v5M653 889v5M654 756v11M655 734v11M655 839v6M656 734v6M656 745v6M656 773v5M656 822v6M657 751v5M657 861v6M658 740v5M658 756v6M658 767v6M658 845v5M658 861v6M659 701v6M659 745v6M659 839v11M660 740v5M660 756v6M660 773v5M660 817v11M660 878v11M661 712v6M661 729v5M661 740v11M661 867v11M662 861v6M662 889v11M663 773v5M663 784v5M663 850v6M664 734v6M664 878v5M664 927v5M665 723v11M665 806v27M666 695v12M666 745v6M666 756v6M666 850v17M667 695v17M667 894v6M668 828v5M669 707v5M669 718v27M669 811v6M669 878v5M670 767v6M670 784v5M670 872v6M671 861v6M672 833v6M673 872v6M673 894v6M674 695v23M674 729v5M674 822v11M674 845v5M674 856v5M674 872v6M674 894v6M675 745v11M675 806v5M675 883v17M676 723v17M676 784v11M676 806v22M676 878v11M676 900v22M677 707v5M677 872v6M677 927v5M678 695v6M678 712v6M678 773v5M678 800v6M678 839v6M678 850v6M679 701v6M679 767v6M679 828v5M681 900v5M681 916v16M683 723v6M683 889v11M683 927v5M684 822v6M684 850v17M684 872v6M685 729v11M685 745v22M686 701v11M686 789v11M686 845v5M686 867v11M687 707v16M687 740v5M687 778v11M687 850v6M689 718v5M689 729v5M689 839v11M689 878v5M690 762v5M690 784v33M690 839v11M690 856v5M691 773v27M691 927v5M692 745v6M693 751v5M693 817v5M694 800v6M694 850v6M694 883v6M695 707v11M695 800v6M695 817v11M695 833v17M695 856v11M696 773v5M696 850v6M696 878v5M697 784v5M697 795v5M697 905v6M698 767v6M698 878v5M698 916v6M699 751v5M699 811v6M699 833v6M699 845v22M700 740v5M700 767v6M700 833v6M700 845v5M700 872v6M700 905v11M700 922v5M701 756v11M701 784v22M701 817v5M702 762v5M702 778v6M702 839v6M703 740v5M703 773v5M703 795v5M703 839v6M703 856v11M704 795v11M704 811v6M704 828v5M704 845v5M704 911v11M705 767v11M705 806v5M705 822v11M706 740v5M706 773v11M706 811v11M707 867v22M708 856v5M708 916v6M709 745v11M709 778v17M709 806v11M709 822v6M709 839v6M710 762v5M710 784v5M710 828v5M710 850v6M710 861v6M710 894v11M711 751v11M711 767v6M711 778v6M711 811v6M711 845v5M711 911v11M712 817v5M712 872v11M713 795v5M713 806v5M713 900v5M713 911v5M714 707v5M714 806v5M714 833v6M714 861v11M714 883v17M714 905v6M715 762v16M715 894v6M716 695v12M716 723v11M716 767v6M717 745v6M717 767v11M717 806v11M717 883v6M718 712v6M718 723v6M718 756v11M718 784v5M719 701v6M719 712v6M719 729v5M719 845v5M719 856v5M720 712v6M720 845v5M720 883v6M720 922v5M721 916v11M722 695v6M723 872v6M723 916v6M723 927v5M724 850v6M724 867v5M724 889v11M724 905v6M725 828v17M725 856v5M725 883v6M726 795v11M726 872v17M727 707v5M727 773v5M727 784v11M727 927v5M728 701v6M728 712v6M728 833v12M728 916v6M728 927v5M729 723v11M729 872v6M729 894v6M730 740v5M730 817v11M731 789v11M731 806v5M731 822v6M732 701v6M732 800v6M732 833v6M733 872v6M733 911v16M734 773v11M734 795v16M734 856v5M734 872v6M734 900v11M735 712v6M735 740v11M735 756v6M735 773v33M735 817v5M737 795v16M737 828v11M737 845v11M738 762v5M738 778v6M738 861v6M739 789v11M740 822v6M740 911v5M741 734v6M741 861v6M741 889v5M742 718v11M742 734v6M742 751v11M743 723v6M743 745v6M743 756v6M743 773v5M744 795v11M744 822v6M744 839v6M745 729v5M745 740v5M745 795v5M745 806v5M745 817v5M745 828v5M746 718v11M746 811v11M747 773v5M747 784v11M748 850v6M748 861v6M748 878v5M748 894v11M748 916v6M748 927v5M749 718v5M749 729v33M749 773v5M750 707v11M750 778v6M750 795v22M750 833v6M750 900v5M750 911v5M751 911v5M752 723v6M752 734v6M752 767v6M752 800v6M752 811v22M753 701v6M753 751v5M753 867v11M754 707v5M754 718v5M754 756v17M754 845v5M755 701v6M755 800v6M755 905v6M756 740v22M756 767v6M756 789v6M756 833v23M756 867v16M756 900v5M757 701v17M757 762v5M757 817v5M757 856v5M758 806v5M758 833v17M758 867v5M758 878v5M758 911v5M758 927v5M759 734v6M760 828v5M760 839v6M760 850v6M760 889v11M761 778v6M761 833v6M761 894v6M762 712v6M762 734v6M762 817v11M762 839v6M762 856v11M763 795v11M763 811v6M763 833v6M763 878v5M764 784v5M764 839v6M764 905v6M765 778v6M765 789v6M765 800v6M765 833v17M766 695v6M766 811v6M766 845v16M766 867v5M766 878v5M767 872v6"/>
<path stroke="#00ffc0" d="M610 911v5M611 861v6M611 872v6M611 905v6M611 916v11M612 784v11M612 800v6M612 817v11M613 701v11M613 773v5M613 911v5M614 707v11M614 745v6M614 762v5M614 773v11M615 767v6M615 778v6M615 795v5M616 707v5M618 701v6M619 789v11M627 718v5M627 762v5M627 916v6M628 701v22M628 927v5M629 822v6M629 927v5M630 756v11M630 778v11M630 811v6M632 856v5M632 872v6M634 900v5M634 911v5M635 872v6M635 883v11M636 745v11M639 778v11M640 811v6M640 822v6M640 833v6M641 839v6M641 850v6M641 861v6M642 905v6M643 856v5M643 905v6M643 922v5M644 900v5M645 712v6M646 889v11M647 828v5M647 861v6M647 900v5M647 916v11M648 878v11M649 839v17M649 872v11M650 695v17M650 729v16M650 751v16M650 784v5M650 795v5M650 833v6M651 695v6M652 695v12M652 740v5M653 905v17M654 905v6M656 695v6M656 845v5M657 695v12M657 712v11M657 872v11M658 872v6M658 889v5M658 900v5M659 729v11M661 778v6M661 811v11M661 845v5M661 856v5M661 911v11M662 712v17M662 734v6M662 745v11M662 762v5M662 800v6M662 811v6M662 822v6M662 911v5M663 833v6M664 701v6M664 833v6M664 845v22M665 856v5M666 894v6M666 916v16M669 695v6M670 734v6M670 817v5M670 856v5M671 817v16M671 845v5M671 856v5M672 767v17M672 795v5M672 806v5M673 707v5M673 734v6M673 828v5M673 856v5M674 756v6M674 795v5M674 811v6M674 922v10M675 789v11M679 795v16M679 883v17M680 800v33M680 905v11M680 922v10M685 856v11M685 927v5M686 883v6M686 916v6M690 718v5M690 729v5M690 872v6M691 718v5M691 745v6M691 883v11M691 916v6M692 916v11M693 828v5M693 845v5M693 927v5M694 695v6M694 712v6M694 723v6M694 867v11M694 894v6M695 905v11M696 900v11M697 734v6M697 745v6M697 756v6M698 734v6M699 712v6M699 723v11M699 878v11M700 695v6M700 718v5M701 718v5M703 695v12M703 712v6M703 723v6M704 756v6M705 701v6M705 751v5M707 695v6M707 740v5M707 789v11M707 833v6M708 701v6M708 718v5M708 751v5M708 773v5M710 695v6M710 718v11M710 916v6M711 723v22M712 695v6M712 707v22M712 734v6M712 828v5M712 839v6M713 867v11M716 756v6M718 817v5M718 833v6M719 778v6M719 806v5M719 817v5M720 795v5M721 723v6M723 900v5M726 811v11M726 828v5M726 845v5M727 833v6M730 723v6M730 833v17M730 856v5M731 712v6M731 773v11M732 778v11M732 922v5M733 756v6M733 773v5M733 800v6M733 811v11M733 833v6M734 740v5M734 922v10M735 723v6M735 856v11M736 695v6M736 778v6M736 800v11M736 833v6M736 861v17M737 773v11M737 878v5M737 894v11M738 734v6M738 889v5M738 900v11M739 707v16M739 740v5M739 756v6M739 889v16M739 922v5M740 751v5M740 762v5M740 784v5M740 922v10M741 822v6M742 778v22M742 822v6M742 900v5M743 701v11M743 784v5M743 828v5M743 856v11M744 718v5M744 729v5M744 878v11M745 922v5M746 833v6M746 872v6M746 911v5M746 922v5M747 856v5M747 889v22M747 916v6M749 784v27M749 817v16M749 845v5M753 723v6M753 784v11M753 828v5M753 850v6M754 795v16M754 817v11M757 927v5M759 806v5M759 822v6M759 833v6M759 856v5M759 867v44M759 927v5M760 723v11M760 911v5M761 729v5M761 751v16M761 795v5M761 822v6M762 784v5M762 795v5M763 718v5M764 800v11M765 817v11M767 878v5"/>
<path stroke="#ffb700" d="M611 695v6M611 729v11M612 729v5M616 845v11M616 905v6M623 922v5M625 872v6M626 828v5M631 767v6M632 778v6M633 751v5M639 900v5M640 900v11M641 778v6M642 701v6M652 806v5M684 778v6M722 833v12M768 707v5M768 718v5"/>
<path stroke="#ff9600" d="M611 701v6M611 740v11M612 707v5M616 900v5M621 701v6M626 833v6M639 872v6M639 889v5M639 922v10M640 911v5M641 773v5M641 784v5M642 756v11M651 872v6M652 817v5M652 833v6M652 856v5M668 927v5M681 745v6M768 695v6"/>
<path stroke="#ffc900" d="M611 707v5M611 723v6M612 701v6M612 723v6M616 856v5M617 889v11M619 900v5M623 889v16M624 784v5M624 806v5M626 806v16M626 856v5M626 872v6M627 839v11M630 911v11M632 905v6M632 922v10M633 745v6M633 756v6M633 922v5M639 861v6M641 740v5M641 911v5M642 707v5M642 745v6M664 773v11M668 695v6M668 889v5M668 916v11M684 773v5M684 784v5M687 817v5M722 817v16M768 712v6M768 740v5"/>
<path stroke="#ffa500" d="M611 751v11M612 712v6M616 861v6M616 927v5M619 905v17M621 723v6M623 905v17M626 839v17M630 900v11M631 762v5M632 773v5M633 927v5M639 867v5M639 894v6M639 905v6M641 745v6M641 795v5M642 712v17M642 751v5M642 767v6M651 878v5M652 789v6M652 800v6M652 811v6M652 850v6M652 861v6M768 701v6M768 723v17"/>
<path stroke="#00ffea" d="M611 867v5M611 878v5M612 795v5M612 828v11M612 861v6M613 712v6M613 850v6M613 900v11M614 718v11M614 740v5M614 767v6M614 784v5M614 811v6M615 784v11M619 828v5M621 927v5M627 756v6M627 767v6M627 778v6M628 806v5M628 922v5M629 707v11M629 729v5M629 817v5M629 916v11M630 789v6M632 861v11M634 905v6M635 878v5M640 806v5M640 828v5M641 856v5M642 911v5M643 861v6M643 889v16M643 911v11M644 845v5M644 894v6M645 707v5M645 734v28M647 833v12M647 856v5M647 867v16M649 828v11M650 778v6M655 718v5M655 894v6M656 701v6M656 718v5M656 867v11M657 707v5M657 883v6M658 927v5M661 789v11M661 822v11M661 850v6M662 707v5M662 740v5M662 756v6M662 778v22M662 817v5M664 723v6M665 861v6M666 911v5M669 828v5M669 856v5M670 811v6M670 828v5M670 850v6M671 745v6M671 762v27M672 745v22M672 800v6M673 701v6M673 740v5M673 800v11M674 778v6M674 789v6M674 800v6M680 845v5M685 867v16M686 911v5M686 922v5M687 889v11M689 695v12M690 734v6M690 867v5M691 734v11M691 856v5M691 894v6M691 911v5M692 828v5M692 889v16M693 833v6M693 922v5M694 745v6M694 911v11M697 695v12M697 723v11M697 740v5M698 740v11M699 695v17M700 701v6M700 712v6M701 701v6M702 723v6M702 734v6M703 718v5M704 762v11M705 695v6M707 800v17M708 707v11M708 762v11M709 701v6M709 712v6M711 718v5M712 729v5M712 833v6M713 850v6M713 861v6M713 878v11M718 822v11M719 767v11M719 784v11M720 745v11M720 789v6M721 701v6M721 718v5M723 889v11M726 833v12M729 695v6M729 707v5M730 701v11M730 718v5M730 911v11M730 927v5M731 695v6M731 856v5M731 872v11M732 900v5M732 916v6M733 745v6M733 762v11M733 789v11M734 734v6M734 745v6M735 867v5M735 889v11M735 916v6M736 701v6M736 756v11M736 773v5M736 878v5M737 767v6M737 784v5M737 883v11M737 905v6M738 729v5M738 894v6M738 911v21M739 701v6M739 745v11M739 905v6M739 927v5M740 756v6M740 789v6M741 756v6M741 817v5M742 800v22M742 905v6M743 695v6M743 867v5M744 712v6M744 734v6M744 767v6M744 861v6M744 872v6M745 905v6M746 867v5M746 894v17M746 916v6M747 861v6M747 911v5M747 922v10M748 817v11M753 811v6M754 811v6M754 828v11M759 701v6M759 712v6M759 817v5M759 861v6M760 718v5M760 806v5M760 916v6M761 695v6M762 789v6M763 712v6M764 811v11M767 883v6M767 900v5"/>
<path stroke="#00f0ff" d="M611 883v6M611 900v5M612 839v6M612 867v5M613 718v11M613 778v6M613 795v16M613 822v6M613 833v17M614 729v11M616 701v6M618 695v6M627 773v5M628 723v6M628 916v6M629 695v12M629 718v11M629 734v6M630 806v5M635 894v6M640 800v6M642 916v6M642 927v5M643 867v5M643 878v11M644 856v5M644 878v16M645 695v12M645 718v5M645 729v5M647 845v11M650 767v11M650 800v33M654 911v11M656 707v5M656 878v5M658 878v11M661 784v5M661 800v11M662 695v12M662 916v6M664 695v6M664 718v5M666 900v11M669 839v6M669 861v11M670 729v5M670 839v11M671 695v6M671 729v5M671 751v11M671 789v17M671 811v6M671 850v6M672 740v5M673 695v6M673 745v6M673 762v11M673 795v5M673 811v6M673 822v6M674 784v5M674 806v5M678 740v11M680 833v6M685 883v6M686 889v5M686 905v6M686 927v5M690 712v6M691 723v11M691 878v5M691 900v11M692 872v17M693 839v6M693 867v5M693 905v17M694 718v5M694 740v5M698 729v5M700 707v5M702 729v5M708 756v6M709 707v5M711 707v11M713 856v5M719 795v11M721 695v6M729 701v6M730 712v6M730 861v6M730 872v17M730 922v5M731 751v11M731 861v11M731 883v6M732 905v11M734 712v6M735 872v6M735 883v6M735 900v5M735 911v5M735 922v5M736 767v6M736 883v6M737 916v6M738 695v34M739 695v6M743 789v6M743 822v6M743 833v6M743 850v6M743 872v6M744 867v5M744 900v5M744 927v5M745 916v6M746 839v11M746 878v5M753 729v11M753 822v6M759 707v5M759 811v6M760 695v6M760 712v6M760 751v5M760 762v11M767 905v17"/>
<path stroke="#00d2ff" d="M611 889v5M612 845v5M612 856v5M612 872v6M613 784v11M613 811v11M613 828v5M614 789v6M614 806v5M616 695v6M628 740v16M629 811v6M630 795v11M635 900v11M635 922v10M642 922v5M643 872v6M644 850v6M644 861v6M644 872v6M645 723v6M654 922v10M655 701v17M655 900v5M656 712v6M657 889v5M658 905v6M658 916v11M662 922v10M669 833v6M670 718v11M670 833v6M671 701v6M671 806v5M672 729v11M673 751v11M673 773v5M674 762v5M674 773v5M680 839v6M685 889v16M685 922v5M686 894v11M690 707v5M691 861v6M692 845v16M692 867v5M693 878v27M694 900v11M694 922v5M698 712v6M701 695v6M702 718v5M711 695v12M730 695v6M730 867v5M730 889v11M730 905v6M731 911v5M734 701v11M734 718v5M734 729v5M735 878v5M735 905v6M735 927v5M736 707v5M736 723v17M736 751v5M736 889v5M736 922v10M737 762v5M737 911v5M741 762v5M741 811v6M743 795v11M743 817v5M743 845v5M744 922v5M745 911v5M746 850v6M746 889v5M753 817v5M760 701v11M760 756v6M760 789v17M767 922v10M768 878v5"/>
<path stroke="#00b4ff" d="M611 894v6M612 850v6M612 878v5M612 900v5M614 795v11M628 729v11M628 756v6M628 800v6M629 740v5M629 806v5M635 911v11M644 867v5M647 883v6M647 894v6M655 695v6M655 916v11M656 883v6M657 894v11M658 911v5M665 867v5M665 900v22M671 707v16M673 778v17M673 817v5M674 767v6M685 905v11M690 695v12M691 867v11M692 833v12M692 861v6M693 872v6M694 927v5M698 718v5M730 900v5M731 889v5M731 905v6M731 916v6M733 740v5M734 723v6M736 712v11M736 740v11M736 894v11M736 916v6M737 756v6M741 806v5M743 806v11M743 839v6M743 878v5M744 905v17M746 856v11M746 883v6M760 773v5M760 784v5"/>
<path stroke="#ffff00" d="M612 745v6M616 839v6M617 756v6M617 878v5M618 922v5M619 867v11M619 883v11M621 773v11M621 795v5M621 817v5M622 723v6M622 784v5M623 872v6M624 751v5M624 778v6M624 817v5M624 828v5M625 784v11M625 833v12M626 861v6M626 878v5M626 894v6M626 911v5M628 850v6M631 740v5M631 751v5M631 773v5M632 740v5M633 740v5M634 850v11M637 795v11M638 701v6M639 712v6M640 734v6M641 922v5M642 740v5M642 795v5M643 723v11M643 756v6M643 767v6M644 778v11M646 767v6M649 762v5M651 861v6M651 889v5M653 784v5M654 718v5M654 795v5M658 811v6M659 922v10M663 872v6M667 817v5M667 828v5M668 701v6M668 718v16M668 756v6M668 894v6M669 911v5M671 878v5M671 900v11M671 916v6M671 927v5M672 878v5M672 889v5M672 911v5M675 828v11M676 701v11M680 734v11M680 756v6M681 701v6M681 712v6M681 723v11M681 767v6M681 784v5M681 811v6M681 845v11M682 751v11M682 773v11M682 856v5M684 762v5M684 806v5M688 751v11M688 778v11M688 795v16M688 905v6M689 922v5M698 822v11M706 905v17M709 894v6M709 905v11M709 927v5M716 894v6M717 905v6M718 900v11M718 927v5M722 811v6M722 845v5M723 822v6M723 833v12M724 701v11M724 729v5M724 773v5M725 922v10M728 745v11M729 751v11M729 773v5M729 789v6M738 806v22M739 833v12M751 817v5M751 833v12M752 707v5M755 889v11M758 745v6M758 767v6M764 695v17M764 723v6"/>
<path stroke="#00a2ff" d="M612 883v6M612 894v6M612 905v6M612 927v5M628 762v5M629 745v11M629 778v11M655 905v11M655 927v5M657 905v6M665 894v6M665 922v5M670 695v12M670 712v6M671 723v6M672 723v6M685 916v6M698 707v5M698 723v6M731 900v5M734 695v6M736 905v11M737 695v6M737 751v5M741 767v6M741 789v17M743 883v6M760 778v6M768 883v6"/>
<path stroke="#0090ff" d="M612 889v5M612 911v5M612 922v5M629 773v5M629 800v6M647 889v5M656 889v5M656 905v11M665 872v11M665 927v5M670 707v5M672 695v12M702 707v11M731 894v6M731 922v10M733 695v6M733 734v6M737 701v6M741 773v16M743 889v16M743 922v10"/>
<path stroke="#007eff" d="M612 916v6M628 767v6M628 784v16M629 756v6M629 789v6M656 894v11M656 916v6M657 911v11M665 889v5M672 718v5M698 701v6M702 701v6M733 723v11M737 718v33M743 905v6M743 916v6M768 889v5M768 905v11"/>
<path stroke="#ff8700" d="M616 867v5M616 911v5M616 922v5M621 707v5M621 718v5M639 878v5M639 911v11M641 751v5M641 762v11M641 789v6M642 695v6M652 795v5M652 822v11M652 839v11M681 740v5"/>
<path stroke="#ff7800" d="M616 872v6M616 916v6M621 695v6M621 712v6M639 883v6M641 756v6"/>
<path stroke="#ff5a00" d="M616 878v5M640 922v10"/>
<path stroke="#ff4800" d="M616 883v17"/>
<path stroke="#ff6900" d="M619 922v5M640 916v6"/>
<path stroke="#ff3600" d="M619 927v5"/>
<path stroke="#006cff" d="M628 773v11M629 795v5M657 922v5M665 883v6M672 707v11M698 695v6M733 701v6M733 718v5M737 707v11M743 911v5M768 916v6"/>
<path stroke="#0048ff" d="M629 762v5M656 922v5"/>
<path stroke="#005aff" d="M629 767v6M657 927v5M702 695v6M733 707v11M768 894v11"/>
<path stroke="#0024ff" d="M656 927v5"/>
<path stroke="#0036ff" d="M768 922v5"/>
<path stroke="#0012ff" d="M768 927v5"/>
</g>
<path d="M610 21.5h159M610 27.5h159M610 32.5h159M610 38.5h159M610 43.5h159M610 49.5h159M610 54.5h159M610 60.5h159M610 65.5h159M610 71.5h159M610 76.5h159M610 82.5h159M610 87.5h159M610 93.5h159M610 98.5h159M610 104.5h159M610 109.5h159M610 115.5h159M610 120.5h159M610 126.5h159M610 131.5h159M610 137.5h159M610 142.5h159M610 148.5h159M610 154.5h159M610 159.5h159M610 165.5h159M610 170.5h159M610 176.5h159M610 181.5h159M610 187.5h159M610 192.5h159M610 198.5h159M610 203.5h159M610 209.5h159M610 214.5h159M610 220.5h159M610 225.5h159M610 231.5h159M610 236.5h159M610 242.5h159M610 247.5h159" stroke="#fff" stroke-opacity="0.13" fill="none"/>
<path d="M610 700.5h159M610 706.5h159M610 711.5h159M610 717.5h159M610 722.5h159M610 728.5h159M610 733.5h159M610 739.5h159M610 744.5h159M610 750.5h159M610 755.5h159M610 761.5h159M610 766.5h159M610 772.5h159M610 777.5h159M610 783.5h159M610 788.5h159M610 794.5h159M610 799.5h159M610 805.5h159M610 810.5h159M610 816.5h159M610 821.5h159M610 827.5h159M610 833.5h159M610 838.5h159M610 844.5h159M610 849.5h159M610 855.5h159M610 860.5h159M610 866.5h159M610 871.5h159M610 877.5h159M610 882.5h159M610 888.5h159M610 893.5h159M610 899.5h159M610 904.5h159M610 910.5h159M610 915.5h159M610 921.5h159M610 926.5h159" stroke="#fff" stroke-opacity="0.09" fill="none"/>
<path d="M610 321.5h159M610 327.5h159M610 332.5h159M610 338.5h159M610 343.5h159M610 349.5h159M610 354.5h159M610 360.5h159M610 365.5h159M610 371.5h159M610 376.5h159M610 382.5h159M610 387.5h159M610 393.5h159M610 398.5h159M610 404.5h159M610 409.5h159M610 415.5h159M610 420.5h159M610 426.5h159M610 431.5h159M610 437.5h159M610 442.5h159M610 448.5h159M610 454.5h159M610 459.5h159M610 465.5h159M610 470.5h159M610 476.5h159M610 481.5h159M610 487.5h159M610 492.5h159M610 498.5h159M610 503.5h159M610 509.5h159M610 514.5h159M610 520.5h159M610 525.5h159M610 531.5h159M610 536.5h159M610 542.5h159M610 547.5h159" stroke="#fff" stroke-opacity="0.06" fill="none"/>
<path d="M610 1674V1756M611 1674V1752M612 1674V1759M613 1674V1742M614 1674V1760M615 1674V1758M616 1674V1753M617 1674V1744M618 1674V1740M619 1674V1745M620 1674V1777M621 1674V1758M622 1674V1760M623 1674V1755M624 1674V1743M625 1674V1727M626 1674V1770M627 1674V1758M628 1674V1758M629 1674V1747M630 1674V1736M631 1674V1752M632 1674V1737M633 1674V1760M634 1674V1750M635 1674V1755M636 1674V1764M637 1674V1747M638 1674V1733M639 1674V1756M640 1674V1746M641 1674V1739M642 1674V1727M643 1674V1753M644 1674V1728M645 1674V1756M646 1674V1727M647 1674V1744M648 1674V1753M649 1674V1743M650 1674V1736M651 1674V1766M652 1674V1754M653 1674V1741M654 1674V1743M655 1674V1745M656 1674V1749M657 1674V1743M658 1674V1753M659 1674V1742M660 1674V1752M661 1674V1760M662 1674V1730M663 1674V1754M664 1674V1749M665 1674V1745M666 1674V1751M667 1674V1739M668 1674V1757M669 1674V1745M670 1674V1758M671 1674V1763M672 1674V1753M673 1674V1752M674 1674V1751M675 1674V1751M676 1674V1731M677 1674V1746M678 1674V1762M679 1674V1755M680 1674V1751M681 1674V1743M682 1674V1727M683 1674V1740M684 1674V1752M685 1674V1735M686 1674V1756M687 1674V1750M688 1674V1764M689 1674V1759M690 1674V1750M691 1674V1758M692 1674V1749M693 1674V1756M694 1674V1745M695 1674V1745M696 1674V1746M697 1674V1741M698 1674V1759M699 1674V1758M700 1674V1756M701 1674V1748M702 1674V1758M703 1674V1753M704 1674V1758M705 1674V1753M706 1674V1734M707 1674V1782M708 1674V1734M709 1674V1761M710 1674V1754M711 1674V1779M712 1674V1758M713 1674V1740M714 1674V1740M715 1674V1764M716 1674V1766M717 1674V1746M718 1674V1758M719 1674V1748M720 1674V1775M721 1674V1760M722 1674V1781M723 1674V1774M724 1674V1755M725 1674V1757M726 1674V1767M727 1674V1768M728 1674V1765M729 1674V1762M730 1674V1766M731 1674V1763M732 1674V1769M733 1674V1764M734 1674V1752M735 1674V1772M736 1674V1781M737 1674V1755M738 1674V1765M739 1674V1777M740 1674V1782M741 1674V1777M742 1674V1771M743 1674V1763M744 1674V1775M745 1674V1775M746 1674V1780M747 1674V1788M748 1674V1774M749 1674V1779M750 1674V1744M751 1674V1774M752 1674V1787M753 1674V1781M754 1674V1790M755 1674V1766M756 1674V1796M757 1674V1763M758 1674V1775M759 1674V1770M760 1674V1772M761 1674V1782M762 1674V1790M763 1674V1783M764 1674V1787M765 1674V1781M766 1674V1787M767 1674V1795M768 1674V1789" stroke="#939393" fill="none" shape-rendering="crispEdges" transform="translate(0.5 0)"/>
<path d="M611 1760v14M616 1761v8M618 1758v14M622 1753v10M625 1752v8M629 1756v6M630 1752v15M631 1751v15M632 1755v3M634 1748v12M641 1750v8M642 1748v3M643 1746v10M651 1746v12M652 1752v9M653 1751v8M654 1748v6M655 1752v5M659 1748v5M660 1748v3M661 1749v9M663 1749v4M664 1749v9M667 1748v3M669 1754v4M670 1754v10M673 1750v10M680 1755v6M681 1751v3M685 1754v5M690 1757v4M692 1757v10M693 1755v12M696 1756v14M698 1761v14M699 1756v12M700 1762v7M703 1762v7M704 1756v8M706 1763v6M708 1759v5M710 1761v14M713 1765v9M718 1767v12M720 1764v14M721 1768v10M722 1765v3M725 1766v12M726 1768v13M728 1772v12M730 1771v8M731 1768v3M732 1769v11M736 1772v4M738 1771v4M739 1777v6M741 1774v9M742 1776v10M744 1780v10M746 1781v6M752 1782v10M756 1784v4M759 1785v11M760 1783v3M762 1784v8M764 1791v5M766 1790v7M767 1790v10" stroke="#d6d6d6" fill="none" shape-rendering="crispEdges" transform="translate(0.5 0)"/>
<path d="M623 1675V1748M645 1675V1741M663 1675V1744M667 1675V1744M683 1675V1746M689 1675V1748M712 1675V1754M723 1675V1758M734 1675V1764M741 1675V1768M756 1675V1775" stroke="#aaaaaa" stroke-dasharray="3 2" fill="none" shape-rendering="crispEdges" transform="translate(0.5 0)"/>
<path d="M610 1676.5h159M610 1680.5h159M610 1684.5h159M610 1688.5h159M610 1692.5h159M610 1696.5h159M610 1700.5h159M610 1704.5h159M610 1708.5h159M610 1712.5h159M610 1716.5h159M610 1720.5h159M610 1724.5h159M610 1728.5h159M610 1732.5h159M610 1736.5h159M610 1740.5h159M610 1744.5h159" stroke="#888" stroke-opacity="0.35" fill="none"/>
<path d="M610 1910V1913M611 1910V1913M612 1910V1913M613 1910V1913M614 1910V1913M615 1910V1913M616 1910V1913M617 1910V1913M618 1910V1913M619 1910V1913M620 1910V1913M621 1910V1913M622 1910V1913M623 1910V1913M624 1910V1913M625 1910V1913M626 1910V1913M627 1910V1913M628 1910V1913M629 1910V1913M630 1910V1913M631 1910V1913M632 1910V1913M633 1910V1913M634 1910V1913M635 1910V1913M636 1910V1913M637 1910V1913M638 1910V1913M639 1910V1913M640 1910V1913M641 1910V1913M642 1910V1913M643 1910V1913M644 1910V1913M645 1910V1913M646 1910V1913M647 1910V1913M648 1910V1913M649 1910V1913M650 1910V1913M651 1910V1913M652 1910V1913M653 1910V1913M654 1910V1913M655 1910V1913M656 1910V1913M657 1910V1913M658 1910V1913M659 1910V1913M660 1910V1913M661 1910V1913M662 1910V1913M663 1910V1913M664 1910V1913M665 1910V1913M666 1910V1913M667 1910V1913M668 1910V1913M669 1910V1913M670 1910V1913M671 1910V1913M672 1910V1913M673 1910V1913M674 1910V1913M675 1910V1913M676 1910V1913M677 1910V1913M678 1910V1913M679 1910V1913M680 1910V1913M681 1910V1913M682 1910V1913M683 1910V1913M684 1910V1913M685 1910V1913M686 1910V1913M687 1910V1913M688 1910V1913M689 1910V1913M690 1910V1913M691 1910V1913M692 1910V1913M693 1910V1913M694 1910V1913M695 1910V1913M696 1910V1913M697 1910V1913M698 1910V1913M699 1910V1913M700 1910V1913M701 1905V1913M702 1906V1913M703 1910V1913M704 1906V1913M705 1906V1913M706 1906V1913M707 1910V1913M708 1910V1913M709 1906V1913M710 1903V1913M711 1899V1913M712 1902V1913M713 1900V1913M714 1901V1913M715 1900V1913M716 1899V1913M717 1901V1913M718 1899V1913M719 1903V1913M720 1902V1913M721 1900V1913M722 1901V1913M723 1901V1913M724 1903V1913M725 1899V1913M726 1900V1913M727 1900V1913M728 1902V1913M729 1902V1913M730 1900V1913M731 1899V1913M732 1901V1913M733 1900V1913M734 1899V1913M735 1901V1913M736 1900V1913M737 1900V1913M738 1900V1913M739 1901V1913M740 1900V1913M741 1900V1913M742 1903V1913M743 1900V1913M744 1910V1913M745 1910V1913M746 1903V1913M747 1903V1913M748 1905V1913M749 1905V1913M750 1904V1913M751 1905V1913M752 1904V1913M753 1904V1913M754 1903V1913M755 1902V1913M756 1904V1913M757 1904V1913M758 1910V1913M759 1910V1913M760 1910V1913M761 1907V1913M762 1907V1913M763 1910V1913M764 1905V1913M765 1910V1913M766 1910V1913M767 1910V1913M768 1910V1913" stroke="#939393" fill="none" shape-rendering="crispEdges" transform="translate(0.5 0)"/>
<g shape-rendering="crispEdges" transform="translate(0.5 0)" stroke-width="1" fill="none">
<path stroke="#0000ff" d="M78 609v15M79 609v15M80 609v15M81 609v15M82 609v15M83 609v15M84 609v15M85 609v15M86 609v15M87 609v15M88 609v15"/>
<path stroke="#0000fe" d="M89 609v15M90 609v15M91 609v15M92 609v15M93 609v15M94 609v15M95 609v15M96 609v15M97 609v15M98 609v15M99 609v15M100 609v15M101 609v15M102 609v15M103 609v15M104 609v15M105 609v15M106 609v15M107 609v15M108 609v15M109 609v15M110 609v15M111 609v15"/>
<path stroke="#0000fd" d="M112 609v15M113 609v15M114 609v15M115 609v15M116 609v15M117 609v15M118 609v15M119 609v15M120 609v15M121 609v15M122 609v15M123 609v15M124 609v15M125 609v15M126 609v15M127 609v15M128 609v15M129 609v15M130 609v15M131 609v15M132 609v15M133 609v15"/>
<path stroke="#0000fc" d="M134 609v15M135 609v15M136 609v15M137 609v15M138 609v15M139 609v15M140 609v15M141 609v15M142 609v15M143 609v15M144 609v15M145 609v15"/>
<path stroke="#0001fb" d="M146 609v15"/>
<path stroke="#0002f9" d="M147 609v15"/>
<path stroke="#0002f8" d="M148 609v15"/>
<path stroke="#0003f7" d="M149 609v15"/>
<path stroke="#0004f6" d="M150 609v15"/>
<path stroke="#0004f4" d="M151 609v15"/>
<path stroke="#0005f3" d="M152 609v15"/>
<path stroke="#0006f2" d="M153 609v15"/>
<path stroke="#0007f1" d="M154 609v15"/>
<path stroke="#0007f0" d="M155 609v15"/>
<path stroke="#0008ee" d="M156 609v15"/>
<path stroke="#0009ed" d="M157 609v15"/>
<path stroke="#0009ec" d="M158 609v15"/>
<path stroke="#000aeb" d="M159 609v15"/>
<path stroke="#000ce9" d="M160 609v15"/>
<path stroke="#000ee8" d="M161 609v15"/>
<path stroke="#000fe6" d="M162 609v15"/>
<path stroke="#0011e5" d="M163 609v15"/>
<path stroke="#0012e3" d="M164 609v15"/>
<path stroke="#0014e2" d="M165 609v15"/>
<path stroke="#0015e1" d="M166 609v15"/>
<path stroke="#0017df" d="M167 609v15"/>
<path stroke="#0018de" d="M168 609v15"/>
<path stroke="#001adc" d="M169 609v15"/>
<path stroke="#001bdb" d="M170 609v15"/>
<path stroke="#001dda" d="M171 609v15"/>
<path stroke="#001ed8" d="M172 609v15"/>
<path stroke="#0020d7" d="M173 609v15"/>
<path stroke="#0022d5" d="M174 609v15"/>
<path stroke="#0023d4" d="M175 609v15"/>
<path stroke="#0024d3" d="M176 609v15"/>
<path stroke="#0026d2" d="M177 609v15"/>
<path stroke="#0027d1" d="M178 609v15"/>
<path stroke="#0028d0" d="M179 609v15"/>
<path stroke="#002acf" d="M180 609v15"/>
<path stroke="#002bcd" d="M181 609v15"/>
<path stroke="#002dcc" d="M182 609v15"/>
<path stroke="#002ecb" d="M183 609v15"/>
<path stroke="#002fca" d="M184 609v15"/>
<path stroke="#0031c9" d="M185 609v15"/>
<path stroke="#0032c8" d="M186 609v15"/>
<path stroke="#0033c7" d="M187 609v15"/>
<path stroke="#0035c6" d="M188 609v15"/>
<path stroke="#0036c5" d="M189 609v15"/>
<path stroke="#0037c4" d="M190 609v15"/>
<path stroke="#0039c3" d="M191 609v15"/>
<path stroke="#003ac2" d="M192 609v15"/>
<path stroke="#003bc1" d="M193 609v15"/>
<path stroke="#003dbf" d="M194 609v15"/>
<path stroke="#003ebe" d="M195 609v15"/>
<path stroke="#013fbd" d="M196 609v15"/>
<path stroke="#0141bb" d="M197 609v15"/>
<path stroke="#0142ba" d="M198 609v15"/>
<path stroke="#0143b9" d="M199 609v15"/>
<path stroke="#0245b8" d="M200 609v15"/>
<path stroke="#0246b6" d="M201 609v15"/>
<path stroke="#0247b5" d="M202 609v15"/>
<path stroke="#0349b4" d="M203 609v15"/>
<path stroke="#034ab2" d="M204 609v15"/>
<path stroke="#034bb1" d="M205 609v15"/>
<path stroke="#034db0" d="M206 609v15"/>
<path stroke="#044eaf" d="M207 609v15"/>
<path stroke="#0450ad" d="M208 609v15"/>
<path stroke="#0451ac" d="M209 609v15"/>
<path stroke="#0452ab" d="M210 609v15"/>
<path stroke="#0554a9" d="M211 609v15"/>
<path stroke="#0555a8" d="M212 609v15"/>
<path stroke="#0557a6" d="M213 609v15"/>
<path stroke="#0659a5" d="M214 609v15"/>
<path stroke="#065aa3" d="M215 609v15"/>
<path stroke="#065ca1" d="M216 609v15"/>
<path stroke="#075e9f" d="M217 609v15"/>
<path stroke="#07609e" d="M218 609v15"/>
<path stroke="#07629c" d="M219 609v15"/>
<path stroke="#07649a" d="M220 609v15"/>
<path stroke="#086699" d="M221 609v15"/>
<path stroke="#086797" d="M222 609v15"/>
<path stroke="#086995" d="M223 609v15"/>
<path stroke="#096b93" d="M224 609v15"/>
<path stroke="#096d92" d="M225 609v15"/>
<path stroke="#096f90" d="M226 609v15"/>
<path stroke="#0a718e" d="M227 609v15"/>
<path stroke="#0a728d" d="M228 609v15"/>
<path stroke="#0a748b" d="M229 609v15"/>
<path stroke="#0b758a" d="M230 609v15"/>
<path stroke="#0b7689" d="M231 609v15"/>
<path stroke="#0c7787" d="M232 609v15"/>
<path stroke="#0c7886" d="M233 609v15"/>
<path stroke="#0c7985" d="M234 609v15"/>
<path stroke="#0d7a83" d="M235 609v15"/>
<path stroke="#0d7b82" d="M236 609v15"/>
<path stroke="#0e7c81" d="M237 609v15"/>
<path stroke="#0e7d7f" d="M238 609v15"/>
<path stroke="#0f7f7e" d="M239 609v15"/>
<path stroke="#0f807d" d="M240 609v15"/>
<path stroke="#0f817c" d="M241 609v15"/>
<path stroke="#10827a" d="M242 609v15"/>
<path stroke="#108379" d="M243 609v15"/>
<path stroke="#118478" d="M244 609v15"/>
<path stroke="#118576" d="M245 609v15"/>
<path stroke="#128675" d="M246 609v15"/>
<path stroke="#128774" d="M247 609v15"/>
<path stroke="#128873" d="M248 609v15"/>
<path stroke="#138971" d="M249 609v15"/>
<path stroke="#138a70" d="M250 609v15"/>
<path stroke="#148b6f" d="M251 609v15"/>
<path stroke="#148d6d" d="M252 609v15"/>
<path stroke="#148e6c" d="M253 609v15"/>
<path stroke="#158f6a" d="M254 609v15"/>
<path stroke="#159069" d="M255 609v15"/>
<path stroke="#159167" d="M256 609v15"/>
<path stroke="#159366" d="M257 609v15"/>
<path stroke="#159464" d="M258 609v15"/>
<path stroke="#169563" d="M259 609v15"/>
<path stroke="#169661" d="M260 609v15"/>
<path stroke="#169760" d="M261 609v15"/>
<path stroke="#16995e" d="M262 609v15"/>
<path stroke="#169a5d" d="M263 609v15"/>
<path stroke="#179b5b" d="M264 609v15"/>
<path stroke="#179c5a" d="M265 609v15"/>
<path stroke="#179e58" d="M266 609v15"/>
<path stroke="#179f57" d="M267 609v15"/>
<path stroke="#18a055" d="M268 609v15"/>
<path stroke="#18a154" d="M269 609v15"/>
<path stroke="#18a252" d="M270 609v15"/>
<path stroke="#18a451" d="M271 609v15"/>
<path stroke="#18a54f" d="M272 609v15"/>
<path stroke="#19a64e" d="M273 609v15"/>
<path stroke="#19a74c" d="M274 609v15"/>
<path stroke="#19a84b" d="M275 609v15"/>
<path stroke="#19aa49" d="M276 609v15"/>
<path stroke="#1aac47" d="M277 609v15"/>
<path stroke="#1aad46" d="M278 609v15"/>
<path stroke="#1aaf44" d="M279 609v15"/>
<path stroke="#1ab142" d="M280 609v15"/>
<path stroke="#1bb241" d="M281 609v15"/>
<path stroke="#1bb43f" d="M282 609v15"/>
<path stroke="#1bb53e" d="M283 609v15"/>
<path stroke="#1cb73c" d="M284 609v15"/>
<path stroke="#1cb93a" d="M285 609v15"/>
<path stroke="#1cba39" d="M286 609v15"/>
<path stroke="#1cbc37" d="M287 609v15"/>
<path stroke="#1dbd36" d="M288 609v15"/>
<path stroke="#1dbf34" d="M289 609v15"/>
<path stroke="#1dc132" d="M290 609v15"/>
<path stroke="#1dc231" d="M291 609v15"/>
<path stroke="#1ec42f" d="M292 609v15"/>
<path stroke="#1ec62d" d="M293 609v15"/>
<path stroke="#1ec82c" d="M294 609v15"/>
<path stroke="#1ecb2a" d="M295 609v15"/>
<path stroke="#1ece29" d="M296 609v15"/>
<path stroke="#1ed127" d="M297 609v15"/>
<path stroke="#1ed426" d="M298 609v15"/>
<path stroke="#1ed724" d="M299 609v15"/>
<path stroke="#1eda23" d="M300 609v15"/>
<path stroke="#1edc21" d="M301 609v15"/>
<path stroke="#1edf20" d="M302 609v15"/>
<path stroke="#1ee21e" d="M303 609v15"/>
<path stroke="#1ee51c" d="M304 609v15"/>
<path stroke="#1ee81b" d="M305 609v15"/>
<path stroke="#1eeb19" d="M306 609v15"/>
<path stroke="#1eee18" d="M307 609v15"/>
<path stroke="#1ef116" d="M308 609v15"/>
<path stroke="#1ef415" d="M309 609v15"/>
<path stroke="#1ef514" d="M310 609v15"/>
<path stroke="#1ff514" d="M311 609v15M312 609v15"/>
<path stroke="#20f614" d="M313 609v15"/>
<path stroke="#21f614" d="M314 609v15M315 609v15"/>
<path stroke="#22f614" d="M316 609v15M317 609v15"/>
<path stroke="#23f614" d="M318 609v15M319 609v15"/>
<path stroke="#24f714" d="M320 609v15"/>
<path stroke="#25f714" d="M321 609v15M322 609v15"/>
<path stroke="#26f714" d="M323 609v15M324 609v15"/>
<path stroke="#27f714" d="M325 609v15M326 609v15"/>
<path stroke="#28f814" d="M327 609v15"/>
<path stroke="#29f814" d="M328 609v15M329 609v15"/>
<path stroke="#2af814" d="M330 609v15M331 609v15"/>
<path stroke="#2bf814" d="M332 609v15"/>
<path stroke="#2cf814" d="M333 609v15"/>
<path stroke="#2cf914" d="M334 609v15"/>
<path stroke="#2df914" d="M335 609v15M336 609v15"/>
<path stroke="#2ef914" d="M337 609v15M338 609v15"/>
<path stroke="#2ff914" d="M339 609v15"/>
<path stroke="#30f914" d="M340 609v15"/>
<path stroke="#30fa14" d="M341 609v15"/>
<path stroke="#31fa14" d="M342 609v15M343 609v15"/>
<path stroke="#32fa14" d="M344 609v15M345 609v15"/>
<path stroke="#33fa14" d="M346 609v15"/>
<path stroke="#34fa14" d="M347 609v15"/>
<path stroke="#34fb14" d="M348 609v15"/>
<path stroke="#35fb14" d="M349 609v15M350 609v15"/>
<path stroke="#36fb14" d="M351 609v15M352 609v15"/>
<path stroke="#37fb14" d="M353 609v15"/>
<path stroke="#38fb14" d="M354 609v15"/>
<path stroke="#38fc14" d="M355 609v15"/>
<path stroke="#39fc14" d="M356 609v15M357 609v15"/>
<path stroke="#3afc14" d="M358 609v15M359 609v15"/>
<path stroke="#3bfc14" d="M360 609v15"/>
<path stroke="#3cfc14" d="M361 609v15"/>
<path stroke="#3cfd14" d="M362 609v15"/>
<path stroke="#3dfd14" d="M363 609v15M364 609v15"/>
<path stroke="#3efd14" d="M365 609v15M366 609v15"/>
<path stroke="#3ffd14" d="M367 609v15"/>
<path stroke="#40fd14" d="M368 609v15"/>
<path stroke="#40fe14" d="M369 609v15"/>
<path stroke="#41fe14" d="M370 609v15M371 609v15"/>
<path stroke="#42fe14" d="M372 609v15M373 609v15"/>
<path stroke="#43fe14" d="M374 609v15"/>
<path stroke="#44fe14" d="M375 609v15"/>
<path stroke="#44ff14" d="M376 609v15"/>
<path stroke="#45ff14" d="M377 609v15M378 609v15"/>
<path stroke="#46ff14" d="M379 609v15"/>
<path stroke="#47ff14" d="M380 609v15"/>
<path stroke="#48ff14" d="M381 609v15"/>
<path stroke="#4aff14" d="M382 609v15"/>
<path stroke="#4bff14" d="M383 609v15"/>
<path stroke="#4cff14" d="M384 609v15"/>
<path stroke="#4eff14" d="M385 609v15"/>
<path stroke="#4fff14" d="M386 609v15"/>
<path stroke="#50ff14" d="M387 609v15"/>
<path stroke="#52ff14" d="M388 609v15"/>
<path stroke="#53ff14" d="M389 609v15"/>
<path stroke="#54ff14" d="M390 609v15"/>
<path stroke="#55ff14" d="M391 609v15"/>
<path stroke="#57ff14" d="M392 609v15"/>
<path stroke="#58ff14" d="M393 609v15"/>
<path stroke="#59ff14" d="M394 609v15"/>
<path stroke="#5bff14" d="M395 609v15"/>
<path stroke="#5cff14" d="M396 609v15"/>
<path stroke="#5dff14" d="M397 609v15"/>
<path stroke="#5eff14" d="M398 609v15"/>
<path stroke="#60ff14" d="M399 609v15"/>
<path stroke="#61ff14" d="M400 609v15"/>
<path stroke="#62ff14" d="M401 609v15"/>
<path stroke="#64ff14" d="M402 609v15"/>
<path stroke="#65ff14" d="M403 609v15"/>
<path stroke="#66ff14" d="M404 609v15"/>
<path stroke="#67ff14" d="M405 609v15"/>
<path stroke="#69ff14" d="M406 609v15"/>
<path stroke="#6aff14" d="M407 609v15"/>
<path stroke="#6bff14" d="M408 609v15"/>
<path stroke="#6dff14" d="M409 609v15"/>
<path stroke="#6eff14" d="M410 609v15"/>
<path stroke="#6fff14" d="M411 609v15"/>
<path stroke="#71ff14" d="M412 609v15"/>
<path stroke="#72ff14" d="M413 609v15"/>
<path stroke="#73ff14" d="M414 609v15"/>
<path stroke="#74ff14" d="M415 609v15"/>
<path stroke="#76ff14" d="M416 609v15"/>
<path stroke="#77ff14" d="M417 609v15"/>
<path stroke="#78ff14" d="M418 609v15"/>
<path stroke="#7aff14" d="M419 609v15"/>
<path stroke="#7bff14" d="M420 609v15"/>
<path stroke="#7cff14" d="M421 609v15"/>
<path stroke="#7dff14" d="M422 609v15"/>
<path stroke="#7fff14" d="M423 609v15"/>
<path stroke="#80ff14" d="M424 609v15"/>
<path stroke="#81ff14" d="M425 609v15"/>
<path stroke="#83ff14" d="M426 609v15"/>
<path stroke="#84ff14" d="M427 609v15"/>
<path stroke="#85ff14" d="M428 609v15"/>
<path stroke="#86ff14" d="M429 609v15"/>
<path stroke="#88ff14" d="M430 609v15"/>
<path stroke="#89ff14" d="M431 609v15"/>
<path stroke="#8aff14" d="M432 609v15"/>
<path stroke="#8bff14" d="M433 609v15"/>
<path stroke="#8dff14" d="M434 609v15"/>
<path stroke="#8eff14" d="M435 609v15"/>
<path stroke="#8fff14" d="M436 609v15"/>
<path stroke="#90ff14" d="M437 609v15"/>
<path stroke="#92ff14" d="M438 609v15"/>
<path stroke="#93ff14" d="M439 609v15"/>
<path stroke="#94ff14" d="M440 609v15"/>
<path stroke="#95ff14" d="M441 609v15"/>
<path stroke="#97ff14" d="M442 609v15"/>
<path stroke="#98ff14" d="M443 609v15"/>
<path stroke="#99ff14" d="M444 609v15"/>
<path stroke="#9bff14" d="M445 609v15"/>
<path stroke="#9cff14" d="M446 609v15"/>
<path stroke="#9dff14" d="M447 609v15"/>
<path stroke="#9eff14" d="M448 609v15"/>
<path stroke="#a0ff14" d="M449 609v15"/>
<path stroke="#a1ff14" d="M450 609v15"/>
<path stroke="#a2ff14" d="M451 609v15"/>
<path stroke="#a3ff14" d="M452 609v15"/>
<path stroke="#a5ff14" d="M453 609v15"/>
<path stroke="#a6ff14" d="M454 609v15"/>
<path stroke="#a7ff14" d="M455 609v15"/>
<path stroke="#a8ff14" d="M456 609v15"/>
<path stroke="#aaff14" d="M457 609v15"/>
<path stroke="#abff14" d="M458 609v15"/>
<path stroke="#acff14" d="M459 609v15"/>
<path stroke="#adff14" d="M460 609v15"/>
<path stroke="#afff14" d="M461 609v15"/>
<path stroke="#b0ff14" d="M462 609v15"/>
<path stroke="#b1ff14" d="M463 609v15"/>
<path stroke="#b2ff14" d="M464 609v15"/>
<path stroke="#b4ff14" d="M465 609v15"/>
<path stroke="#b5ff14" d="M466 609v15"/>
<path stroke="#b6ff14" d="M467 609v15"/>
<path stroke="#b7ff14" d="M468 609v15"/>
<path stroke="#b9ff14" d="M469 609v15"/>
<path stroke="#baff14" d="M470 609v15"/>
<path stroke="#bbff14" d="M471 609v15"/>
<path stroke="#bcff14" d="M472 609v15"/>
<path stroke="#beff14" d="M473 609v15"/>
<path stroke="#bfff14" d="M474 609v15"/>
<path stroke="#c0ff14" d="M475 609v15"/>
<path stroke="#c1ff14" d="M476 609v15"/>
<path stroke="#c3ff14" d="M477 609v15"/>
<path stroke="#c4ff14" d="M478 609v15"/>
<path stroke="#c5ff14" d="M479 609v15"/>
<path stroke="#c7ff14" d="M480 609v15"/>
<path stroke="#c8ff14" d="M481 609v15"/>
<path stroke="#c9ff13" d="M482 609v15"/>
<path stroke="#cbff13" d="M483 609v15"/>
<path stroke="#cdff12" d="M484 609v15"/>
<path stroke="#cfff11" d="M485 609v15"/>
<path stroke="#d1ff11" d="M486 609v15"/>
<path stroke="#d3ff10" d="M487 609v15"/>
<path stroke="#d4ff0f" d="M488 609v15"/>
<path stroke="#d6ff0f" d="M489 609v15"/>
<path stroke="#d8ff0e" d="M490 609v15"/>
<path stroke="#daff0d" d="M491 609v15"/>
<path stroke="#dcff0d" d="M492 609v15"/>
<path stroke="#deff0c" d="M493 609v15"/>
<path stroke="#dfff0b" d="M494 609v15"/>
<path stroke="#e1ff0b" d="M495 609v15"/>
<path stroke="#e3ff0a" d="M496 609v15"/>
<path stroke="#e5ff0a" d="M497 609v15"/>
<path stroke="#e7ff09" d="M498 609v15"/>
<path stroke="#e8ff08" d="M499 609v15"/>
<path stroke="#eaff08" d="M500 609v15"/>
<path stroke="#ecff07" d="M501 609v15"/>
<path stroke="#eeff06" d="M502 609v15"/>
<path stroke="#f0ff06" d="M503 609v15"/>
<path stroke="#f2ff05" d="M504 609v15"/>
<path stroke="#f3ff04" d="M505 609v15"/>
<path stroke="#f5ff04" d="M506 609v15"/>
<path stroke="#f7ff03" d="M507 609v15"/>
<path stroke="#f9ff02" d="M508 609v15"/>
<path stroke="#fbff02" d="M509 609v15"/>
<path stroke="#fdff01" d="M510 609v15"/>
<path stroke="#feff00" d="M511 609v15"/>
<path stroke="#fffe00" d="M512 609v15"/>
<path stroke="#fffd00" d="M513 609v15"/>
<path stroke="#fffb00" d="M514 609v15"/>
<path stroke="#fffa00" d="M515 609v15"/>
<path stroke="#fff900" d="M516 609v15"/>
<path stroke="#fff700" d="M517 609v15"/>
<path stroke="#fff600" d="M518 609v15"/>
<path stroke="#fff400" d="M519 609v15"/>
<path stroke="#fff300" d="M520 609v15"/>
<path stroke="#fff200" d="M521 609v15"/>
<path stroke="#fff000" d="M522 609v15"/>
<path stroke="#ffef00" d="M523 609v15"/>
<path stroke="#ffee00" d="M524 609v15"/>
<path stroke="#ffec00" d="M525 609v15"/>
<path stroke="#ffeb00" d="M526 609v15"/>
<path stroke="#ffea00" d="M527 609v15"/>
<path stroke="#ffe800" d="M528 609v15"/>
<path stroke="#ffe700" d="M529 609v15"/>
<path stroke="#ffe500" d="M530 609v15"/>
<path stroke="#ffe400" d="M531 609v15"/>
<path stroke="#ffe300" d="M532 609v15"/>
<path stroke="#ffe100" d="M533 609v15"/>
<path stroke="#ffe000" d="M534 609v15"/>
<path stroke="#ffdf00" d="M535 609v15"/>
<path stroke="#ffdd00" d="M536 609v15"/>
<path stroke="#ffdc00" d="M537 609v15"/>
<path stroke="#ffdb00" d="M538 609v15"/>
<path stroke="#ffda00" d="M539 609v15"/>
<path stroke="#ffd900" d="M540 609v15"/>
<path stroke="#ffd800" d="M541 609v15"/>
<path stroke="#ffd700" d="M542 609v15"/>
<path stroke="#ffd600" d="M543 609v15"/>
<path stroke="#ffd500" d="M544 609v15"/>
<path stroke="#ffd400" d="M545 609v15"/>
<path stroke="#ffd300" d="M546 609v15"/>
<path stroke="#ffd200" d="M547 609v15M548 609v15"/>
<path stroke="#ffd100" d="M549 609v15"/>
<path stroke="#ffd000" d="M550 609v15"/>
<path stroke="#ffcf00" d="M551 609v15"/>
<path stroke="#ffce00" d="M552 609v15"/>
<path stroke="#ffcd00" d="M553 609v15"/>
<path stroke="#ffcc00" d="M554 609v15"/>
<path stroke="#ffcb00" d="M555 609v15"/>
<path stroke="#ffca00" d="M556 609v15"/>
<path stroke="#ffc900" d="M557 609v15"/>
<path stroke="#ffc800" d="M558 609v15"/>
<path stroke="#ffc700" d="M559 609v15"/>
<path stroke="#ffc600" d="M560 609v15"/>
<path stroke="#ffc500" d="M561 609v15"/>
<path stroke="#ffc400" d="M562 609v15"/>
<path stroke="#ffc300" d="M563 609v15"/>
<path stroke="#ffc200" d="M564 609v15M565 609v15"/>
<path stroke="#ffc100" d="M566 609v15"/>
<path stroke="#ffc000" d="M567 609v15"/>
<path stroke="#ffbf00" d="M568 609v15"/>
<path stroke="#ffbe00" d="M569 609v15"/>
<path stroke="#ffbd00" d="M570 609v15"/>
<path stroke="#ffbc00" d="M571 609v15"/>
<path stroke="#ffbb00" d="M572 609v15"/>
<path stroke="#ffba00" d="M573 609v15"/>
<path stroke="#ffb900" d="M574 609v15"/>
<path stroke="#ffb800" d="M575 609v15"/>
<path stroke="#ffb700" d="M576 609v15"/>
<path stroke="#ffb600" d="M577 609v15"/>
<path stroke="#ffb500" d="M578 609v15"/>
<path stroke="#ffb400" d="M579 609v15"/>
<path stroke="#ffb300" d="M580 609v15"/>
<path stroke="#ffb200" d="M581 609v15M582 609v15"/>
<path stroke="#ffb100" d="M583 609v15"/>
<path stroke="#ffb000" d="M584 609v15"/>
<path stroke="#ffaf00" d="M585 609v15"/>
<path stroke="#ffae00" d="M586 609v15"/>
<path stroke="#ffad00" d="M587 609v15"/>
<path stroke="#ffac00" d="M588 609v15"/>
<path stroke="#ffab00" d="M589 609v15"/>
<path stroke="#ffaa00" d="M590 609v15"/>
<path stroke="#ffa900" d="M591 609v15"/>
<path stroke="#ffa800" d="M592 609v15"/>
<path stroke="#ffa700" d="M593 609v15"/>
<path stroke="#ffa600" d="M594 609v15"/>
<path stroke="#ffa500" d="M595 609v15"/>
<path stroke="#ffa400" d="M596 609v15"/>
<path stroke="#ffa300" d="M597 609v15M598 609v15"/>
<path stroke="#ffa200" d="M599 609v15"/>
<path stroke="#ffa100" d="M600 609v15"/>
<path stroke="#ffa000" d="M601 609v15"/>
<path stroke="#ff9f00" d="M602 609v15"/>
<path stroke="#ff9e00" d="M603 609v15"/>
<path stroke="#ff9c00" d="M604 609v15"/>
<path stroke="#ff9b00" d="M605 609v15"/>
<path stroke="#ff9a00" d="M606 609v15"/>
<path stroke="#ff9900" d="M607 609v15"/>
<path stroke="#ff9800" d="M608 609v15"/>
<path stroke="#ff9700" d="M609 609v15"/>
<path stroke="#ff9600" d="M610 609v15"/>
<path stroke="#ff9500" d="M611 609v15"/>
<path stroke="#ff9400" d="M612 609v15"/>
<path stroke="#ff9300" d="M613 609v15"/>
<path stroke="#ff9200" d="M614 609v15"/>
<path stroke="#ff9100" d="M615 609v15"/>
<path stroke="#ff9000" d="M616 609v15"/>
<path stroke="#ff8f00" d="M617 609v15"/>
<path stroke="#ff8e00" d="M618 609v15"/>
<path stroke="#ff8d00" d="M619 609v15"/>
<path stroke="#ff8c00" d="M620 609v15"/>
<path stroke="#ff8b00" d="M621 609v15"/>
<path stroke="#ff8900" d="M622 609v15"/>
<path stroke="#ff8800" d="M623 609v15"/>
<path stroke="#ff8700" d="M624 609v15"/>
<path stroke="#ff8600" d="M625 609v15"/>
<path stroke="#ff8500" d="M626 609v15"/>
<path stroke="#ff8400" d="M627 609v15"/>
<path stroke="#ff8300" d="M628 609v15"/>
<path stroke="#ff8200" d="M629 609v15"/>
<path stroke="#ff8100" d="M630 609v15"/>
<path stroke="#ff8000" d="M631 609v15"/>
<path stroke="#ff7f00" d="M632 609v15"/>
<path stroke="#ff7e00" d="M633 609v15"/>
<path stroke="#ff7d00" d="M634 609v15"/>
<path stroke="#ff7c00" d="M635 609v15"/>
<path stroke="#ff7b00" d="M636 609v15"/>
<path stroke="#ff7a00" d="M637 609v15"/>
<path stroke="#ff7900" d="M638 609v15"/>
<path stroke="#ff7800" d="M639 609v15"/>
<path stroke="#ff7600" d="M640 609v15"/>
<path stroke="#ff7500" d="M641 609v15"/>
<path stroke="#ff7400" d="M642 609v15"/>
<path stroke="#ff7300" d="M643 609v15"/>
<path stroke="#ff7200" d="M644 609v15"/>
<path stroke="#ff7100" d="M645 609v15"/>
<path stroke="#ff7000" d="M646 609v15"/>
<path stroke="#ff6f00" d="M647 609v15"/>
<path stroke="#ff6e00" d="M648 609v15"/>
<path stroke="#ff6d00" d="M649 609v15"/>
<path stroke="#ff6c00" d="M650 609v15"/>
<path stroke="#ff6b00" d="M651 609v15"/>
<path stroke="#ff6a00" d="M652 609v15"/>
<path stroke="#ff6900" d="M653 609v15"/>
<path stroke="#ff6800" d="M654 609v15"/>
<path stroke="#ff6700" d="M655 609v15"/>
<path stroke="#ff6600" d="M656 609v15"/>
<path stroke="#ff6500" d="M657 609v15"/>
<path stroke="#ff6300" d="M658 609v15"/>
<path stroke="#ff6200" d="M659 609v15"/>
<path stroke="#ff6100" d="M660 609v15"/>
<path stroke="#ff6000" d="M661 609v15"/>
<path stroke="#ff5f00" d="M662 609v15"/>
<path stroke="#ff5e00" d="M663 609v15"/>
<path stroke="#ff5d00" d="M664 609v15"/>
<path stroke="#ff5b00" d="M665 609v15"/>
<path stroke="#ff5a00" d="M666 609v15"/>
<path stroke="#ff5900" d="M667 609v15"/>
<path stroke="#ff5800" d="M668 609v15"/>
<path stroke="#ff5700" d="M669 609v15"/>
<path stroke="#ff5600" d="M670 609v15"/>
<path stroke="#ff5500" d="M671 609v15"/>
<path stroke="#ff5400" d="M672 609v15"/>
<path stroke="#ff5200" d="M673 609v15"/>
<path stroke="#ff5100" d="M674 609v15"/>
<path stroke="#ff5000" d="M675 609v15"/>
<path stroke="#ff4f00" d="M676 609v15"/>
<path stroke="#ff4e00" d="M677 609v15"/>
<path stroke="#ff4d00" d="M678 609v15"/>
<path stroke="#ff4c00" d="M679 609v15"/>
<path stroke="#ff4a00" d="M680 609v15"/>
<path stroke="#ff4900" d="M681 609v15"/>
<path stroke="#ff4800" d="M682 609v15"/>
<path stroke="#ff4700" d="M683 609v15"/>
<path stroke="#ff4600" d="M684 609v15"/>
<path stroke="#ff4500" d="M685 609v15"/>
<path stroke="#ff4400" d="M686 609v15"/>
<path stroke="#ff4300" d="M687 609v15"/>
<path stroke="#ff4100" d="M688 609v15"/>
<path stroke="#ff4000" d="M689 609v15"/>
<path stroke="#ff3f00" d="M690 609v15"/>
<path stroke="#ff3e00" d="M691 609v15"/>
<path stroke="#ff3d00" d="M692 609v15"/>
<path stroke="#ff3c00" d="M693 609v15"/>
<path stroke="#ff3b00" d="M694 609v15"/>
<path stroke="#ff3900" d="M695 609v15"/>
<path stroke="#ff3800" d="M696 609v15"/>
<path stroke="#ff3700" d="M697 609v15"/>
<path stroke="#ff3600" d="M698 609v15"/>
<path stroke="#ff3500" d="M699 609v15"/>
<path stroke="#ff3400" d="M700 609v15"/>
<path stroke="#ff3300" d="M701 609v15"/>
<path stroke="#ff3100" d="M702 609v15"/>
<path stroke="#ff3000" d="M703 609v15"/>
<path stroke="#ff2e00" d="M704 609v15"/>
<path stroke="#ff2c00" d="M705 609v15"/>
<path stroke="#ff2b00" d="M706 609v15"/>
<path stroke="#ff2900" d="M707 609v15"/>
<path stroke="#ff2700" d="M708 609v15"/>
<path stroke="#ff2600" d="M709 609v15"/>
<path stroke="#ff2400" d="M710 609v15"/>
<path stroke="#ff2200" d="M711 609v15"/>
<path stroke="#ff2100" d="M712 609v15"/>
<path stroke="#ff1f00" d="M713 609v15"/>
<path stroke="#ff1d00" d="M714 609v15"/>
<path stroke="#ff1c00" d="M715 609v15"/>
<path stroke="#ff1a00" d="M716 609v15"/>
<path stroke="#ff1800" d="M717 609v15"/>
<path stroke="#ff1700" d="M718 609v15"/>
<path stroke="#ff1500" d="M719 609v15"/>
<path stroke="#ff1300" d="M720 609v15"/>
<path stroke="#ff1200" d="M721 609v15"/>
<path stroke="#ff1000" d="M722 609v15"/>
<path stroke="#ff0e00" d="M723 609v15"/>
<path stroke="#ff0d00" d="M724 609v15"/>
<path stroke="#ff0b00" d="M725 609v15"/>
<path stroke="#ff0a00" d="M726 609v15"/>
<path stroke="#ff0800" d="M727 609v15"/>
<path stroke="#ff0600" d="M728 609v15"/>
<path stroke="#ff0500" d="M729 609v15"/>
<path stroke="#ff0300" d="M730 609v15"/>
<path stroke="#ff0100" d="M731 609v15"/>
<path stroke="#ff0000" d="M732 609v15M733 609v15M734 609v15M735 609v15M736 609v15M737 609v15M738 609v15M739 609v15M740 609v15M741 609v15M742 609v15M743 609v15M744 609v15M745 609v15M746 609v15M747 609v15M748 609v15M749 609v15M750 609v15M751 609v15M752 609v15M753 609v15M754 609v15M755 609v15M756 609v15M757 609v15M758 609v15M759 609v15M760 609v15M761 609v15M762 609v15M763 609v15M764 609v15M765 609v15M766 609v15M767 609v15M768 609v15M769 609v15M770 609v15M771 609v15M772 609v15M773 609v15"/>
</g>
<rect x="78.5" y="609.5" width="695" height="14" fill="none" stroke="#000"/>
<path d="M193.5 609v4M193.5 624v-4M309.5 609v4M309.5 624v-4M425.5 609v4M425.5 624v-4M541.5 609v4M541.5 624v-4M657.5 609v4M657.5 624v-4" stroke="#000" fill="none"/>
<g font-family="'DejaVu Sans',sans-serif" font-size="15.8" text-anchor="middle" font-weight="200" stroke="#000" stroke-width="0.45">
<text x="77.9" y="646.9">500</text>
<text x="193.73" y="646.9">1000</text>
<text x="309.57" y="646.9">1500</text>
<text x="425.4" y="646.9">2000</text>
<text x="541.23" y="646.9">2500</text>
<text x="657.07" y="646.9">3000</text>
<text x="772.9" y="646.9">3500</text>
</g>
<text x="427.9" y="662.6" font-family="'DejaVu Sans Condensed','DejaVu Sans',sans-serif" font-size="15.5" text-anchor="middle">temperature, K</text>
<g shape-rendering="crispEdges" transform="translate(0.5 0)" stroke-width="1" fill="none">
<path stroke="#0001ff" d="M79 992v20"/>
<path stroke="#0002ff" d="M80 992v20"/>
<path stroke="#0003ff" d="M81 992v20"/>
<path stroke="#0004ff" d="M82 992v20"/>
<path stroke="#0005ff" d="M83 992v20"/>
<path stroke="#0006ff" d="M84 992v20"/>
<path stroke="#0007ff" d="M85 992v20"/>
<path stroke="#0008ff" d="M86 992v20"/>
<path stroke="#0009ff" d="M87 992v20"/>
<path stroke="#000aff" d="M88 992v20"/>
<path stroke="#000bff" d="M89 992v20"/>
<path stroke="#000cff" d="M90 992v20"/>
<path stroke="#000dff" d="M91 992v20"/>
<path stroke="#000eff" d="M92 992v20"/>
<path stroke="#000fff" d="M93 992v20"/>
<path stroke="#0010ff" d="M94 992v20"/>
<path stroke="#0011ff" d="M95 992v20"/>
<path stroke="#0012ff" d="M96 992v20"/>
<path stroke="#0013ff" d="M97 992v20"/>
<path stroke="#0014ff" d="M98 992v20"/>
<path stroke="#0015ff" d="M99 992v20"/>
<path stroke="#0016ff" d="M100 992v20"/>
<path stroke="#0017ff" d="M101 992v20"/>
<path stroke="#0018ff" d="M102 992v20"/>
<path stroke="#0019ff" d="M103 992v20"/>
<path stroke="#001aff" d="M104 992v20"/>
<path stroke="#001bff" d="M105 992v20"/>
<path stroke="#001cff" d="M106 992v20"/>
<path stroke="#001dff" d="M107 992v20"/>
<path stroke="#001fff" d="M108 992v20"/>
<path stroke="#0020ff" d="M109 992v20"/>
<path stroke="#0021ff" d="M110 992v20"/>
<path stroke="#0022ff" d="M111 992v20"/>
<path stroke="#0023ff" d="M112 992v20"/>
<path stroke="#0024ff" d="M113 992v20"/>
<path stroke="#0025ff" d="M114 992v20"/>
<path stroke="#0026ff" d="M115 992v20"/>
<path stroke="#0027ff" d="M116 992v20"/>
<path stroke="#0028ff" d="M117 992v20"/>
<path stroke="#0029ff" d="M118 992v20"/>
<path stroke="#002aff" d="M119 992v20"/>
<path stroke="#002bff" d="M120 992v20"/>
<path stroke="#002cff" d="M121 992v20"/>
<path stroke="#002dff" d="M122 992v20"/>
<path stroke="#002eff" d="M123 992v20"/>
<path stroke="#002fff" d="M124 992v20"/>
<path stroke="#0030ff" d="M125 992v20"/>
<path stroke="#0031ff" d="M126 992v20"/>
<path stroke="#0032ff" d="M127 992v20"/>
<path stroke="#0033ff" d="M128 992v20"/>
<path stroke="#0034ff" d="M129 992v20"/>
<path stroke="#0035ff" d="M130 992v20"/>
<path stroke="#0036ff" d="M131 992v20"/>
<path stroke="#0037ff" d="M132 992v20"/>
<path stroke="#0038ff" d="M133 992v20"/>
<path stroke="#0039ff" d="M134 992v20"/>
<path stroke="#003aff" d="M135 992v20"/>
<path stroke="#003bff" d="M136 992v20"/>
<path stroke="#003dff" d="M137 992v20"/>
<path stroke="#003eff" d="M138 992v20"/>
<path stroke="#003fff" d="M139 992v20"/>
<path stroke="#0040ff" d="M140 992v20"/>
<path stroke="#0041ff" d="M141 992v20"/>
<path stroke="#0042ff" d="M142 992v20"/>
<path stroke="#0043ff" d="M143 992v20"/>
<path stroke="#0044ff" d="M144 992v20"/>
<path stroke="#0045ff" d="M145 992v20"/>
<path stroke="#0046ff" d="M146 992v20"/>
<path stroke="#0047ff" d="M147 992v20"/>
<path stroke="#0048ff" d="M148 992v20"/>
<path stroke="#0049ff" d="M149 992v20"/>
<path stroke="#004aff" d="M150 992v20"/>
<path stroke="#004bff" d="M151 992v20"/>
<path stroke="#004cff" d="M152 992v20"/>
<path stroke="#004dff" d="M153 992v20"/>
<path stroke="#004eff" d="M154 992v20"/>
<path stroke="#004fff" d="M155 992v20"/>
<path stroke="#0050ff" d="M156 992v20"/>
<path stroke="#0051ff" d="M157 992v20"/>
<path stroke="#0052ff" d="M158 992v20"/>
<path stroke="#0053ff" d="M159 992v20"/>
<path stroke="#0054ff" d="M160 992v20"/>
<path stroke="#0055ff" d="M161 992v20"/>
<path stroke="#0056ff" d="M162 992v20"/>
<path stroke="#0057ff" d="M163 992v20"/>
<path stroke="#0058ff" d="M164 992v20"/>
<path stroke="#0059ff" d="M165 992v20"/>
<path stroke="#005bff" d="M166 992v20"/>
<path stroke="#005cff" d="M167 992v20"/>
<path stroke="#005dff" d="M168 992v20"/>
<path stroke="#005eff" d="M169 992v20"/>
<path stroke="#005fff" d="M170 992v20"/>
<path stroke="#0060ff" d="M171 992v20"/>
<path stroke="#0061ff" d="M172 992v20"/>
<path stroke="#0062ff" d="M173 992v20"/>
<path stroke="#0063ff" d="M174 992v20"/>
<path stroke="#0064ff" d="M175 992v20"/>
<path stroke="#0065ff" d="M176 992v20"/>
<path stroke="#0066ff" d="M177 992v20"/>
<path stroke="#0067ff" d="M178 992v20"/>
<path stroke="#0068ff" d="M179 992v20"/>
<path stroke="#0069ff" d="M180 992v20"/>
<path stroke="#006aff" d="M181 992v20"/>
<path stroke="#006bff" d="M182 992v20"/>
<path stroke="#006cff" d="M183 992v20"/>
<path stroke="#006dff" d="M184 992v20"/>
<path stroke="#006eff" d="M185 992v20"/>
<path stroke="#006fff" d="M186 992v20"/>
<path stroke="#0070ff" d="M187 992v20"/>
<path stroke="#0071ff" d="M188 992v20"/>
<path stroke="#0072ff" d="M189 992v20"/>
<path stroke="#0073ff" d="M190 992v20"/>
<path stroke="#0074ff" d="M191 992v20"/>
<path stroke="#0075ff" d="M192 992v20"/>
<path stroke="#0076ff" d="M193 992v20"/>
<path stroke="#0077ff" d="M194 992v20"/>
<path stroke="#0079ff" d="M195 992v20"/>
<path stroke="#007aff" d="M196 992v20"/>
<path stroke="#007bff" d="M197 992v20"/>
<path stroke="#007cff" d="M198 992v20"/>
<path stroke="#007dff" d="M199 992v20"/>
<path stroke="#007eff" d="M200 992v20"/>
<path stroke="#007fff" d="M201 992v20"/>
<path stroke="#0080ff" d="M202 992v20"/>
<path stroke="#0081ff" d="M203 992v20"/>
<path stroke="#0082ff" d="M204 992v20"/>
<path stroke="#0083ff" d="M205 992v20"/>
<path stroke="#0084ff" d="M206 992v20"/>
<path stroke="#0085ff" d="M207 992v20"/>
<path stroke="#0086ff" d="M208 992v20"/>
<path stroke="#0087ff" d="M209 992v20"/>
<path stroke="#0088ff" d="M210 992v20"/>
<path stroke="#0089ff" d="M211 992v20"/>
<path stroke="#008aff" d="M212 992v20"/>
<path stroke="#008bff" d="M213 992v20"/>
<path stroke="#008cff" d="M214 992v20"/>
<path stroke="#008dff" d="M215 992v20"/>
<path stroke="#008eff" d="M216 992v20"/>
<path stroke="#008fff" d="M217 992v20"/>
<path stroke="#0090ff" d="M218 992v20"/>
<path stroke="#0091ff" d="M219 992v20"/>
<path stroke="#0092ff" d="M220 992v20"/>
<path stroke="#0093ff" d="M221 992v20"/>
<path stroke="#0094ff" d="M222 992v20"/>
<path stroke="#0095ff" d="M223 992v20"/>
<path stroke="#0097ff" d="M224 992v20"/>
<path stroke="#0098ff" d="M225 992v20"/>
<path stroke="#0099ff" d="M226 992v20"/>
<path stroke="#009aff" d="M227 992v20"/>
<path stroke="#009bff" d="M228 992v20"/>
<path stroke="#009cff" d="M229 992v20"/>
<path stroke="#009dff" d="M230 992v20"/>
<path stroke="#009eff" d="M231 992v20"/>
<path stroke="#009fff" d="M232 992v20"/>
<path stroke="#00a0ff" d="M233 992v20"/>
<path stroke="#00a1ff" d="M234 992v20"/>
<path stroke="#00a2ff" d="M235 992v20"/>
<path stroke="#00a3ff" d="M236 992v20"/>
<path stroke="#00a4ff" d="M237 992v20"/>
<path stroke="#00a5ff" d="M238 992v20"/>
<path stroke="#00a6ff" d="M239 992v20"/>
<path stroke="#00a7ff" d="M240 992v20"/>
<path stroke="#00a8ff" d="M241 992v20"/>
<path stroke="#00a9ff" d="M242 992v20"/>
<path stroke="#00aaff" d="M243 992v20"/>
<path stroke="#00abff" d="M244 992v20"/>
<path stroke="#00acff" d="M245 992v20"/>
<path stroke="#00adff" d="M246 992v20"/>
<path stroke="#00aeff" d="M247 992v20"/>
<path stroke="#00afff" d="M248 992v20"/>
<path stroke="#00b0ff" d="M249 992v20"/>
<path stroke="#00b1ff" d="M250 992v20"/>
<path stroke="#00b2ff" d="M251 992v20"/>
<path stroke="#00b3ff" d="M252 992v20"/>
<path stroke="#00b5ff" d="M253 992v20"/>
<path stroke="#00b7ff" d="M254 992v20"/>
<path stroke="#00b8ff" d="M255 992v20"/>
<path stroke="#00baff" d="M256 992v20"/>
<path stroke="#00bcff" d="M257 992v20"/>
<path stroke="#00bdff" d="M258 992v20"/>
<path stroke="#00bfff" d="M259 992v20"/>
<path stroke="#00c1ff" d="M260 992v20"/>
<path stroke="#00c3ff" d="M261 992v20"/>
<path stroke="#00c4ff" d="M262 992v20"/>
<path stroke="#00c6ff" d="M263 992v20"/>
<path stroke="#00c8ff" d="M264 992v20"/>
<path stroke="#00caff" d="M265 992v20"/>
<path stroke="#00cbff" d="M266 992v20"/>
<path stroke="#00cdff" d="M267 992v20"/>
<path stroke="#00cfff" d="M268 992v20"/>
<path stroke="#00d0ff" d="M269 992v20"/>
<path stroke="#00d2ff" d="M270 992v20"/>
<path stroke="#00d4ff" d="M271 992v20"/>
<path stroke="#00d6ff" d="M272 992v20"/>
<path stroke="#00d7ff" d="M273 992v20"/>
<path stroke="#00d9ff" d="M274 992v20"/>
<path stroke="#00dbff" d="M275 992v20"/>
<path stroke="#00ddff" d="M276 992v20"/>
<path stroke="#00deff" d="M277 992v20"/>
<path stroke="#00e0ff" d="M278 992v20"/>
<path stroke="#00e2ff" d="M279 992v20"/>
<path stroke="#00e3ff" d="M280 992v20"/>
<path stroke="#00e5ff" d="M281 992v20"/>
<path stroke="#00e7ff" d="M282 992v20"/>
<path stroke="#00e9ff" d="M283 992v20"/>
<path stroke="#00eaff" d="M284 992v20"/>
<path stroke="#00ecff" d="M285 992v20"/>
<path stroke="#00eeff" d="M286 992v20"/>
<path stroke="#00efff" d="M287 992v20"/>
<path stroke="#00f1ff" d="M288 992v20"/>
<path stroke="#00f3ff" d="M289 992v20"/>
<path stroke="#00f5ff" d="M290 992v20"/>
<path stroke="#00f6ff" d="M291 992v20"/>
<path stroke="#00f8ff" d="M292 992v20"/>
<path stroke="#00faff" d="M293 992v20"/>
<path stroke="#00fcff" d="M294 992v20"/>
<path stroke="#00fdff" d="M295 992v20"/>
<path stroke="#00ffff" d="M296 992v20"/>
<path stroke="#00fffd" d="M297 992v20"/>
<path stroke="#00fffa" d="M298 992v20"/>
<path stroke="#00fff8" d="M299 992v20"/>
<path stroke="#00fff5" d="M300 992v20"/>
<path stroke="#00fff3" d="M301 992v20"/>
<path stroke="#00fff1" d="M302 992v20"/>
<path stroke="#00ffee" d="M303 992v20"/>
<path stroke="#00ffec" d="M304 992v20"/>
<path stroke="#00ffe9" d="M305 992v20"/>
<path stroke="#00ffe7" d="M306 992v20"/>
<path stroke="#00ffe4" d="M307 992v20"/>
<path stroke="#00ffe2" d="M308 992v20"/>
<path stroke="#00ffe0" d="M309 992v20"/>
<path stroke="#00ffdd" d="M310 992v20"/>
<path stroke="#00ffdb" d="M311 992v20"/>
<path stroke="#00ffd8" d="M312 992v20"/>
<path stroke="#00ffd6" d="M313 992v20"/>
<path stroke="#00ffd4" d="M314 992v20"/>
<path stroke="#00ffd1" d="M315 992v20"/>
<path stroke="#00ffcf" d="M316 992v20"/>
<path stroke="#00ffcc" d="M317 992v20"/>
<path stroke="#00ffca" d="M318 992v20"/>
<path stroke="#00ffc7" d="M319 992v20"/>
<path stroke="#00ffc5" d="M320 992v20"/>
<path stroke="#00ffc3" d="M321 992v20"/>
<path stroke="#00ffc0" d="M322 992v20"/>
<path stroke="#00ffbe" d="M323 992v20"/>
<path stroke="#00ffbb" d="M324 992v20"/>
<path stroke="#00ffb9" d="M325 992v20"/>
<path stroke="#00ffb7" d="M326 992v20"/>
<path stroke="#00ffb4" d="M327 992v20"/>
<path stroke="#00ffb2" d="M328 992v20"/>
<path stroke="#00ffaf" d="M329 992v20"/>
<path stroke="#00ffad" d="M330 992v20"/>
<path stroke="#00ffab" d="M331 992v20"/>
<path stroke="#00ffa8" d="M332 992v20"/>
<path stroke="#00ffa6" d="M333 992v20"/>
<path stroke="#00ffa3" d="M334 992v20"/>
<path stroke="#00ffa1" d="M335 992v20"/>
<path stroke="#00ff9e" d="M336 992v20"/>
<path stroke="#00ff9c" d="M337 992v20"/>
<path stroke="#00ff9a" d="M338 992v20"/>
<path stroke="#00ff97" d="M339 992v20"/>
<path stroke="#00ff95" d="M340 992v20"/>
<path stroke="#00ff93" d="M341 992v20"/>
<path stroke="#00ff91" d="M342 992v20"/>
<path stroke="#00ff90" d="M343 992v20"/>
<path stroke="#00ff8e" d="M344 992v20"/>
<path stroke="#00ff8c" d="M345 992v20"/>
<path stroke="#00ff8a" d="M346 992v20"/>
<path stroke="#00ff88" d="M347 992v20"/>
<path stroke="#00ff86" d="M348 992v20"/>
<path stroke="#00ff85" d="M349 992v20"/>
<path stroke="#00ff83" d="M350 992v20"/>
<path stroke="#00ff81" d="M351 992v20"/>
<path stroke="#00ff7f" d="M352 992v20"/>
<path stroke="#00ff7d" d="M353 992v20"/>
<path stroke="#00ff7b" d="M354 992v20"/>
<path stroke="#00ff79" d="M355 992v20"/>
<path stroke="#00ff78" d="M356 992v20"/>
<path stroke="#00ff76" d="M357 992v20"/>
<path stroke="#00ff74" d="M358 992v20"/>
<path stroke="#00ff72" d="M359 992v20"/>
<path stroke="#00ff70" d="M360 992v20"/>
<path stroke="#00ff6e" d="M361 992v20"/>
<path stroke="#00ff6d" d="M362 992v20"/>
<path stroke="#00ff6b" d="M363 992v20"/>
<path stroke="#00ff69" d="M364 992v20"/>
<path stroke="#00ff67" d="M365 992v20"/>
<path stroke="#00ff65" d="M366 992v20"/>
<path stroke="#00ff63" d="M367 992v20"/>
<path stroke="#00ff62" d="M368 992v20"/>
<path stroke="#00ff60" d="M369 992v20"/>
<path stroke="#00ff5e" d="M370 992v20"/>
<path stroke="#00ff5c" d="M371 992v20"/>
<path stroke="#00ff5a" d="M372 992v20"/>
<path stroke="#00ff58" d="M373 992v20"/>
<path stroke="#00ff57" d="M374 992v20"/>
<path stroke="#00ff55" d="M375 992v20"/>
<path stroke="#00ff53" d="M376 992v20"/>
<path stroke="#00ff51" d="M377 992v20"/>
<path stroke="#00ff4f" d="M378 992v20"/>
<path stroke="#00ff4d" d="M379 992v20"/>
<path stroke="#00ff4c" d="M380 992v20"/>
<path stroke="#00ff4a" d="M381 992v20"/>
<path stroke="#00ff48" d="M382 992v20"/>
<path stroke="#00ff46" d="M383 992v20"/>
<path stroke="#00ff45" d="M384 992v20"/>
<path stroke="#01ff44" d="M385 992v20"/>
<path stroke="#01ff43" d="M386 992v20"/>
<path stroke="#02ff41" d="M387 992v20"/>
<path stroke="#02ff40" d="M388 992v20"/>
<path stroke="#03ff3f" d="M389 992v20"/>
<path stroke="#03ff3e" d="M390 992v20"/>
<path stroke="#04ff3d" d="M391 992v20"/>
<path stroke="#04ff3c" d="M392 992v20"/>
<path stroke="#05ff3b" d="M393 992v20"/>
<path stroke="#05ff39" d="M394 992v20"/>
<path stroke="#06ff38" d="M395 992v20"/>
<path stroke="#06ff37" d="M396 992v20"/>
<path stroke="#06ff36" d="M397 992v20"/>
<path stroke="#07ff35" d="M398 992v20"/>
<path stroke="#07ff34" d="M399 992v20"/>
<path stroke="#08ff32" d="M400 992v20"/>
<path stroke="#08ff31" d="M401 992v20"/>
<path stroke="#09ff30" d="M402 992v20"/>
<path stroke="#09ff2f" d="M403 992v20"/>
<path stroke="#0aff2e" d="M404 992v20"/>
<path stroke="#0aff2d" d="M405 992v20"/>
<path stroke="#0bff2c" d="M406 992v20"/>
<path stroke="#0bff2a" d="M407 992v20"/>
<path stroke="#0bff29" d="M408 992v20"/>
<path stroke="#0cff28" d="M409 992v20"/>
<path stroke="#0cff27" d="M410 992v20"/>
<path stroke="#0dff26" d="M411 992v20"/>
<path stroke="#0dff25" d="M412 992v20"/>
<path stroke="#0eff24" d="M413 992v20"/>
<path stroke="#0eff22" d="M414 992v20"/>
<path stroke="#0fff21" d="M415 992v20"/>
<path stroke="#0fff20" d="M416 992v20"/>
<path stroke="#10ff1f" d="M417 992v20"/>
<path stroke="#10ff1e" d="M418 992v20"/>
<path stroke="#11ff1d" d="M419 992v20"/>
<path stroke="#11ff1b" d="M420 992v20"/>
<path stroke="#11ff1a" d="M421 992v20"/>
<path stroke="#12ff19" d="M422 992v20"/>
<path stroke="#12ff18" d="M423 992v20"/>
<path stroke="#13ff17" d="M424 992v20"/>
<path stroke="#13ff16" d="M425 992v20"/>
<path stroke="#14ff15" d="M426 992v20"/>
<path stroke="#15ff14" d="M427 992v20"/>
<path stroke="#18ff13" d="M428 992v20"/>
<path stroke="#1aff13" d="M429 992v20"/>
<path stroke="#1dff12" d="M430 992v20"/>
<path stroke="#1fff12" d="M431 992v20"/>
<path stroke="#22ff11" d="M432 992v20"/>
<path stroke="#24ff11" d="M433 992v20"/>
<path stroke="#27ff11" d="M434 992v20"/>
<path stroke="#29ff10" d="M435 992v20"/>
<path stroke="#2cff10" d="M436 992v20"/>
<path stroke="#2fff0f" d="M437 992v20"/>
<path stroke="#31ff0f" d="M438 992v20"/>
<path stroke="#34ff0e" d="M439 992v20"/>
<path stroke="#36ff0e" d="M440 992v20"/>
<path stroke="#39ff0d" d="M441 992v20"/>
<path stroke="#3bff0d" d="M442 992v20"/>
<path stroke="#3eff0c" d="M443 992v20"/>
<path stroke="#40ff0c" d="M444 992v20"/>
<path stroke="#43ff0b" d="M445 992v20"/>
<path stroke="#45ff0b" d="M446 992v20"/>
<path stroke="#48ff0b" d="M447 992v20"/>
<path stroke="#4aff0a" d="M448 992v20"/>
<path stroke="#4dff0a" d="M449 992v20"/>
<path stroke="#4fff09" d="M450 992v20"/>
<path stroke="#52ff09" d="M451 992v20"/>
<path stroke="#54ff08" d="M452 992v20"/>
<path stroke="#57ff08" d="M453 992v20"/>
<path stroke="#5aff07" d="M454 992v20"/>
<path stroke="#5cff07" d="M455 992v20"/>
<path stroke="#5fff06" d="M456 992v20"/>
<path stroke="#61ff06" d="M457 992v20"/>
<path stroke="#64ff06" d="M458 992v20"/>
<path stroke="#66ff05" d="M459 992v20"/>
<path stroke="#69ff05" d="M460 992v20"/>
<path stroke="#6bff04" d="M461 992v20"/>
<path stroke="#6eff04" d="M462 992v20"/>
<path stroke="#70ff03" d="M463 992v20"/>
<path stroke="#73ff03" d="M464 992v20"/>
<path stroke="#75ff02" d="M465 992v20"/>
<path stroke="#78ff02" d="M466 992v20"/>
<path stroke="#7aff01" d="M467 992v20"/>
<path stroke="#7dff01" d="M468 992v20"/>
<path stroke="#7fff00" d="M469 992v20"/>
<path stroke="#82ff00" d="M470 992v20"/>
<path stroke="#85ff00" d="M471 992v20"/>
<path stroke="#88ff00" d="M472 992v20"/>
<path stroke="#8bff00" d="M473 992v20"/>
<path stroke="#8dff00" d="M474 992v20"/>
<path stroke="#90ff00" d="M475 992v20"/>
<path stroke="#93ff00" d="M476 992v20"/>
<path stroke="#96ff00" d="M477 992v20"/>
<path stroke="#99ff00" d="M478 992v20"/>
<path stroke="#9cff00" d="M479 992v20"/>
<path stroke="#9fff00" d="M480 992v20"/>
<path stroke="#a2ff00" d="M481 992v20"/>
<path stroke="#a4ff00" d="M482 992v20"/>
<path stroke="#a7ff00" d="M483 992v20"/>
<path stroke="#aaff00" d="M484 992v20"/>
<path stroke="#adff00" d="M485 992v20"/>
<path stroke="#b0ff00" d="M486 992v20"/>
<path stroke="#b3ff00" d="M487 992v20"/>
<path stroke="#b6ff00" d="M488 992v20"/>
<path stroke="#b9ff00" d="M489 992v20"/>
<path stroke="#bbff00" d="M490 992v20"/>
<path stroke="#beff00" d="M491 992v20"/>
<path stroke="#c1ff00" d="M492 992v20"/>
<path stroke="#c4ff00" d="M493 992v20"/>
<path stroke="#c7ff00" d="M494 992v20"/>
<path stroke="#caff00" d="M495 992v20"/>
<path stroke="#cdff00" d="M496 992v20"/>
<path stroke="#d0ff00" d="M497 992v20"/>
<path stroke="#d2ff00" d="M498 992v20"/>
<path stroke="#d5ff00" d="M499 992v20"/>
<path stroke="#d8ff00" d="M500 992v20"/>
<path stroke="#dbff00" d="M501 992v20"/>
<path stroke="#deff00" d="M502 992v20"/>
<path stroke="#e1ff00" d="M503 992v20"/>
<path stroke="#e4ff00" d="M504 992v20"/>
<path stroke="#e7ff00" d="M505 992v20"/>
<path stroke="#e9ff00" d="M506 992v20"/>
<path stroke="#ecff00" d="M507 992v20"/>
<path stroke="#efff00" d="M508 992v20"/>
<path stroke="#f2ff00" d="M509 992v20"/>
<path stroke="#f5ff00" d="M510 992v20"/>
<path stroke="#f8ff00" d="M511 992v20"/>
<path stroke="#fbff00" d="M512 992v20"/>
<path stroke="#feff00" d="M513 992v20"/>
<path stroke="#fffe00" d="M514 992v20"/>
<path stroke="#fffd00" d="M515 992v20"/>
<path stroke="#fffc00" d="M516 992v20"/>
<path stroke="#fffb00" d="M517 992v20"/>
<path stroke="#fffa00" d="M518 992v20"/>
<path stroke="#fff900" d="M519 992v20"/>
<path stroke="#fff800" d="M520 992v20"/>
<path stroke="#fff700" d="M521 992v20"/>
<path stroke="#fff600" d="M522 992v20"/>
<path stroke="#fff500" d="M523 992v20"/>
<path stroke="#fff400" d="M524 992v20"/>
<path stroke="#fff300" d="M525 992v20"/>
<path stroke="#fff200" d="M526 992v20"/>
<path stroke="#fff100" d="M527 992v20"/>
<path stroke="#fff000" d="M528 992v20"/>
<path stroke="#ffef00" d="M529 992v20"/>
<path stroke="#ffee00" d="M530 992v20"/>
<path stroke="#ffed00" d="M531 992v20"/>
<path stroke="#ffec00" d="M532 992v20"/>
<path stroke="#ffeb00" d="M533 992v20"/>
<path stroke="#ffea00" d="M534 992v20"/>
<path stroke="#ffe900" d="M535 992v20"/>
<path stroke="#ffe800" d="M536 992v20"/>
<path stroke="#ffe700" d="M537 992v20"/>
<path stroke="#ffe600" d="M538 992v20"/>
<path stroke="#ffe500" d="M539 992v20"/>
<path stroke="#ffe400" d="M540 992v20"/>
<path stroke="#ffe300" d="M541 992v20"/>
<path stroke="#ffe200" d="M542 992v20"/>
<path stroke="#ffe000" d="M543 992v20"/>
<path stroke="#ffdf00" d="M544 992v20"/>
<path stroke="#ffde00" d="M545 992v20"/>
<path stroke="#ffdd00" d="M546 992v20"/>
<path stroke="#ffdc00" d="M547 992v20"/>
<path stroke="#ffdb00" d="M548 992v20"/>
<path stroke="#ffda00" d="M549 992v20"/>
<path stroke="#ffd900" d="M550 992v20"/>
<path stroke="#ffd800" d="M551 992v20"/>
<path stroke="#ffd700" d="M552 992v20"/>
<path stroke="#ffd600" d="M553 992v20"/>
<path stroke="#ffd500" d="M554 992v20"/>
<path stroke="#ffd400" d="M555 992v20"/>
<path stroke="#ffd300" d="M556 992v20"/>
<path stroke="#ffd200" d="M557 992v20"/>
<path stroke="#ffd100" d="M558 992v20"/>
<path stroke="#ffd000" d="M559 992v20"/>
<path stroke="#ffcf00" d="M560 992v20"/>
<path stroke="#ffce00" d="M561 992v20"/>
<path stroke="#ffcd00" d="M562 992v20"/>
<path stroke="#ffcc00" d="M563 992v20"/>
<path stroke="#ffcb00" d="M564 992v20"/>
<path stroke="#ffca00" d="M565 992v20"/>
<path stroke="#ffc900" d="M566 992v20"/>
<path stroke="#ffc800" d="M567 992v20"/>
<path stroke="#ffc700" d="M568 992v20"/>
<path stroke="#ffc600" d="M569 992v20"/>
<path stroke="#ffc500" d="M570 992v20"/>
<path stroke="#ffc400" d="M571 992v20"/>
<path stroke="#ffc200" d="M572 992v20"/>
<path stroke="#ffc100" d="M573 992v20"/>
<path stroke="#ffc000" d="M574 992v20"/>
<path stroke="#ffbf00" d="M575 992v20"/>
<path stroke="#ffbe00" d="M576 992v20"/>
<path stroke="#ffbd00" d="M577 992v20"/>
<path stroke="#ffbc00" d="M578 992v20"/>
<path stroke="#ffbb00" d="M579 992v20"/>
<path stroke="#ffba00" d="M580 992v20"/>
<path stroke="#ffb900" d="M581 992v20"/>
<path stroke="#ffb800" d="M582 992v20"/>
<path stroke="#ffb700" d="M583 992v20"/>
<path stroke="#ffb600" d="M584 992v20"/>
<path stroke="#ffb500" d="M585 992v20"/>
<path stroke="#ffb400" d="M586 992v20"/>
<path stroke="#ffb300" d="M587 992v20"/>
<path stroke="#ffb200" d="M588 992v20"/>
<path stroke="#ffb100" d="M589 992v20"/>
<path stroke="#ffb000" d="M590 992v20"/>
<path stroke="#ffaf00" d="M591 992v20"/>
<path stroke="#ffae00" d="M592 992v20"/>
<path stroke="#ffad00" d="M593 992v20"/>
<path stroke="#ffac00" d="M594 992v20"/>
<path stroke="#ffab00" d="M595 992v20"/>
<path stroke="#ffaa00" d="M596 992v20"/>
<path stroke="#ffa900" d="M597 992v20"/>
<path stroke="#ffa800" d="M598 992v20"/>
<path stroke="#ffa700" d="M599 992v20"/>
<path stroke="#ffa600" d="M600 992v20"/>
<path stroke="#ffa500" d="M601 992v20"/>
<path stroke="#ffa400" d="M602 992v20"/>
<path stroke="#ffa300" d="M603 992v20"/>
<path stroke="#ffa200" d="M604 992v20"/>
<path stroke="#ffa100" d="M605 992v20"/>
<path stroke="#ffa000" d="M606 992v20"/>
<path stroke="#ff9f00" d="M607 992v20M608 992v20"/>
<path stroke="#ff9e00" d="M609 992v20"/>
<path stroke="#ff9d00" d="M610 992v20"/>
<path stroke="#ff9c00" d="M611 992v20"/>
<path stroke="#ff9b00" d="M612 992v20"/>
<path stroke="#ff9a00" d="M613 992v20"/>
<path stroke="#ff9900" d="M614 992v20"/>
<path stroke="#ff9800" d="M615 992v20M616 992v20"/>
<path stroke="#ff9700" d="M617 992v20"/>
<path stroke="#ff9600" d="M618 992v20"/>
<path stroke="#ff9500" d="M619 992v20"/>
<path stroke="#ff9400" d="M620 992v20"/>
<path stroke="#ff9300" d="M621 992v20"/>
<path stroke="#ff9200" d="M622 992v20M623 992v20"/>
<path stroke="#ff9100" d="M624 992v20"/>
<path stroke="#ff9000" d="M625 992v20"/>
<path stroke="#ff8f00" d="M626 992v20"/>
<path stroke="#ff8e00" d="M627 992v20"/>
<path stroke="#ff8d00" d="M628 992v20"/>
<path stroke="#ff8c00" d="M629 992v20M630 992v20"/>
<path stroke="#ff8b00" d="M631 992v20"/>
<path stroke="#ff8a00" d="M632 992v20"/>
<path stroke="#ff8900" d="M633 992v20"/>
<path stroke="#ff8800" d="M634 992v20"/>
<path stroke="#ff8700" d="M635 992v20"/>
<path stroke="#ff8600" d="M636 992v20M637 992v20"/>
<path stroke="#ff8500" d="M638 992v20"/>
<path stroke="#ff8400" d="M639 992v20"/>
<path stroke="#ff8300" d="M640 992v20"/>
<path stroke="#ff8200" d="M641 992v20"/>
<path stroke="#ff8100" d="M642 992v20"/>
<path stroke="#ff8000" d="M643 992v20M644 992v20"/>
<path stroke="#ff7f00" d="M645 992v20"/>
<path stroke="#ff7e00" d="M646 992v20"/>
<path stroke="#ff7d00" d="M647 992v20"/>
<path stroke="#ff7c00" d="M648 992v20"/>
<path stroke="#ff7b00" d="M649 992v20"/>
<path stroke="#ff7a00" d="M650 992v20"/>
<path stroke="#ff7900" d="M651 992v20M652 992v20"/>
<path stroke="#ff7800" d="M653 992v20"/>
<path stroke="#ff7700" d="M654 992v20"/>
<path stroke="#ff7600" d="M655 992v20"/>
<path stroke="#ff7500" d="M656 992v20"/>
<path stroke="#ff7400" d="M657 992v20"/>
<path stroke="#ff7300" d="M658 992v20M659 992v20"/>
<path stroke="#ff7200" d="M660 992v20"/>
<path stroke="#ff7100" d="M661 992v20"/>
<path stroke="#ff7000" d="M662 992v20"/>
<path stroke="#ff6f00" d="M663 992v20"/>
<path stroke="#ff6e00" d="M664 992v20"/>
<path stroke="#ff6d00" d="M665 992v20M666 992v20"/>
<path stroke="#ff6c00" d="M667 992v20"/>
<path stroke="#ff6b00" d="M668 992v20"/>
<path stroke="#ff6a00" d="M669 992v20"/>
<path stroke="#ff6900" d="M670 992v20"/>
<path stroke="#ff6800" d="M671 992v20"/>
<path stroke="#ff6700" d="M672 992v20M673 992v20"/>
<path stroke="#ff6600" d="M674 992v20"/>
<path stroke="#ff6500" d="M675 992v20"/>
<path stroke="#ff6400" d="M676 992v20"/>
<path stroke="#ff6300" d="M677 992v20"/>
<path stroke="#ff6200" d="M678 992v20"/>
<path stroke="#ff6100" d="M679 992v20"/>
<path stroke="#ff6000" d="M680 992v20M681 992v20"/>
<path stroke="#ff5f00" d="M682 992v20"/>
<path stroke="#ff5e00" d="M683 992v20"/>
<path stroke="#ff5d00" d="M684 992v20"/>
<path stroke="#ff5c00" d="M685 992v20"/>
<path stroke="#ff5b00" d="M686 992v20"/>
<path stroke="#ff5a00" d="M687 992v20"/>
<path stroke="#ff5900" d="M688 992v20"/>
<path stroke="#ff5800" d="M689 992v20"/>
<path stroke="#ff5700" d="M690 992v20"/>
<path stroke="#ff5600" d="M691 992v20"/>
<path stroke="#ff5500" d="M692 992v20"/>
<path stroke="#ff5400" d="M693 992v20"/>
<path stroke="#ff5300" d="M694 992v20"/>
<path stroke="#ff5200" d="M695 992v20"/>
<path stroke="#ff5100" d="M696 992v20"/>
<path stroke="#ff5000" d="M697 992v20"/>
<path stroke="#ff4f00" d="M698 992v20"/>
<path stroke="#ff4e00" d="M699 992v20"/>
<path stroke="#ff4d00" d="M700 992v20"/>
<path stroke="#ff4c00" d="M701 992v20"/>
<path stroke="#ff4b00" d="M702 992v20"/>
<path stroke="#ff4a00" d="M703 992v20"/>
<path stroke="#ff4900" d="M704 992v20"/>
<path stroke="#ff4800" d="M705 992v20"/>
<path stroke="#ff4700" d="M706 992v20"/>
<path stroke="#ff4600" d="M707 992v20"/>
<path stroke="#ff4500" d="M708 992v20"/>
<path stroke="#ff4400" d="M709 992v20"/>
<path stroke="#ff4300" d="M710 992v20"/>
<path stroke="#ff4200" d="M711 992v20"/>
<path stroke="#ff4100" d="M712 992v20"/>
<path stroke="#ff4000" d="M713 992v20"/>
<path stroke="#ff3f00" d="M714 992v20"/>
<path stroke="#ff3e00" d="M715 992v20"/>
<path stroke="#ff3d00" d="M716 992v20"/>
<path stroke="#ff3b00" d="M717 992v20"/>
<path stroke="#ff3a00" d="M718 992v20"/>
<path stroke="#ff3900" d="M719 992v20"/>
<path stroke="#ff3800" d="M720 992v20"/>
<path stroke="#ff3700" d="M721 992v20"/>
<path stroke="#ff3600" d="M722 992v20"/>
<path stroke="#ff3500" d="M723 992v20"/>
<path stroke="#ff3400" d="M724 992v20"/>
<path stroke="#ff3300" d="M725 992v20"/>
<path stroke="#ff3200" d="M726 992v20"/>
<path stroke="#ff3100" d="M727 992v20"/>
<path stroke="#ff3000" d="M728 992v20"/>
<path stroke="#ff2f00" d="M729 992v20"/>
<path stroke="#ff2e00" d="M730 992v20"/>
<path stroke="#ff2d00" d="M731 992v20"/>
<path stroke="#ff2c00" d="M732 992v20"/>
<path stroke="#ff2b00" d="M733 992v20"/>
<path stroke="#ff2a00" d="M734 992v20"/>
<path stroke="#ff2900" d="M735 992v20"/>
<path stroke="#ff2800" d="M736 992v20"/>
<path stroke="#ff2700" d="M737 992v20"/>
<path stroke="#ff2600" d="M738 992v20"/>
<path stroke="#ff2500" d="M739 992v20"/>
<path stroke="#ff2400" d="M740 992v20"/>
<path stroke="#ff2300" d="M741 992v20"/>
<path stroke="#ff2200" d="M742 992v20"/>
<path stroke="#ff2100" d="M743 992v20"/>
<path stroke="#ff2000" d="M744 992v20"/>
<path stroke="#ff1f00" d="M745 992v20"/>
<path stroke="#ff1d00" d="M746 992v20"/>
<path stroke="#ff1c00" d="M747 992v20"/>
<path stroke="#ff1b00" d="M748 992v20"/>
<path stroke="#ff1a00" d="M749 992v20"/>
<path stroke="#ff1900" d="M750 992v20"/>
<path stroke="#ff1800" d="M751 992v20"/>
<path stroke="#ff1700" d="M752 992v20"/>
<path stroke="#ff1600" d="M753 992v20"/>
<path stroke="#ff1500" d="M754 992v20"/>
<path stroke="#ff1400" d="M755 992v20"/>
<path stroke="#ff1300" d="M756 992v20"/>
<path stroke="#ff1200" d="M757 992v20"/>
<path stroke="#ff1100" d="M758 992v20"/>
<path stroke="#ff1000" d="M759 992v20"/>
<path stroke="#ff0f00" d="M760 992v20"/>
<path stroke="#ff0e00" d="M761 992v20"/>
<path stroke="#ff0d00" d="M762 992v20"/>
<path stroke="#ff0c00" d="M763 992v20"/>
<path stroke="#ff0b00" d="M764 992v20"/>
<path stroke="#ff0a00" d="M765 992v20"/>
<path stroke="#ff0900" d="M766 992v20"/>
<path stroke="#ff0800" d="M767 992v20"/>
<path stroke="#ff0700" d="M768 992v20"/>
<path stroke="#ff0600" d="M769 992v20"/>
<path stroke="#ff0500" d="M770 992v20"/>
<path stroke="#ff0400" d="M771 992v20"/>
<path stroke="#ff0300" d="M772 992v20"/>
<path stroke="#ff0200" d="M773 992v20"/>
<path stroke="#ff0100" d="M774 992v20"/>
</g>
<rect x="79.5" y="992.5" width="695" height="19" fill="none" stroke="#000"/>
<path d="M165.5 992v4M165.5 1012v-4M252.5 992v4M252.5 1012v-4M339.5 992v4M339.5 1012v-4M426.5 992v4M426.5 1012v-4M513.5 992v4M513.5 1012v-4M600.5 992v4M600.5 1012v-4M687.5 992v4M687.5 1012v-4" stroke="#000" fill="none"/>
<g font-family="'DejaVu Sans',sans-serif" font-size="16" text-anchor="middle" font-weight="200" stroke="#000" stroke-width="0.45">
<text x="78.2" y="1034.8">-200</text>
<text x="165.08" y="1034.8">-150</text>
<text x="251.95" y="1034.8">-100</text>
<text x="338.82" y="1034.8">-50</text>
<text x="426.4" y="1034.8">0</text>
<text x="513.27" y="1034.8">50</text>
<text x="600.15" y="1034.8">100</text>
<text x="687.02" y="1034.8">150</text>
<text x="773.9" y="1034.8">200</text>
</g>
<text x="424.3" y="1049.8" font-family="'Liberation Sans',Arial,sans-serif" font-size="15.5" text-anchor="middle">velocity, m/s</text>
<path d="M606 1205.5h7M609.5 1202v7M607 1211.5h7M610.5 1208v7M610 1212.5h7M613.5 1209v7M605 1220.5h7M608.5 1217v7M609 1218.5h7M612.5 1215v7M612 1218.5h7M615.5 1215v7M613 1220.5h7M616.5 1217v7M606 1226.5h7M609.5 1223v7M609 1226.5h7M612.5 1223v7M612 1227.5h7M615.5 1224v7M614 1228.5h7M617.5 1225v7M615 1230.5h7M618.5 1227v7M607 1232.5h7M610.5 1229v7M609 1231.5h7M612.5 1228v7M613 1233.5h7M616.5 1230v7M615 1232.5h7M618.5 1229v7M614 1237.5h7M617.5 1234v7M617 1238.5h7M620.5 1235v7M622 1239.5h7M625.5 1236v7M623 1241.5h7M626.5 1238v7M610 1245.5h7M613.5 1242v7M617 1246.5h7M620.5 1243v7M619 1247.5h7M622.5 1244v7M622 1248.5h7M625.5 1245v7M618 1251.5h7M621.5 1248v7M620 1250.5h7M623.5 1247v7M624 1254.5h7M627.5 1251v7M617 1256.5h7M620.5 1253v7M623 1259.5h7M626.5 1256v7M624 1261.5h7M627.5 1258v7M625 1262.5h7M628.5 1259v7M618 1268.5h7M621.5 1265v7M624 1266.5h7M627.5 1263v7M627 1268.5h7M630.5 1265v7M625 1272.5h7M628.5 1269v7M629 1276.5h7M632.5 1273v7M632 1277.5h7M635.5 1274v7M634 1278.5h7M637.5 1275v7M628 1282.5h7M631.5 1279v7M630 1285.5h7M633.5 1282v7M633 1286.5h7M636.5 1283v7M637 1286.5h7M640.5 1283v7M634 1290.5h7M637.5 1287v7M638 1292.5h7M641.5 1289v7M634 1296.5h7M637.5 1293v7M637 1265.5h7M640.5 1262v7M640 1268.5h7M643.5 1265v7M639 1275.5h7M642.5 1272v7M642 1273.5h7M645.5 1270v7M644 1276.5h7M647.5 1273v7M647 1269.5h7M650.5 1266v7M648 1270.5h7M651.5 1267v7M642 1282.5h7M645.5 1279v7M644 1285.5h7M647.5 1282v7M645 1290.5h7M648.5 1287v7M648 1293.5h7M651.5 1290v7M647 1301.5h7M650.5 1298v7M650 1298.5h7M653.5 1295v7M649 1310.5h7M652.5 1307v7M652 1283.5h7M655.5 1280v7M653 1277.5h7M656.5 1274v7M655 1263.5h7M658.5 1260v7M657 1270.5h7M660.5 1267v7M658 1277.5h7M661.5 1274v7M659 1281.5h7M662.5 1278v7M660 1276.5h7M663.5 1273v7M662 1280.5h7M665.5 1277v7M657 1295.5h7M660.5 1292v7M664 1260.5h7M667.5 1257v7M667 1262.5h7M670.5 1259v7M663 1268.5h7M666.5 1265v7M664 1255.5h7M667.5 1252v7M667 1251.5h7M670.5 1248v7M669 1247.5h7M672.5 1244v7M670 1245.5h7M673.5 1242v7M672 1241.5h7M675.5 1238v7M674 1238.5h7M677.5 1235v7M677 1242.5h7M680.5 1239v7M665 1233.5h7M668.5 1230v7M672 1232.5h7M675.5 1229v7M675 1231.5h7M678.5 1228v7M673 1220.5h7M676.5 1217v7M678 1225.5h7M681.5 1222v7M679 1222.5h7M682.5 1219v7M682 1221.5h7M685.5 1218v7M684 1220.5h7M687.5 1217v7M687 1218.5h7M690.5 1215v7M690 1220.5h7M693.5 1217v7M693 1221.5h7M696.5 1218v7M687 1226.5h7M690.5 1223v7M689 1230.5h7M692.5 1227v7M692 1231.5h7M695.5 1228v7M694 1233.5h7M697.5 1230v7M693 1237.5h7M696.5 1234v7M682 1212.5h7M685.5 1209v7M684 1205.5h7M687.5 1202v7M687 1203.5h7M690.5 1200v7M670 1195.5h7M673.5 1192v7M672 1200.5h7M675.5 1197v7M685 1195.5h7M688.5 1192v7M687 1171.5h7M690.5 1168v7M684 1180.5h7M687.5 1177v7M683 1188.5h7M686.5 1185v7M685 1196.5h7M688.5 1193v7M670 1195.5h7M673.5 1192v7M672 1201.5h7M675.5 1198v7M687 1203.5h7M690.5 1200v7M689 1208.5h7M692.5 1205v7M680 1206.5h7M683.5 1203v7M679 1212.5h7M682.5 1209v7M683 1212.5h7M686.5 1209v7M606 1205.5h7M609.5 1202v7M608 1211.5h7M611.5 1208v7M612 1212.5h7M615.5 1209v7M687 1220.5h7M690.5 1217v7M690 1218.5h7M693.5 1215v7M693 1222.5h7M696.5 1219v7M699 1216.5h7M702.5 1213v7M700 1220.5h7M703.5 1217v7M689 1230.5h7M692.5 1227v7M693 1231.5h7M696.5 1228v7M695 1233.5h7M698.5 1230v7M694 1237.5h7M697.5 1234v7M700 1228.5h7M703.5 1225v7M698 1226.5h7M701.5 1223v7M688 1202.5h7M691.5 1199v7M688 1208.5h7M691.5 1205v7M709 1230.5h7M712.5 1227v7M708 1235.5h7M711.5 1232v7M708 1243.5h7M711.5 1240v7M712 1245.5h7M715.5 1242v7M709 1250.5h7M712.5 1247v7M703 1253.5h7M706.5 1250v7M703 1262.5h7M706.5 1259v7M705 1267.5h7M708.5 1264v7M705 1276.5h7M708.5 1273v7M712 1265.5h7M715.5 1262v7M715 1255.5h7M718.5 1252v7M718 1267.5h7M721.5 1264v7M722 1266.5h7M725.5 1263v7M720 1253.5h7M723.5 1250v7M724 1248.5h7M727.5 1245v7M727 1240.5h7M730.5 1237v7M729 1237.5h7M732.5 1234v7M730 1226.5h7M733.5 1223v7M735 1220.5h7M738.5 1217v7M739 1227.5h7M742.5 1224v7M738 1232.5h7M741.5 1229v7M742 1216.5h7M745.5 1213v7M743 1210.5h7M746.5 1207v7M747 1218.5h7M750.5 1215v7M748 1228.5h7M751.5 1225v7M743 1201.5h7M746.5 1198v7M749 1202.5h7M752.5 1199v7M750 1197.5h7M753.5 1194v7M752 1191.5h7M755.5 1188v7M702 1260.5h7M705.5 1257v7M704 1265.5h7M707.5 1262v7M714 1252.5h7M717.5 1249v7M717 1268.5h7M720.5 1265v7M719 1265.5h7M722.5 1262v7M723 1252.5h7M726.5 1249v7M725 1245.5h7M728.5 1242v7M728 1242.5h7M731.5 1239v7M732 1223.5h7M735.5 1220v7M733 1227.5h7M736.5 1224v7M737 1225.5h7M740.5 1222v7M740 1220.5h7M743.5 1217v7M744 1213.5h7M747.5 1210v7M745 1222.5h7M748.5 1219v7M749 1200.5h7M752.5 1197v7M750 1193.5h7M753.5 1190v7M752 1185.5h7M755.5 1182v7M753 1180.5h7M756.5 1177v7M754 1170.5h7M757.5 1167v7M755 1162.5h7M758.5 1159v7M755 1156.5h7M758.5 1153v7M756 1148.5h7M759.5 1145v7M757 1139.5h7M760.5 1136v7M758 1135.5h7M761.5 1132v7M759 1125.5h7M762.5 1122v7M760 1118.5h7M763.5 1115v7M760 1112.5h7M763.5 1109v7M762 1109.5h7M765.5 1106v7M762 1102.5h7M765.5 1099v7M761 1096.5h7M764.5 1093v7M733 1094.5h7M736.5 1091v7M734 1160.5h7M737.5 1157v7M734 1185.5h7M737.5 1182v7M735 1188.5h7M738.5 1185v7M759 1110.5h7M762.5 1107v7M761 1113.5h7M764.5 1110v7M758 1136.5h7M761.5 1133v7M756 1151.5h7M759.5 1148v7M755 1158.5h7M758.5 1155v7M753 1177.5h7M756.5 1174v7M752 1190.5h7M755.5 1187v7M624 1249.5h7M627.5 1246v7M616 1253.5h7M619.5 1250v7M620 1263.5h7M623.5 1260v7M615 1266.5h7M618.5 1263v7M622 1267.5h7M625.5 1264v7M626 1274.5h7M629.5 1271v7M628 1273.5h7M631.5 1270v7M628 1277.5h7M631.5 1274v7M625 1281.5h7M628.5 1278v7M633 1283.5h7M636.5 1280v7M638 1281.5h7M641.5 1278v7M631 1290.5h7M634.5 1287v7M633 1295.5h7M636.5 1292v7M634 1266.5h7M637.5 1263v7M637 1278.5h7M640.5 1275v7M648 1275.5h7M651.5 1272v7M645 1269.5h7M648.5 1266v7M647 1270.5h7M650.5 1267v7M643 1281.5h7M646.5 1278v7M645 1285.5h7M648.5 1282v7M650 1274.5h7M653.5 1271v7M653 1260.5h7M656.5 1257v7M657 1277.5h7M660.5 1274v7M659 1284.5h7M662.5 1281v7M657 1279.5h7M660.5 1276v7M663 1258.5h7M666.5 1255v7M663 1255.5h7M666.5 1252v7M668 1247.5h7M671.5 1244v7M668 1247.5h7M671.5 1244v7M670 1239.5h7M673.5 1236v7M664 1234.5h7M667.5 1231v7M676 1230.5h7M679.5 1227v7M688 1219.5h7M691.5 1216v7M691 1221.5h7M694.5 1218v7M694 1221.5h7M697.5 1218v7M684 1225.5h7M687.5 1222v7M689 1242.5h7M692.5 1239v7M694 1218.5h7M697.5 1215v7M697 1229.5h7M700.5 1226v7M695 1232.5h7M698.5 1229v7M712 1231.5h7M715.5 1228v7M699 1258.5h7M702.5 1255v7M709 1270.5h7M712.5 1267v7M717 1254.5h7M720.5 1251v7M718 1272.5h7M721.5 1269v7M718 1260.5h7M721.5 1257v7M723 1248.5h7M726.5 1245v7M730 1235.5h7M733.5 1232v7M709 1264.5h7M712.5 1261v7M711 1256.5h7M714.5 1253v7M718 1265.5h7M721.5 1262v7M720 1254.5h7M723.5 1251v7" stroke="#9400d3" stroke-width="1" fill="none"/>
<path d="M641 1494.5h7M644.5 1491v7M649 1494.5h7M652.5 1491v7M653 1497.5h7M656.5 1494v7M659 1494.5h7M662.5 1491v7M663 1492.5h7M666.5 1489v7M669 1492.5h7M672.5 1489v7M672 1497.5h7M675.5 1494v7M645 1500.5h7M648.5 1497v7M649 1501.5h7M652.5 1498v7M652 1500.5h7M655.5 1497v7M647 1503.5h7M650.5 1500v7M662 1502.5h7M665.5 1499v7M659 1506.5h7M662.5 1503v7M629 1503.5h7M632.5 1500v7M630 1506.5h7M633.5 1503v7M639 1506.5h7M642.5 1503v7M621 1508.5h7M624.5 1505v7M605 1513.5h7M608.5 1510v7M645 1515.5h7M648.5 1512v7M649 1512.5h7M652.5 1509v7M653 1511.5h7M656.5 1508v7M654 1513.5h7M657.5 1510v7M657 1510.5h7M660.5 1507v7M657 1520.5h7M660.5 1517v7M654 1522.5h7M657.5 1519v7M660 1518.5h7M663.5 1515v7M667 1520.5h7M670.5 1517v7M669 1511.5h7M672.5 1508v7M674 1511.5h7M677.5 1508v7M684 1501.5h7M687.5 1498v7M690 1505.5h7M693.5 1502v7M690 1518.5h7M693.5 1515v7M607 1520.5h7M610.5 1517v7M627 1520.5h7M630.5 1517v7M630 1520.5h7M633.5 1517v7M635 1522.5h7M638.5 1519v7M642 1521.5h7M645.5 1518v7M642 1525.5h7M645.5 1522v7M617 1525.5h7M620.5 1522v7M613 1530.5h7M616.5 1527v7M614 1533.5h7M617.5 1530v7M617 1535.5h7M620.5 1532v7M619 1536.5h7M622.5 1533v7M627 1531.5h7M630.5 1528v7M629 1530.5h7M632.5 1527v7M633 1530.5h7M636.5 1527v7M637 1532.5h7M640.5 1529v7M639 1527.5h7M642.5 1524v7M638 1531.5h7M641.5 1528v7M634 1537.5h7M637.5 1534v7M629 1537.5h7M632.5 1534v7M644 1537.5h7M647.5 1534v7M647 1535.5h7M650.5 1532v7M652 1533.5h7M655.5 1530v7M657 1537.5h7M660.5 1534v7M660 1528.5h7M663.5 1525v7M664 1528.5h7M667.5 1525v7M668 1530.5h7M671.5 1527v7M674 1526.5h7M677.5 1523v7M673 1530.5h7M676.5 1527v7M665 1537.5h7M668.5 1534v7M606 1542.5h7M609.5 1539v7M614 1545.5h7M617.5 1542v7M617 1546.5h7M620.5 1543v7M622 1541.5h7M625.5 1538v7M624 1542.5h7M627.5 1539v7M629 1545.5h7M632.5 1542v7M633 1543.5h7M636.5 1540v7M634 1546.5h7M637.5 1543v7M642 1542.5h7M645.5 1539v7M644 1540.5h7M647.5 1537v7M649 1541.5h7M652.5 1538v7M648 1547.5h7M651.5 1544v7M610 1551.5h7M613.5 1548v7M613 1552.5h7M616.5 1549v7M620 1550.5h7M623.5 1547v7M623 1552.5h7M626.5 1549v7M628 1553.5h7M631.5 1550v7M632 1552.5h7M635.5 1549v7M637 1553.5h7M640.5 1550v7M644 1555.5h7M647.5 1552v7M606 1556.5h7M609.5 1553v7M613 1557.5h7M616.5 1554v7M620 1557.5h7M623.5 1554v7M609 1561.5h7M612.5 1558v7M617 1563.5h7M620.5 1560v7M623 1562.5h7M626.5 1559v7M628 1566.5h7M631.5 1563v7M635 1562.5h7M638.5 1559v7M633 1568.5h7M636.5 1565v7M609 1566.5h7M612.5 1563v7M610 1576.5h7M613.5 1573v7M614 1580.5h7M617.5 1577v7M623 1572.5h7M626.5 1569v7M624 1576.5h7M627.5 1573v7M621 1584.5h7M624.5 1581v7M644 1581.5h7M647.5 1578v7M612 1600.5h7M615.5 1597v7M607 1543.5h7M610.5 1540v7M608 1566.5h7M611.5 1563v7M624 1562.5h7M627.5 1559v7M739 1394.5h7M742.5 1391v7M722 1404.5h7M725.5 1401v7M701 1403.5h7M704.5 1400v7M688 1398.5h7M691.5 1395v7M688 1405.5h7M691.5 1402v7M687 1416.5h7M690.5 1413v7M690 1424.5h7M693.5 1421v7M698 1418.5h7M701.5 1415v7M703 1420.5h7M706.5 1417v7M703 1425.5h7M706.5 1422v7M705 1427.5h7M708.5 1424v7M716 1416.5h7M719.5 1413v7M722 1416.5h7M725.5 1413v7M724 1414.5h7M727.5 1411v7M727 1416.5h7M730.5 1413v7M728 1421.5h7M731.5 1418v7M734 1420.5h7M737.5 1417v7M719 1428.5h7M722.5 1425v7M724 1430.5h7M727.5 1427v7M729 1430.5h7M732.5 1427v7M730 1432.5h7M733.5 1429v7M735 1430.5h7M738.5 1427v7M733 1435.5h7M736.5 1432v7M741 1437.5h7M744.5 1434v7M730 1441.5h7M733.5 1438v7M700 1432.5h7M703.5 1429v7M690 1436.5h7M693.5 1433v7M696 1441.5h7M699.5 1438v7M702 1441.5h7M705.5 1438v7M707 1435.5h7M710.5 1432v7M712 1432.5h7M715.5 1429v7M714 1437.5h7M717.5 1434v7M718 1438.5h7M721.5 1435v7M709 1445.5h7M712.5 1442v7M712 1447.5h7M715.5 1444v7M717 1445.5h7M720.5 1442v7M699 1446.5h7M702.5 1443v7M688 1445.5h7M691.5 1442v7M718 1452.5h7M721.5 1449v7M723 1451.5h7M726.5 1448v7M725 1450.5h7M728.5 1447v7M732 1450.5h7M735.5 1447v7M738 1450.5h7M741.5 1447v7M728 1457.5h7M731.5 1454v7M733 1458.5h7M736.5 1455v7M739 1457.5h7M742.5 1454v7M751 1455.5h7M754.5 1452v7M694 1457.5h7M697.5 1454v7M699 1456.5h7M702.5 1453v7M705 1455.5h7M708.5 1452v7M693 1461.5h7M696.5 1458v7M697 1465.5h7M700.5 1462v7M705 1466.5h7M708.5 1463v7M719 1463.5h7M722.5 1460v7M723 1465.5h7M726.5 1462v7M727 1468.5h7M730.5 1465v7M732 1463.5h7M735.5 1460v7M738 1463.5h7M741.5 1460v7M742 1462.5h7M745.5 1459v7M750 1466.5h7M753.5 1463v7M735 1473.5h7M738.5 1470v7M739 1473.5h7M742.5 1470v7M743 1472.5h7M746.5 1469v7M745 1470.5h7M748.5 1467v7M697 1473.5h7M700.5 1470v7M700 1476.5h7M703.5 1473v7M692 1480.5h7M695.5 1477v7M695 1482.5h7M698.5 1479v7M715 1481.5h7M718.5 1478v7M721 1483.5h7M724.5 1480v7M734 1483.5h7M737.5 1480v7M739 1477.5h7M742.5 1474v7M744 1480.5h7M747.5 1477v7M748 1481.5h7M751.5 1478v7M752 1476.5h7M755.5 1473v7M757 1478.5h7M760.5 1475v7M754 1486.5h7M757.5 1483v7M745 1485.5h7M748.5 1482v7M742 1487.5h7M745.5 1484v7M710 1435.5h7M713.5 1432v7M708 1442.5h7M711.5 1439v7M713 1440.5h7M716.5 1437v7M688 1398.5h7M691.5 1395v7M690 1401.5h7M693.5 1398v7M687 1406.5h7M690.5 1403v7M687 1416.5h7M690.5 1413v7M689 1424.5h7M692.5 1421v7M686 1429.5h7M689.5 1426v7M690 1436.5h7M693.5 1433v7M670 1444.5h7M673.5 1441v7M683 1445.5h7M686.5 1442v7M687 1445.5h7M690.5 1442v7M685 1448.5h7M688.5 1445v7M664 1456.5h7M667.5 1453v7M666 1458.5h7M669.5 1455v7M673 1454.5h7M676.5 1451v7M677 1456.5h7M680.5 1453v7M679 1452.5h7M682.5 1449v7M673 1461.5h7M676.5 1458v7M681 1461.5h7M684.5 1458v7M684 1463.5h7M687.5 1460v7M680 1472.5h7M683.5 1469v7M684 1471.5h7M687.5 1468v7M685 1474.5h7M688.5 1471v7M692 1480.5h7M695.5 1477v7M664 1478.5h7M667.5 1475v7M667 1480.5h7M670.5 1477v7M669 1482.5h7M672.5 1479v7M677 1477.5h7M680.5 1474v7M679 1480.5h7M682.5 1477v7M678 1482.5h7M681.5 1479v7M680 1483.5h7M683.5 1480v7M662 1485.5h7M665.5 1482v7M665 1487.5h7M668.5 1484v7M670 1488.5h7M673.5 1485v7M679 1487.5h7M682.5 1484v7M664 1491.5h7M667.5 1488v7M669 1490.5h7M672.5 1487v7M642 1493.5h7M645.5 1490v7M650 1493.5h7M653.5 1490v7M659 1493.5h7M662.5 1490v7M694 1485.5h7M697.5 1482v7M721 1485.5h7M724.5 1482v7M734 1485.5h7M737.5 1482v7M739 1486.5h7M742.5 1483v7M742 1488.5h7M745.5 1485v7M745 1486.5h7M748.5 1483v7M748 1487.5h7M751.5 1484v7M749 1491.5h7M752.5 1488v7M752 1490.5h7M755.5 1487v7M754 1488.5h7M757.5 1485v7M757 1491.5h7M760.5 1488v7M759 1492.5h7M762.5 1489v7M749 1494.5h7M752.5 1491v7M752 1496.5h7M755.5 1493v7M755 1497.5h7M758.5 1494v7M759 1500.5h7M762.5 1497v7M750 1500.5h7M753.5 1497v7M693 1495.5h7M696.5 1492v7M691 1504.5h7M694.5 1501v7M692 1513.5h7M695.5 1510v7M692 1519.5h7M695.5 1516v7M745 1506.5h7M748.5 1503v7M748 1507.5h7M751.5 1504v7M753 1513.5h7M756.5 1510v7M757 1521.5h7M760.5 1518v7M760 1522.5h7M763.5 1519v7M763 1518.5h7M766.5 1515v7M760 1525.5h7M763.5 1522v7M765 1531.5h7M768.5 1528v7M758 1537.5h7M761.5 1534v7M762 1538.5h7M765.5 1535v7M763 1542.5h7M766.5 1539v7M765 1543.5h7M768.5 1540v7M764 1547.5h7M767.5 1544v7M761 1557.5h7M764.5 1554v7M689 1424.5h7M692.5 1421v7M686 1429.5h7M689.5 1426v7M690 1436.5h7M693.5 1433v7M670 1444.5h7M673.5 1441v7M684 1445.5h7M687.5 1442v7M688 1444.5h7M691.5 1441v7M685 1447.5h7M688.5 1444v7M700 1420.5h7M703.5 1417v7M703 1424.5h7M706.5 1421v7M705 1426.5h7M708.5 1423v7M700 1432.5h7M703.5 1429v7M709 1432.5h7M712.5 1429v7M712 1435.5h7M715.5 1432v7M708 1436.5h7M711.5 1433v7M714 1438.5h7M717.5 1435v7M717 1437.5h7M720.5 1434v7M705 1440.5h7M708.5 1437v7M702 1442.5h7M705.5 1439v7M697 1442.5h7M700.5 1439v7M699 1446.5h7M702.5 1443v7M709 1445.5h7M712.5 1442v7M713 1445.5h7M716.5 1442v7M715 1443.5h7M718.5 1440v7M719 1446.5h7M722.5 1443v7M722 1451.5h7M725.5 1448v7M725 1450.5h7M728.5 1447v7M728 1430.5h7M731.5 1427v7M730 1428.5h7M733.5 1425v7M734 1430.5h7M737.5 1427v7M719 1428.5h7M722.5 1425v7M727 1421.5h7M730.5 1418v7M734 1421.5h7M737.5 1418v7M733 1435.5h7M736.5 1432v7M742 1437.5h7M745.5 1434v7M730 1441.5h7M733.5 1438v7M733 1450.5h7M736.5 1447v7M738 1450.5h7M741.5 1447v7M665 1456.5h7M668.5 1453v7M673 1453.5h7M676.5 1450v7M678 1453.5h7M681.5 1450v7M677 1457.5h7M680.5 1454v7M674 1461.5h7M677.5 1458v7M682 1461.5h7M685.5 1458v7M684 1463.5h7M687.5 1460v7M693 1461.5h7M696.5 1458v7M695 1457.5h7M698.5 1454v7M700 1456.5h7M703.5 1453v7M704 1455.5h7M707.5 1452v7M697 1465.5h7M700.5 1462v7M705 1466.5h7M708.5 1463v7M720 1463.5h7M723.5 1460v7M723 1465.5h7M726.5 1462v7M727 1467.5h7M730.5 1464v7M727 1458.5h7M730.5 1455v7M733 1458.5h7M736.5 1455v7M739 1460.5h7M742.5 1457v7M737 1465.5h7M740.5 1462v7M742 1463.5h7M745.5 1460v7M728 1470.5h7M731.5 1467v7M682 1471.5h7M685.5 1468v7M684 1472.5h7M687.5 1469v7M678 1477.5h7M681.5 1474v7M680 1480.5h7M683.5 1477v7M667 1478.5h7M670.5 1475v7M663 1485.5h7M666.5 1482v7M669 1487.5h7M672.5 1484v7M672 1485.5h7M675.5 1482v7M695 1475.5h7M698.5 1472v7M700 1476.5h7M703.5 1473v7M694 1481.5h7M697.5 1478v7M692 1480.5h7M695.5 1477v7M714 1481.5h7M717.5 1478v7M720 1482.5h7M723.5 1479v7M737 1473.5h7M740.5 1470v7M740 1472.5h7M743.5 1469v7M743 1475.5h7M746.5 1472v7M738 1478.5h7M741.5 1475v7M742 1480.5h7M745.5 1477v7M734 1482.5h7M737.5 1479v7M740 1486.5h7M743.5 1483v7M659 1495.5h7M662.5 1492v7M650 1495.5h7M653.5 1492v7M693 1495.5h7M696.5 1492v7" stroke="#9400d3" stroke-width="1" fill="none"/>
<path d="M733.42 1859.46l2.6 2.6l-2.6 2.6l-2.6 -2.6zM722.15 1858.35l2.6 2.6l-2.6 2.6l-2.6 -2.6zM709.65 1851.5l2.6 2.6l-2.6 2.6l-2.6 -2.6zM676.9 1853.8l2.6 2.6l-2.6 2.6l-2.6 -2.6zM761.41 1858.82l2.6 2.6l-2.6 2.6l-2.6 -2.6zM641.16 1864.11l2.6 2.6l-2.6 2.6l-2.6 -2.6zM766.85 1851.84l2.6 2.6l-2.6 2.6l-2.6 -2.6zM744.91 1859.21l2.6 2.6l-2.6 2.6l-2.6 -2.6zM645.02 1865.28l2.6 2.6l-2.6 2.6l-2.6 -2.6zM760.76 1860.13l2.6 2.6l-2.6 2.6l-2.6 -2.6zM679.74 1857.07l2.6 2.6l-2.6 2.6l-2.6 -2.6zM679.57 1856.48l2.6 2.6l-2.6 2.6l-2.6 -2.6zM651.12 1863.6l2.6 2.6l-2.6 2.6l-2.6 -2.6zM730.28 1859.05l2.6 2.6l-2.6 2.6l-2.6 -2.6zM677.97 1858.12l2.6 2.6l-2.6 2.6l-2.6 -2.6zM733.98 1852.69l2.6 2.6l-2.6 2.6l-2.6 -2.6zM724.36 1856.66l2.6 2.6l-2.6 2.6l-2.6 -2.6zM697.25 1854.2l2.6 2.6l-2.6 2.6l-2.6 -2.6zM642.07 1860.18l2.6 2.6l-2.6 2.6l-2.6 -2.6zM711.36 1851.96l2.6 2.6l-2.6 2.6l-2.6 -2.6zM612.25 1874.69l2.6 2.6l-2.6 2.6l-2.6 -2.6zM755.55 1858.86l2.6 2.6l-2.6 2.6l-2.6 -2.6zM701.68 1853.46l2.6 2.6l-2.6 2.6l-2.6 -2.6zM739.23 1855.95l2.6 2.6l-2.6 2.6l-2.6 -2.6zM710.03 1853.23l2.6 2.6l-2.6 2.6l-2.6 -2.6zM712.02 1857.57l2.6 2.6l-2.6 2.6l-2.6 -2.6zM721.92 1849.91l2.6 2.6l-2.6 2.6l-2.6 -2.6zM703.46 1849.2l2.6 2.6l-2.6 2.6l-2.6 -2.6zM755.31 1855.9l2.6 2.6l-2.6 2.6l-2.6 -2.6zM611.88 1869.05l2.6 2.6l-2.6 2.6l-2.6 -2.6zM663.61 1859.49l2.6 2.6l-2.6 2.6l-2.6 -2.6zM699.21 1852.62l2.6 2.6l-2.6 2.6l-2.6 -2.6zM617.01 1871.2l2.6 2.6l-2.6 2.6l-2.6 -2.6zM670.16 1858.18l2.6 2.6l-2.6 2.6l-2.6 -2.6zM728.74 1852.93l2.6 2.6l-2.6 2.6l-2.6 -2.6zM654.16 1857.62l2.6 2.6l-2.6 2.6l-2.6 -2.6zM676.61 1856.75l2.6 2.6l-2.6 2.6l-2.6 -2.6zM730.07 1855l2.6 2.6l-2.6 2.6l-2.6 -2.6zM737.06 1859.93l2.6 2.6l-2.6 2.6l-2.6 -2.6zM734.38 1854.11l2.6 2.6l-2.6 2.6l-2.6 -2.6zM631.36 1861.68l2.6 2.6l-2.6 2.6l-2.6 -2.6zM660.92 1862.42l2.6 2.6l-2.6 2.6l-2.6 -2.6zM718.77 1852.93l2.6 2.6l-2.6 2.6l-2.6 -2.6zM704.9 1857.15l2.6 2.6l-2.6 2.6l-2.6 -2.6zM741.48 1855.59l2.6 2.6l-2.6 2.6l-2.6 -2.6zM765.59 1859.15l2.6 2.6l-2.6 2.6l-2.6 -2.6zM656.69 1857.87l2.6 2.6l-2.6 2.6l-2.6 -2.6zM755.2 1857.38l2.6 2.6l-2.6 2.6l-2.6 -2.6zM723.73 1853.36l2.6 2.6l-2.6 2.6l-2.6 -2.6zM653.7 1863.57l2.6 2.6l-2.6 2.6l-2.6 -2.6zM767.75 1855.28l2.6 2.6l-2.6 2.6l-2.6 -2.6zM730.22 1858.56l2.6 2.6l-2.6 2.6l-2.6 -2.6zM728.14 1845.65l2.6 2.6l-2.6 2.6l-2.6 -2.6zM622.23 1866.72l2.6 2.6l-2.6 2.6l-2.6 -2.6zM699.7 1859.46l2.6 2.6l-2.6 2.6l-2.6 -2.6zM718.6 1850.96l2.6 2.6l-2.6 2.6l-2.6 -2.6zM704.22 1854.11l2.6 2.6l-2.6 2.6l-2.6 -2.6zM731.37 1854.73l2.6 2.6l-2.6 2.6l-2.6 -2.6zM703.05 1851.6l2.6 2.6l-2.6 2.6l-2.6 -2.6zM619.19 1866.77l2.6 2.6l-2.6 2.6l-2.6 -2.6zM710.26 1851.42l2.6 2.6l-2.6 2.6l-2.6 -2.6zM639.57 1863.58l2.6 2.6l-2.6 2.6l-2.6 -2.6zM746.66 1858.47l2.6 2.6l-2.6 2.6l-2.6 -2.6zM718.27 1856.92l2.6 2.6l-2.6 2.6l-2.6 -2.6zM727.53 1849.72l2.6 2.6l-2.6 2.6l-2.6 -2.6zM694.47 1851.49l2.6 2.6l-2.6 2.6l-2.6 -2.6zM756.94 1856.6l2.6 2.6l-2.6 2.6l-2.6 -2.6zM720.58 1851.98l2.6 2.6l-2.6 2.6l-2.6 -2.6zM669.14 1855.48l2.6 2.6l-2.6 2.6l-2.6 -2.6zM700.02 1852.82l2.6 2.6l-2.6 2.6l-2.6 -2.6zM737.18 1857.89l2.6 2.6l-2.6 2.6l-2.6 -2.6zM714.85 1855.19l2.6 2.6l-2.6 2.6l-2.6 -2.6zM613.1 1873.25l2.6 2.6l-2.6 2.6l-2.6 -2.6zM675.99 1852.93l2.6 2.6l-2.6 2.6l-2.6 -2.6zM667.92 1856.91l2.6 2.6l-2.6 2.6l-2.6 -2.6zM613.98 1870.02l2.6 2.6l-2.6 2.6l-2.6 -2.6zM758.46 1855.88l2.6 2.6l-2.6 2.6l-2.6 -2.6zM704.8 1852.44l2.6 2.6l-2.6 2.6l-2.6 -2.6zM763.53 1852.84l2.6 2.6l-2.6 2.6l-2.6 -2.6zM644.11 1864.37l2.6 2.6l-2.6 2.6l-2.6 -2.6zM659.16 1857.52l2.6 2.6l-2.6 2.6l-2.6 -2.6zM651.35 1858.92l2.6 2.6l-2.6 2.6l-2.6 -2.6zM620.08 1867.95l2.6 2.6l-2.6 2.6l-2.6 -2.6zM674.82 1858.46l2.6 2.6l-2.6 2.6l-2.6 -2.6zM611.85 1871.89l2.6 2.6l-2.6 2.6l-2.6 -2.6zM749.06 1854.76l2.6 2.6l-2.6 2.6l-2.6 -2.6zM754.81 1857.73l2.6 2.6l-2.6 2.6l-2.6 -2.6zM698.34 1857.77l2.6 2.6l-2.6 2.6l-2.6 -2.6zM733.27 1850.75l2.6 2.6l-2.6 2.6l-2.6 -2.6zM737.63 1856.51l2.6 2.6l-2.6 2.6l-2.6 -2.6zM630.09 1866.06l2.6 2.6l-2.6 2.6l-2.6 -2.6zM614.62 1869.83l2.6 2.6l-2.6 2.6l-2.6 -2.6zM671.14 1855.09l2.6 2.6l-2.6 2.6l-2.6 -2.6zM767.82 1855.63l2.6 2.6l-2.6 2.6l-2.6 -2.6zM706.27 1850.79l2.6 2.6l-2.6 2.6l-2.6 -2.6zM717.75 1857.85l2.6 2.6l-2.6 2.6l-2.6 -2.6zM676.33 1852.13l2.6 2.6l-2.6 2.6l-2.6 -2.6zM692.21 1855.94l2.6 2.6l-2.6 2.6l-2.6 -2.6zM658.78 1861.05l2.6 2.6l-2.6 2.6l-2.6 -2.6zM698.83 1855.71l2.6 2.6l-2.6 2.6l-2.6 -2.6zM654.26 1854.12l2.6 2.6l-2.6 2.6l-2.6 -2.6zM638.56 1860.7l2.6 2.6l-2.6 2.6l-2.6 -2.6zM622.49 1868.97l2.6 2.6l-2.6 2.6l-2.6 -2.6zM714.97 1854.01l2.6 2.6l-2.6 2.6l-2.6 -2.6zM651.02 1856.86l2.6 2.6l-2.6 2.6l-2.6 -2.6zM684.78 1855.65l2.6 2.6l-2.6 2.6l-2.6 -2.6zM651.68 1859.22l2.6 2.6l-2.6 2.6l-2.6 -2.6zM766.5 1856.31l2.6 2.6l-2.6 2.6l-2.6 -2.6zM652.63 1858.24l2.6 2.6l-2.6 2.6l-2.6 -2.6zM753.03 1853.13l2.6 2.6l-2.6 2.6l-2.6 -2.6zM661.42 1859.68l2.6 2.6l-2.6 2.6l-2.6 -2.6zM660.79 1860.58l2.6 2.6l-2.6 2.6l-2.6 -2.6zM611.69 1867.81l2.6 2.6l-2.6 2.6l-2.6 -2.6zM651.3 1859.66l2.6 2.6l-2.6 2.6l-2.6 -2.6zM742.67 1854.51l2.6 2.6l-2.6 2.6l-2.6 -2.6zM616.34 1867.16l2.6 2.6l-2.6 2.6l-2.6 -2.6zM624.86 1870.35l2.6 2.6l-2.6 2.6l-2.6 -2.6zM752.83 1858l2.6 2.6l-2.6 2.6l-2.6 -2.6zM666.23 1857.85l2.6 2.6l-2.6 2.6l-2.6 -2.6zM625.88 1864l2.6 2.6l-2.6 2.6l-2.6 -2.6zM724.42 1849.82l2.6 2.6l-2.6 2.6l-2.6 -2.6zM683.65 1854.83l2.6 2.6l-2.6 2.6l-2.6 -2.6zM692.11 1856.6l2.6 2.6l-2.6 2.6l-2.6 -2.6zM664.79 1858.5l2.6 2.6l-2.6 2.6l-2.6 -2.6zM753.47 1854.46l2.6 2.6l-2.6 2.6l-2.6 -2.6zM683.83 1856.93l2.6 2.6l-2.6 2.6l-2.6 -2.6zM691.88 1856.18l2.6 2.6l-2.6 2.6l-2.6 -2.6zM761.3 1859.34l2.6 2.6l-2.6 2.6l-2.6 -2.6zM664.26 1856.67l2.6 2.6l-2.6 2.6l-2.6 -2.6zM712.49 1854.01l2.6 2.6l-2.6 2.6l-2.6 -2.6zM696.43 1851.97l2.6 2.6l-2.6 2.6l-2.6 -2.6zM699.22 1855.19l2.6 2.6l-2.6 2.6l-2.6 -2.6zM667.33 1862.62l2.6 2.6l-2.6 2.6l-2.6 -2.6zM697.94 1853.99l2.6 2.6l-2.6 2.6l-2.6 -2.6zM660.73 1862.23l2.6 2.6l-2.6 2.6l-2.6 -2.6zM619.7 1865.57l2.6 2.6l-2.6 2.6l-2.6 -2.6zM698.19 1855.44l2.6 2.6l-2.6 2.6l-2.6 -2.6zM718.4 1851.07l2.6 2.6l-2.6 2.6l-2.6 -2.6zM757.73 1856.73l2.6 2.6l-2.6 2.6l-2.6 -2.6zM748.43 1857.38l2.6 2.6l-2.6 2.6l-2.6 -2.6zM683.54 1854.32l2.6 2.6l-2.6 2.6l-2.6 -2.6zM625.89 1865.38l2.6 2.6l-2.6 2.6l-2.6 -2.6zM658.96 1854.06l2.6 2.6l-2.6 2.6l-2.6 -2.6zM635.91 1865.82l2.6 2.6l-2.6 2.6l-2.6 -2.6zM734.58 1849.82l2.6 2.6l-2.6 2.6l-2.6 -2.6zM678.24 1852.57l2.6 2.6l-2.6 2.6l-2.6 -2.6zM723.54 1851.93l2.6 2.6l-2.6 2.6l-2.6 -2.6zM703.14 1854.29l2.6 2.6l-2.6 2.6l-2.6 -2.6zM709.5 1855.57l2.6 2.6l-2.6 2.6l-2.6 -2.6zM760.14 1855.97l2.6 2.6l-2.6 2.6l-2.6 -2.6zM725.84 1855.97l2.6 2.6l-2.6 2.6l-2.6 -2.6zM614.25 1870.82l2.6 2.6l-2.6 2.6l-2.6 -2.6zM650.21 1860.9l2.6 2.6l-2.6 2.6l-2.6 -2.6zM698.46 1855.93l2.6 2.6l-2.6 2.6l-2.6 -2.6zM748.59 1859.34l2.6 2.6l-2.6 2.6l-2.6 -2.6zM732.11 1856.09l2.6 2.6l-2.6 2.6l-2.6 -2.6zM758.31 1853.17l2.6 2.6l-2.6 2.6l-2.6 -2.6zM654.02 1865.49l2.6 2.6l-2.6 2.6l-2.6 -2.6zM721.4 1856.71l2.6 2.6l-2.6 2.6l-2.6 -2.6zM715.78 1854.63l2.6 2.6l-2.6 2.6l-2.6 -2.6zM669.08 1856.52l2.6 2.6l-2.6 2.6l-2.6 -2.6zM653.11 1859.17l2.6 2.6l-2.6 2.6l-2.6 -2.6zM721.72 1855.82l2.6 2.6l-2.6 2.6l-2.6 -2.6zM649.22 1861.81l2.6 2.6l-2.6 2.6l-2.6 -2.6zM646.74 1864.54l2.6 2.6l-2.6 2.6l-2.6 -2.6zM732.7 1851.9l2.6 2.6l-2.6 2.6l-2.6 -2.6zM735.34 1857.36l2.6 2.6l-2.6 2.6l-2.6 -2.6zM749.64 1858.47l2.6 2.6l-2.6 2.6l-2.6 -2.6zM643.72 1861.07l2.6 2.6l-2.6 2.6l-2.6 -2.6zM666.76 1859.72l2.6 2.6l-2.6 2.6l-2.6 -2.6zM633.73 1862.66l2.6 2.6l-2.6 2.6l-2.6 -2.6zM658.61 1860.42l2.6 2.6l-2.6 2.6l-2.6 -2.6zM728.01 1860.91l2.6 2.6l-2.6 2.6l-2.6 -2.6zM713 1850.56l2.6 2.6l-2.6 2.6l-2.6 -2.6zM678.12 1854.31l2.6 2.6l-2.6 2.6l-2.6 -2.6zM752.6 1857.55l2.6 2.6l-2.6 2.6l-2.6 -2.6zM660.61 1861.56l2.6 2.6l-2.6 2.6l-2.6 -2.6zM655.28 1864.89l2.6 2.6l-2.6 2.6l-2.6 -2.6zM625.46 1868.2l2.6 2.6l-2.6 2.6l-2.6 -2.6zM627.43 1863.47l2.6 2.6l-2.6 2.6l-2.6 -2.6zM624.56 1865.99l2.6 2.6l-2.6 2.6l-2.6 -2.6zM756.27 1859.37l2.6 2.6l-2.6 2.6l-2.6 -2.6zM733.93 1860.15l2.6 2.6l-2.6 2.6l-2.6 -2.6zM739.95 1857.41l2.6 2.6l-2.6 2.6l-2.6 -2.6zM695.18 1852.09l2.6 2.6l-2.6 2.6l-2.6 -2.6zM624.18 1865.33l2.6 2.6l-2.6 2.6l-2.6 -2.6zM752.77 1857.08l2.6 2.6l-2.6 2.6l-2.6 -2.6zM699.72 1853.15l2.6 2.6l-2.6 2.6l-2.6 -2.6zM721.33 1855.5l2.6 2.6l-2.6 2.6l-2.6 -2.6zM697.56 1853.78l2.6 2.6l-2.6 2.6l-2.6 -2.6zM620.19 1870.11l2.6 2.6l-2.6 2.6l-2.6 -2.6zM676.45 1855.88l2.6 2.6l-2.6 2.6l-2.6 -2.6zM694.08 1852.49l2.6 2.6l-2.6 2.6l-2.6 -2.6zM761.42 1858.14l2.6 2.6l-2.6 2.6l-2.6 -2.6zM693.81 1854.39l2.6 2.6l-2.6 2.6l-2.6 -2.6zM725.52 1853.42l2.6 2.6l-2.6 2.6l-2.6 -2.6zM759.79 1855.57l2.6 2.6l-2.6 2.6l-2.6 -2.6zM662.02 1859.6l2.6 2.6l-2.6 2.6l-2.6 -2.6zM633.45 1857.96l2.6 2.6l-2.6 2.6l-2.6 -2.6zM700.66 1853.19l2.6 2.6l-2.6 2.6l-2.6 -2.6zM762.62 1854.79l2.6 2.6l-2.6 2.6l-2.6 -2.6zM748.45 1858.26l2.6 2.6l-2.6 2.6l-2.6 -2.6zM614.9 1869.04l2.6 2.6l-2.6 2.6l-2.6 -2.6zM704.6 1858.02l2.6 2.6l-2.6 2.6l-2.6 -2.6zM665.46 1861.75l2.6 2.6l-2.6 2.6l-2.6 -2.6zM677.14 1859.76l2.6 2.6l-2.6 2.6l-2.6 -2.6zM650.88 1863.46l2.6 2.6l-2.6 2.6l-2.6 -2.6zM686.46 1860.72l2.6 2.6l-2.6 2.6l-2.6 -2.6zM665.4 1862.03l2.6 2.6l-2.6 2.6l-2.6 -2.6zM698.79 1857.28l2.6 2.6l-2.6 2.6l-2.6 -2.6zM700.96 1860.92l2.6 2.6l-2.6 2.6l-2.6 -2.6zM672.54 1858.69l2.6 2.6l-2.6 2.6l-2.6 -2.6zM730.1 1855.83l2.6 2.6l-2.6 2.6l-2.6 -2.6zM764.43 1857.11l2.6 2.6l-2.6 2.6l-2.6 -2.6zM682.47 1853.36l2.6 2.6l-2.6 2.6l-2.6 -2.6zM725.76 1848.99l2.6 2.6l-2.6 2.6l-2.6 -2.6zM705.8 1852.68l2.6 2.6l-2.6 2.6l-2.6 -2.6zM650.12 1860.68l2.6 2.6l-2.6 2.6l-2.6 -2.6zM628.91 1862.61l2.6 2.6l-2.6 2.6l-2.6 -2.6zM722.24 1852.6l2.6 2.6l-2.6 2.6l-2.6 -2.6zM708.6 1852.78l2.6 2.6l-2.6 2.6l-2.6 -2.6zM741.68 1859.9l2.6 2.6l-2.6 2.6l-2.6 -2.6zM683.64 1857.48l2.6 2.6l-2.6 2.6l-2.6 -2.6zM664.57 1861.73l2.6 2.6l-2.6 2.6l-2.6 -2.6zM761.21 1857.18l2.6 2.6l-2.6 2.6l-2.6 -2.6zM744.15 1857.54l2.6 2.6l-2.6 2.6l-2.6 -2.6zM639.07 1864.73l2.6 2.6l-2.6 2.6l-2.6 -2.6zM692.99 1856.68l2.6 2.6l-2.6 2.6l-2.6 -2.6zM610.08 1873.86l2.6 2.6l-2.6 2.6l-2.6 -2.6zM618.93 1868.14l2.6 2.6l-2.6 2.6l-2.6 -2.6zM610.53 1874.14l2.6 2.6l-2.6 2.6l-2.6 -2.6zM761.98 1853.53l2.6 2.6l-2.6 2.6l-2.6 -2.6zM722.13 1851.75l2.6 2.6l-2.6 2.6l-2.6 -2.6zM697.6 1849.34l2.6 2.6l-2.6 2.6l-2.6 -2.6zM697.13 1854.4l2.6 2.6l-2.6 2.6l-2.6 -2.6zM685.77 1848.69l2.6 2.6l-2.6 2.6l-2.6 -2.6zM687.58 1859.69l2.6 2.6l-2.6 2.6l-2.6 -2.6zM690.53 1856.23l2.6 2.6l-2.6 2.6l-2.6 -2.6zM709.95 1854.27l2.6 2.6l-2.6 2.6l-2.6 -2.6zM714.44 1850.64l2.6 2.6l-2.6 2.6l-2.6 -2.6zM712.49 1857.41l2.6 2.6l-2.6 2.6l-2.6 -2.6zM711.56 1851.93l2.6 2.6l-2.6 2.6l-2.6 -2.6zM674.55 1860.38l2.6 2.6l-2.6 2.6l-2.6 -2.6zM750.04 1855.9l2.6 2.6l-2.6 2.6l-2.6 -2.6zM657.85 1862.64l2.6 2.6l-2.6 2.6l-2.6 -2.6zM701.15 1853.98l2.6 2.6l-2.6 2.6l-2.6 -2.6zM674.82 1860.34l2.6 2.6l-2.6 2.6l-2.6 -2.6zM687.27 1856.12l2.6 2.6l-2.6 2.6l-2.6 -2.6zM634.41 1863.31l2.6 2.6l-2.6 2.6l-2.6 -2.6zM659.44 1861.69l2.6 2.6l-2.6 2.6l-2.6 -2.6zM718.98 1853.05l2.6 2.6l-2.6 2.6l-2.6 -2.6zM656.18 1859.8l2.6 2.6l-2.6 2.6l-2.6 -2.6zM665.53 1862.57l2.6 2.6l-2.6 2.6l-2.6 -2.6zM612.29 1868.69l2.6 2.6l-2.6 2.6l-2.6 -2.6zM643.58 1861.08l2.6 2.6l-2.6 2.6l-2.6 -2.6zM634.22 1864.39l2.6 2.6l-2.6 2.6l-2.6 -2.6zM706.19 1853.74l2.6 2.6l-2.6 2.6l-2.6 -2.6zM716.1 1848.63l2.6 2.6l-2.6 2.6l-2.6 -2.6zM666.03 1860.58l2.6 2.6l-2.6 2.6l-2.6 -2.6zM757.67 1852.72l2.6 2.6l-2.6 2.6l-2.6 -2.6zM683.75 1859.05l2.6 2.6l-2.6 2.6l-2.6 -2.6zM664.93 1852.09l2.6 2.6l-2.6 2.6l-2.6 -2.6zM761.61 1858.6l2.6 2.6l-2.6 2.6l-2.6 -2.6zM757.87 1853.28l2.6 2.6l-2.6 2.6l-2.6 -2.6zM712.31 1852.01l2.6 2.6l-2.6 2.6l-2.6 -2.6zM735.35 1860.9l2.6 2.6l-2.6 2.6l-2.6 -2.6zM615.94 1872.29l2.6 2.6l-2.6 2.6l-2.6 -2.6zM750.75 1853.56l2.6 2.6l-2.6 2.6l-2.6 -2.6zM748.76 1859.52l2.6 2.6l-2.6 2.6l-2.6 -2.6zM621.86 1865.98l2.6 2.6l-2.6 2.6l-2.6 -2.6zM636.76 1862.02l2.6 2.6l-2.6 2.6l-2.6 -2.6zM767.3 1856.78l2.6 2.6l-2.6 2.6l-2.6 -2.6zM718.78 1852.2l2.6 2.6l-2.6 2.6l-2.6 -2.6zM631.16 1859.09l2.6 2.6l-2.6 2.6l-2.6 -2.6zM749.9 1860.54l2.6 2.6l-2.6 2.6l-2.6 -2.6zM649.66 1863.05l2.6 2.6l-2.6 2.6l-2.6 -2.6zM727.74 1855.96l2.6 2.6l-2.6 2.6l-2.6 -2.6zM618.02 1868.53l2.6 2.6l-2.6 2.6l-2.6 -2.6zM699.18 1863.06l2.6 2.6l-2.6 2.6l-2.6 -2.6zM613.08 1868.23l2.6 2.6l-2.6 2.6l-2.6 -2.6zM706.08 1858.49l2.6 2.6l-2.6 2.6l-2.6 -2.6zM683.57 1857.33l2.6 2.6l-2.6 2.6l-2.6 -2.6zM687.41 1854.16l2.6 2.6l-2.6 2.6l-2.6 -2.6zM659.4 1863.29l2.6 2.6l-2.6 2.6l-2.6 -2.6zM716.36 1859.13l2.6 2.6l-2.6 2.6l-2.6 -2.6zM676.34 1856.24l2.6 2.6l-2.6 2.6l-2.6 -2.6zM646.79 1855.61l2.6 2.6l-2.6 2.6l-2.6 -2.6zM617.2 1867.33l2.6 2.6l-2.6 2.6l-2.6 -2.6zM724.28 1856.96l2.6 2.6l-2.6 2.6l-2.6 -2.6zM615.39 1864.62l2.6 2.6l-2.6 2.6l-2.6 -2.6zM648 1846.4l2.6 2.6l-2.6 2.6l-2.6 -2.6zM688 1846.4l2.6 2.6l-2.6 2.6l-2.6 -2.6zM695 1847.4l2.6 2.6l-2.6 2.6l-2.6 -2.6zM703 1846.4l2.6 2.6l-2.6 2.6l-2.6 -2.6zM719 1846.4l2.6 2.6l-2.6 2.6l-2.6 -2.6zM611 1876.4l2.6 2.6l-2.6 2.6l-2.6 -2.6zM613 1874.4l2.6 2.6l-2.6 2.6l-2.6 -2.6z" fill="#009e73"/>
<path d="M742.4 1688l2.5 2.5l-2.5 2.5l-2.5 -2.5z" fill="#009e73"/>
<text x="623.5" y="1399" font-family="'DejaVu Sans Condensed','DejaVu Sans',sans-serif" font-size="16"><tspan>q for </tspan>h<tspan font-size="13" dy="5.2">qH</tspan><tspan font-size="9.5" dy="-6.4">2</tspan><tspan font-size="10.2" dy="7.5">max</tspan></text>
<text x="661.2" y="1695.6" font-family="'DejaVu Sans Condensed','DejaVu Sans',sans-serif" font-size="16">h<tspan font-size="13" dy="5.2">qH</tspan><tspan font-size="9.5" dy="-6.4">2</tspan><tspan font-size="10.2" dy="7.5">max</tspan></text>
<path d="M68.5 1759h7v-2l7.5 3.3l-7.5 3.3v-2h-7z" fill="#56b4e9"/>
<text x="125" y="155" font-family="'DejaVu Sans Condensed','DejaVu Sans',sans-serif" font-weight="bold" font-size="38.4" textLength="609" lengthAdjust="spacingAndGlyphs" fill="#000" fill-opacity="0.24">Institute of ionosphere, Kharkiv</text>
<text x="125" y="455" font-family="'DejaVu Sans Condensed','DejaVu Sans',sans-serif" font-weight="bold" font-size="38.4" textLength="609" lengthAdjust="spacingAndGlyphs" fill="#000" fill-opacity="0.24">Institute of ionosphere, Kharkiv</text>
<text x="125" y="834" font-family="'DejaVu Sans Condensed','DejaVu Sans',sans-serif" font-weight="bold" font-size="38.4" textLength="609" lengthAdjust="spacingAndGlyphs" fill="#000" fill-opacity="0.24">Institute of ionosphere, Kharkiv</text>
<text x="125" y="1213" font-family="'DejaVu Sans Condensed','DejaVu Sans',sans-serif" font-weight="bold" font-size="38.4" textLength="609" lengthAdjust="spacingAndGlyphs" fill="#000" fill-opacity="0.24">Institute of ionosphere, Kharkiv</text>
<text x="125" y="1513" font-family="'DejaVu Sans Condensed','DejaVu Sans',sans-serif" font-weight="bold" font-size="38.4" textLength="609" lengthAdjust="spacingAndGlyphs" fill="#000" fill-opacity="0.24">Institute of ionosphere, Kharkiv</text>
<text x="125" y="1813" font-family="'DejaVu Sans Condensed','DejaVu Sans',sans-serif" font-weight="bold" font-size="38.4" textLength="609" lengthAdjust="spacingAndGlyphs" fill="#000" fill-opacity="0.24">Institute of ionosphere, Kharkiv</text>
</svg></body></html>
